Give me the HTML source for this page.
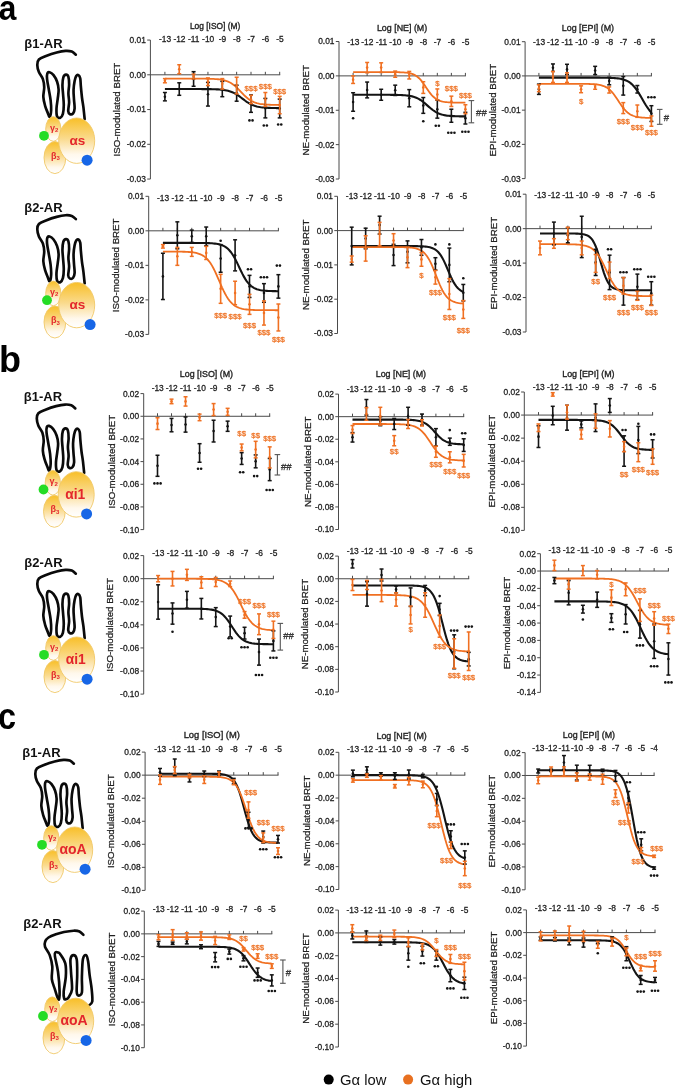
<!DOCTYPE html>
<html><head><meta charset="utf-8"><style>
html,body{margin:0;padding:0;background:#fff;}
svg{display:block;will-change:transform;}
</style></head><body>
<svg width="675" height="1089" viewBox="0 0 675 1089" font-family='"Liberation Sans", sans-serif'>
<rect width="675" height="1089" fill="#fff"/>
<line x1="150.40" y1="40.05" x2="150.40" y2="179.05" stroke="#4a4a4a" stroke-width="1"/>
<line x1="147.20" y1="40.05" x2="150.40" y2="40.05" stroke="#4a4a4a" stroke-width="1"/>
<text x="145.90" y="42.95" font-size="8.4" text-anchor="end" fill="#222" stroke="#222" stroke-width="0.28">0.01</text>
<line x1="147.20" y1="74.80" x2="150.40" y2="74.80" stroke="#4a4a4a" stroke-width="1"/>
<text x="145.90" y="77.70" font-size="8.4" text-anchor="end" fill="#222" stroke="#222" stroke-width="0.28">0.00</text>
<line x1="147.20" y1="109.55" x2="150.40" y2="109.55" stroke="#4a4a4a" stroke-width="1"/>
<text x="145.90" y="112.45" font-size="8.4" text-anchor="end" fill="#222" stroke="#222" stroke-width="0.28">-0.01</text>
<line x1="147.20" y1="144.30" x2="150.40" y2="144.30" stroke="#4a4a4a" stroke-width="1"/>
<text x="145.90" y="147.20" font-size="8.4" text-anchor="end" fill="#222" stroke="#222" stroke-width="0.28">-0.02</text>
<line x1="147.20" y1="179.05" x2="150.40" y2="179.05" stroke="#4a4a4a" stroke-width="1"/>
<text x="145.90" y="181.95" font-size="8.4" text-anchor="end" fill="#222" stroke="#222" stroke-width="0.28">-0.03</text>
<line x1="150.40" y1="74.80" x2="280.20" y2="74.80" stroke="#4a4a4a" stroke-width="1"/>
<line x1="164.90" y1="71.80" x2="164.90" y2="74.80" stroke="#4a4a4a" stroke-width="1"/>
<text x="165.10" y="42.45" font-size="8.4" text-anchor="middle" fill="#222" stroke="#222" stroke-width="0.28">-13</text>
<line x1="179.25" y1="71.80" x2="179.25" y2="74.80" stroke="#4a4a4a" stroke-width="1"/>
<text x="179.45" y="42.45" font-size="8.4" text-anchor="middle" fill="#222" stroke="#222" stroke-width="0.28">-12</text>
<line x1="193.60" y1="71.80" x2="193.60" y2="74.80" stroke="#4a4a4a" stroke-width="1"/>
<text x="193.80" y="42.45" font-size="8.4" text-anchor="middle" fill="#222" stroke="#222" stroke-width="0.28">-11</text>
<line x1="207.95" y1="71.80" x2="207.95" y2="74.80" stroke="#4a4a4a" stroke-width="1"/>
<text x="208.15" y="42.45" font-size="8.4" text-anchor="middle" fill="#222" stroke="#222" stroke-width="0.28">-10</text>
<line x1="222.30" y1="71.80" x2="222.30" y2="74.80" stroke="#4a4a4a" stroke-width="1"/>
<text x="222.50" y="42.45" font-size="8.4" text-anchor="middle" fill="#222" stroke="#222" stroke-width="0.28">-9</text>
<line x1="236.65" y1="71.80" x2="236.65" y2="74.80" stroke="#4a4a4a" stroke-width="1"/>
<text x="236.85" y="42.45" font-size="8.4" text-anchor="middle" fill="#222" stroke="#222" stroke-width="0.28">-8</text>
<line x1="251.00" y1="71.80" x2="251.00" y2="74.80" stroke="#4a4a4a" stroke-width="1"/>
<text x="251.20" y="42.45" font-size="8.4" text-anchor="middle" fill="#222" stroke="#222" stroke-width="0.28">-7</text>
<line x1="265.35" y1="71.80" x2="265.35" y2="74.80" stroke="#4a4a4a" stroke-width="1"/>
<text x="265.55" y="42.45" font-size="8.4" text-anchor="middle" fill="#222" stroke="#222" stroke-width="0.28">-6</text>
<line x1="279.70" y1="71.80" x2="279.70" y2="74.80" stroke="#4a4a4a" stroke-width="1"/>
<text x="279.90" y="42.45" font-size="8.4" text-anchor="middle" fill="#222" stroke="#222" stroke-width="0.28">-5</text>
<text x="215.10" y="29.20" font-size="8.4" text-anchor="middle" fill="#222" stroke="#222" stroke-width="0.35">Log [ISO] (M)</text>
<text transform="translate(120.30,109.55) rotate(-90)" font-size="9.7" text-anchor="middle" fill="#222" stroke="#222" stroke-width="0.25">ISO-modulated BRET</text>
<polyline points="164.90,89.05 166.34,89.05 167.77,89.05 169.21,89.05 170.64,89.05 172.08,89.05 173.51,89.05 174.94,89.05 176.38,89.05 177.81,89.05 179.25,89.05 180.69,89.05 182.12,89.05 183.56,89.05 184.99,89.05 186.43,89.05 187.86,89.05 189.29,89.05 190.73,89.05 192.17,89.05 193.60,89.06 195.03,89.06 196.47,89.06 197.91,89.06 199.34,89.07 200.78,89.07 202.21,89.08 203.64,89.09 205.08,89.10 206.52,89.11 207.95,89.12 209.38,89.14 210.82,89.17 212.25,89.20 213.69,89.24 215.12,89.29 216.56,89.35 218.00,89.42 219.43,89.52 220.87,89.63 222.30,89.78 223.73,89.96 225.17,90.18 226.61,90.45 228.04,90.78 229.47,91.18 230.91,91.66 232.34,92.23 233.78,92.88 235.22,93.64 236.65,94.49 238.08,95.43 239.52,96.44 240.95,97.51 242.39,98.60 243.82,99.70 245.26,100.77 246.69,101.78 248.13,102.72 249.56,103.57 251.00,104.32 252.44,104.98 253.87,105.55 255.31,106.02 256.74,106.42 258.18,106.75 259.61,107.03 261.04,107.25 262.48,107.43 263.91,107.57 265.35,107.69 266.78,107.79 268.22,107.86 269.65,107.92 271.09,107.97 272.52,108.01 273.96,108.04 275.39,108.06 276.83,108.08 278.26,108.10 279.70,108.11" fill="none" stroke="#141414" stroke-width="2.1"/>
<polyline points="164.90,78.62 166.34,78.62 167.77,78.62 169.21,78.62 170.64,78.62 172.08,78.62 173.51,78.62 174.94,78.62 176.38,78.62 177.81,78.62 179.25,78.62 180.69,78.62 182.12,78.62 183.56,78.63 184.99,78.63 186.43,78.63 187.86,78.63 189.29,78.63 190.73,78.63 192.17,78.63 193.60,78.64 195.03,78.64 196.47,78.64 197.91,78.65 199.34,78.66 200.78,78.66 202.21,78.68 203.64,78.69 205.08,78.71 206.52,78.73 207.95,78.75 209.38,78.79 210.82,78.83 212.25,78.88 213.69,78.95 215.12,79.03 216.56,79.14 218.00,79.27 219.43,79.43 220.87,79.63 222.30,79.88 223.73,80.19 225.17,80.57 226.61,81.02 228.04,81.58 229.47,82.24 230.91,83.02 232.34,83.92 233.78,84.97 235.22,86.14 236.65,87.44 238.08,88.84 239.52,90.31 240.95,91.83 242.39,93.34 243.82,94.82 245.26,96.22 246.69,97.51 248.13,98.69 249.56,99.73 251.00,100.64 252.44,101.42 253.87,102.08 255.31,102.63 256.74,103.09 258.18,103.47 259.61,103.77 261.04,104.02 262.48,104.22 263.91,104.39 265.35,104.52 266.78,104.62 268.22,104.70 269.65,104.77 271.09,104.82 272.52,104.87 273.96,104.90 275.39,104.93 276.83,104.95 278.26,104.97 279.70,104.98" fill="none" stroke="#f07022" stroke-width="1.8"/>
<line x1="164.90" y1="92.52" x2="164.90" y2="100.86" stroke="#141414" stroke-width="1.6"/>
<line x1="162.90" y1="92.52" x2="166.90" y2="92.52" stroke="#141414" stroke-width="1.5"/>
<line x1="162.90" y1="100.86" x2="166.90" y2="100.86" stroke="#141414" stroke-width="1.5"/>
<circle cx="164.90" cy="96.69" r="1.3" fill="#141414"/>
<line x1="179.25" y1="82.79" x2="179.25" y2="95.30" stroke="#141414" stroke-width="1.6"/>
<line x1="177.25" y1="82.79" x2="181.25" y2="82.79" stroke="#141414" stroke-width="1.5"/>
<line x1="177.25" y1="95.30" x2="181.25" y2="95.30" stroke="#141414" stroke-width="1.5"/>
<circle cx="179.25" cy="89.05" r="1.3" fill="#141414"/>
<line x1="193.60" y1="71.67" x2="193.60" y2="86.27" stroke="#141414" stroke-width="1.6"/>
<line x1="191.60" y1="71.67" x2="195.60" y2="71.67" stroke="#141414" stroke-width="1.5"/>
<line x1="191.60" y1="86.27" x2="195.60" y2="86.27" stroke="#141414" stroke-width="1.5"/>
<circle cx="193.60" cy="78.97" r="1.3" fill="#141414"/>
<line x1="207.95" y1="82.44" x2="207.95" y2="106.07" stroke="#141414" stroke-width="1.6"/>
<line x1="205.95" y1="82.44" x2="209.95" y2="82.44" stroke="#141414" stroke-width="1.5"/>
<line x1="205.95" y1="106.07" x2="209.95" y2="106.07" stroke="#141414" stroke-width="1.5"/>
<circle cx="207.95" cy="94.26" r="1.3" fill="#141414"/>
<line x1="222.30" y1="81.40" x2="222.30" y2="96.69" stroke="#141414" stroke-width="1.6"/>
<line x1="220.30" y1="81.40" x2="224.30" y2="81.40" stroke="#141414" stroke-width="1.5"/>
<line x1="220.30" y1="96.69" x2="224.30" y2="96.69" stroke="#141414" stroke-width="1.5"/>
<circle cx="222.30" cy="89.05" r="1.3" fill="#141414"/>
<line x1="236.65" y1="85.22" x2="236.65" y2="101.21" stroke="#141414" stroke-width="1.6"/>
<line x1="234.65" y1="85.22" x2="238.65" y2="85.22" stroke="#141414" stroke-width="1.5"/>
<line x1="234.65" y1="101.21" x2="238.65" y2="101.21" stroke="#141414" stroke-width="1.5"/>
<circle cx="236.65" cy="93.22" r="1.3" fill="#141414"/>
<line x1="251.00" y1="94.95" x2="251.00" y2="112.33" stroke="#141414" stroke-width="1.6"/>
<line x1="249.00" y1="94.95" x2="253.00" y2="94.95" stroke="#141414" stroke-width="1.5"/>
<line x1="249.00" y1="112.33" x2="253.00" y2="112.33" stroke="#141414" stroke-width="1.5"/>
<circle cx="251.00" cy="103.64" r="1.3" fill="#141414"/>
<line x1="265.35" y1="98.43" x2="265.35" y2="117.89" stroke="#141414" stroke-width="1.6"/>
<line x1="263.35" y1="98.43" x2="267.35" y2="98.43" stroke="#141414" stroke-width="1.5"/>
<line x1="263.35" y1="117.89" x2="267.35" y2="117.89" stroke="#141414" stroke-width="1.5"/>
<circle cx="265.35" cy="108.16" r="1.3" fill="#141414"/>
<line x1="279.70" y1="99.12" x2="279.70" y2="117.89" stroke="#141414" stroke-width="1.6"/>
<line x1="277.70" y1="99.12" x2="281.70" y2="99.12" stroke="#141414" stroke-width="1.5"/>
<line x1="277.70" y1="117.89" x2="281.70" y2="117.89" stroke="#141414" stroke-width="1.5"/>
<circle cx="279.70" cy="108.51" r="1.3" fill="#141414"/>
<line x1="164.90" y1="78.62" x2="164.90" y2="82.79" stroke="#f07022" stroke-width="1.6"/>
<line x1="162.90" y1="78.62" x2="166.90" y2="78.62" stroke="#f07022" stroke-width="1.5"/>
<line x1="162.90" y1="82.79" x2="166.90" y2="82.79" stroke="#f07022" stroke-width="1.5"/>
<circle cx="164.90" cy="80.71" r="1.3" fill="#f07022"/>
<line x1="179.25" y1="64.72" x2="179.25" y2="73.76" stroke="#f07022" stroke-width="1.6"/>
<line x1="177.25" y1="64.72" x2="181.25" y2="64.72" stroke="#f07022" stroke-width="1.5"/>
<line x1="177.25" y1="73.76" x2="181.25" y2="73.76" stroke="#f07022" stroke-width="1.5"/>
<circle cx="179.25" cy="69.24" r="1.3" fill="#f07022"/>
<line x1="193.60" y1="74.10" x2="193.60" y2="78.97" stroke="#f07022" stroke-width="1.6"/>
<line x1="191.60" y1="74.10" x2="195.60" y2="74.10" stroke="#f07022" stroke-width="1.5"/>
<line x1="191.60" y1="78.97" x2="195.60" y2="78.97" stroke="#f07022" stroke-width="1.5"/>
<circle cx="193.60" cy="76.54" r="1.3" fill="#f07022"/>
<line x1="207.95" y1="77.93" x2="207.95" y2="85.57" stroke="#f07022" stroke-width="1.6"/>
<line x1="205.95" y1="77.93" x2="209.95" y2="77.93" stroke="#f07022" stroke-width="1.5"/>
<line x1="205.95" y1="85.57" x2="209.95" y2="85.57" stroke="#f07022" stroke-width="1.5"/>
<circle cx="207.95" cy="81.75" r="1.3" fill="#f07022"/>
<line x1="222.30" y1="78.62" x2="222.30" y2="89.05" stroke="#f07022" stroke-width="1.6"/>
<line x1="220.30" y1="78.62" x2="224.30" y2="78.62" stroke="#f07022" stroke-width="1.5"/>
<line x1="220.30" y1="89.05" x2="224.30" y2="89.05" stroke="#f07022" stroke-width="1.5"/>
<circle cx="222.30" cy="83.84" r="1.3" fill="#f07022"/>
<line x1="236.65" y1="77.23" x2="236.65" y2="93.91" stroke="#f07022" stroke-width="1.6"/>
<line x1="234.65" y1="77.23" x2="238.65" y2="77.23" stroke="#f07022" stroke-width="1.5"/>
<line x1="234.65" y1="93.91" x2="238.65" y2="93.91" stroke="#f07022" stroke-width="1.5"/>
<circle cx="236.65" cy="85.57" r="1.3" fill="#f07022"/>
<line x1="251.00" y1="95.30" x2="251.00" y2="103.64" stroke="#f07022" stroke-width="1.6"/>
<line x1="249.00" y1="95.30" x2="253.00" y2="95.30" stroke="#f07022" stroke-width="1.5"/>
<line x1="249.00" y1="103.64" x2="253.00" y2="103.64" stroke="#f07022" stroke-width="1.5"/>
<circle cx="251.00" cy="99.47" r="1.3" fill="#f07022"/>
<line x1="265.35" y1="92.52" x2="265.35" y2="106.42" stroke="#f07022" stroke-width="1.6"/>
<line x1="263.35" y1="92.52" x2="267.35" y2="92.52" stroke="#f07022" stroke-width="1.5"/>
<line x1="263.35" y1="106.42" x2="267.35" y2="106.42" stroke="#f07022" stroke-width="1.5"/>
<circle cx="265.35" cy="99.47" r="1.3" fill="#f07022"/>
<line x1="279.70" y1="96.34" x2="279.70" y2="113.72" stroke="#f07022" stroke-width="1.6"/>
<line x1="277.70" y1="96.34" x2="281.70" y2="96.34" stroke="#f07022" stroke-width="1.5"/>
<line x1="277.70" y1="113.72" x2="281.70" y2="113.72" stroke="#f07022" stroke-width="1.5"/>
<circle cx="279.70" cy="105.03" r="1.3" fill="#f07022"/>
<circle cx="249.45" cy="120.40" r="1.3" fill="#141414"/>
<circle cx="252.55" cy="120.40" r="1.3" fill="#141414"/>
<circle cx="263.80" cy="125.50" r="1.3" fill="#141414"/>
<circle cx="266.90" cy="125.50" r="1.3" fill="#141414"/>
<circle cx="278.15" cy="124.50" r="1.3" fill="#141414"/>
<circle cx="281.25" cy="124.50" r="1.3" fill="#141414"/>
<text x="251.00" y="90.70" font-size="7.8" text-anchor="middle" fill="#ef7a30" stroke="#ef7a30" stroke-width="0.3">$$$</text>
<text x="265.35" y="88.60" font-size="7.8" text-anchor="middle" fill="#ef7a30" stroke="#ef7a30" stroke-width="0.3">$$$</text>
<text x="279.70" y="93.80" font-size="7.8" text-anchor="middle" fill="#ef7a30" stroke="#ef7a30" stroke-width="0.3">$$$</text>
<line x1="339.00" y1="41.50" x2="339.00" y2="179.00" stroke="#4a4a4a" stroke-width="1"/>
<line x1="335.80" y1="41.50" x2="339.00" y2="41.50" stroke="#4a4a4a" stroke-width="1"/>
<text x="334.50" y="44.40" font-size="8.4" text-anchor="end" fill="#222" stroke="#222" stroke-width="0.28">0.01</text>
<line x1="335.80" y1="75.88" x2="339.00" y2="75.88" stroke="#4a4a4a" stroke-width="1"/>
<text x="334.50" y="78.78" font-size="8.4" text-anchor="end" fill="#222" stroke="#222" stroke-width="0.28">0.00</text>
<line x1="335.80" y1="110.25" x2="339.00" y2="110.25" stroke="#4a4a4a" stroke-width="1"/>
<text x="334.50" y="113.15" font-size="8.4" text-anchor="end" fill="#222" stroke="#222" stroke-width="0.28">-0.01</text>
<line x1="335.80" y1="144.62" x2="339.00" y2="144.62" stroke="#4a4a4a" stroke-width="1"/>
<text x="334.50" y="147.53" font-size="8.4" text-anchor="end" fill="#222" stroke="#222" stroke-width="0.28">-0.02</text>
<line x1="335.80" y1="179.00" x2="339.00" y2="179.00" stroke="#4a4a4a" stroke-width="1"/>
<text x="334.50" y="181.90" font-size="8.4" text-anchor="end" fill="#222" stroke="#222" stroke-width="0.28">-0.03</text>
<line x1="339.00" y1="75.88" x2="465.90" y2="75.88" stroke="#4a4a4a" stroke-width="1"/>
<line x1="353.10" y1="72.88" x2="353.10" y2="75.88" stroke="#4a4a4a" stroke-width="1"/>
<text x="353.30" y="44.80" font-size="8.4" text-anchor="middle" fill="#222" stroke="#222" stroke-width="0.28">-13</text>
<line x1="367.14" y1="72.88" x2="367.14" y2="75.88" stroke="#4a4a4a" stroke-width="1"/>
<text x="367.34" y="44.80" font-size="8.4" text-anchor="middle" fill="#222" stroke="#222" stroke-width="0.28">-12</text>
<line x1="381.18" y1="72.88" x2="381.18" y2="75.88" stroke="#4a4a4a" stroke-width="1"/>
<text x="381.38" y="44.80" font-size="8.4" text-anchor="middle" fill="#222" stroke="#222" stroke-width="0.28">-11</text>
<line x1="395.21" y1="72.88" x2="395.21" y2="75.88" stroke="#4a4a4a" stroke-width="1"/>
<text x="395.41" y="44.80" font-size="8.4" text-anchor="middle" fill="#222" stroke="#222" stroke-width="0.28">-10</text>
<line x1="409.25" y1="72.88" x2="409.25" y2="75.88" stroke="#4a4a4a" stroke-width="1"/>
<text x="409.45" y="44.80" font-size="8.4" text-anchor="middle" fill="#222" stroke="#222" stroke-width="0.28">-9</text>
<line x1="423.29" y1="72.88" x2="423.29" y2="75.88" stroke="#4a4a4a" stroke-width="1"/>
<text x="423.49" y="44.80" font-size="8.4" text-anchor="middle" fill="#222" stroke="#222" stroke-width="0.28">-8</text>
<line x1="437.32" y1="72.88" x2="437.32" y2="75.88" stroke="#4a4a4a" stroke-width="1"/>
<text x="437.52" y="44.80" font-size="8.4" text-anchor="middle" fill="#222" stroke="#222" stroke-width="0.28">-7</text>
<line x1="451.36" y1="72.88" x2="451.36" y2="75.88" stroke="#4a4a4a" stroke-width="1"/>
<text x="451.56" y="44.80" font-size="8.4" text-anchor="middle" fill="#222" stroke="#222" stroke-width="0.28">-6</text>
<line x1="465.40" y1="72.88" x2="465.40" y2="75.88" stroke="#4a4a4a" stroke-width="1"/>
<text x="465.60" y="44.80" font-size="8.4" text-anchor="middle" fill="#222" stroke="#222" stroke-width="0.28">-5</text>
<text x="402.05" y="31.00" font-size="8.9" text-anchor="middle" fill="#222" stroke="#222" stroke-width="0.35">Log [NE] (M)</text>
<text transform="translate(309.20,110.25) rotate(-90)" font-size="9.7" text-anchor="middle" fill="#222" stroke="#222" stroke-width="0.25">NE-modulated BRET</text>
<polyline points="353.10,94.78 354.50,94.78 355.91,94.78 357.31,94.78 358.72,94.78 360.12,94.78 361.52,94.78 362.93,94.78 364.33,94.78 365.73,94.78 367.14,94.78 368.54,94.78 369.94,94.78 371.35,94.78 372.75,94.78 374.16,94.78 375.56,94.79 376.96,94.79 378.37,94.79 379.77,94.79 381.18,94.79 382.58,94.79 383.98,94.80 385.39,94.80 386.79,94.81 388.19,94.82 389.60,94.82 391.00,94.84 392.41,94.85 393.81,94.87 395.21,94.89 396.62,94.92 398.02,94.95 399.42,95.00 400.83,95.05 402.23,95.12 403.63,95.20 405.04,95.31 406.44,95.45 407.85,95.61 409.25,95.81 410.65,96.07 412.06,96.37 413.46,96.75 414.87,97.20 416.27,97.74 417.67,98.38 419.08,99.13 420.48,99.98 421.88,100.95 423.29,102.01 424.69,103.16 426.10,104.37 427.50,105.61 428.90,106.85 430.31,108.06 431.71,109.21 433.11,110.27 434.52,111.23 435.92,112.09 437.32,112.84 438.73,113.47 440.13,114.02 441.54,114.47 442.94,114.84 444.34,115.15 445.75,115.40 447.15,115.61 448.55,115.77 449.96,115.91 451.36,116.01 452.77,116.10 454.17,116.17 455.57,116.22 456.98,116.27 458.38,116.30 459.78,116.33 461.19,116.35 462.59,116.37 464.00,116.38 465.40,116.39" fill="none" stroke="#141414" stroke-width="2.1"/>
<polyline points="353.10,72.09 354.50,72.09 355.91,72.09 357.31,72.09 358.72,72.09 360.12,72.09 361.52,72.09 362.93,72.09 364.33,72.09 365.73,72.09 367.14,72.09 368.54,72.09 369.94,72.09 371.35,72.09 372.75,72.09 374.16,72.09 375.56,72.10 376.96,72.10 378.37,72.10 379.77,72.10 381.18,72.10 382.58,72.10 383.98,72.10 385.39,72.10 386.79,72.11 388.19,72.11 389.60,72.12 391.00,72.12 392.41,72.13 393.81,72.15 395.21,72.16 396.62,72.19 398.02,72.22 399.42,72.25 400.83,72.30 402.23,72.37 403.63,72.46 405.04,72.57 406.44,72.72 407.85,72.91 409.25,73.17 410.65,73.49 412.06,73.91 413.46,74.44 414.87,75.12 416.27,75.96 417.67,76.99 419.08,78.24 420.48,79.70 421.88,81.39 423.29,83.27 424.69,85.29 426.10,87.39 427.50,89.49 428.90,91.51 430.31,93.39 431.71,95.08 433.11,96.55 434.52,97.79 435.92,98.82 437.32,99.66 438.73,100.34 440.13,100.87 441.54,101.29 442.94,101.62 444.34,101.87 445.75,102.06 447.15,102.21 448.55,102.32 449.96,102.41 451.36,102.48 452.77,102.53 454.17,102.57 455.57,102.60 456.98,102.62 458.38,102.63 459.78,102.65 461.19,102.66 462.59,102.66 464.00,102.67 465.40,102.67" fill="none" stroke="#f07022" stroke-width="1.8"/>
<line x1="353.10" y1="92.72" x2="353.10" y2="111.28" stroke="#141414" stroke-width="1.6"/>
<line x1="351.10" y1="92.72" x2="355.10" y2="92.72" stroke="#141414" stroke-width="1.5"/>
<line x1="351.10" y1="111.28" x2="355.10" y2="111.28" stroke="#141414" stroke-width="1.5"/>
<circle cx="353.10" cy="102.00" r="1.3" fill="#141414"/>
<line x1="367.14" y1="82.06" x2="367.14" y2="97.88" stroke="#141414" stroke-width="1.6"/>
<line x1="365.14" y1="82.06" x2="369.14" y2="82.06" stroke="#141414" stroke-width="1.5"/>
<line x1="365.14" y1="97.88" x2="369.14" y2="97.88" stroke="#141414" stroke-width="1.5"/>
<circle cx="367.14" cy="89.97" r="1.3" fill="#141414"/>
<line x1="381.18" y1="89.28" x2="381.18" y2="100.28" stroke="#141414" stroke-width="1.6"/>
<line x1="379.18" y1="89.28" x2="383.18" y2="89.28" stroke="#141414" stroke-width="1.5"/>
<line x1="379.18" y1="100.28" x2="383.18" y2="100.28" stroke="#141414" stroke-width="1.5"/>
<circle cx="381.18" cy="94.78" r="1.3" fill="#141414"/>
<line x1="395.21" y1="85.16" x2="395.21" y2="95.47" stroke="#141414" stroke-width="1.6"/>
<line x1="393.21" y1="85.16" x2="397.21" y2="85.16" stroke="#141414" stroke-width="1.5"/>
<line x1="393.21" y1="95.47" x2="397.21" y2="95.47" stroke="#141414" stroke-width="1.5"/>
<circle cx="395.21" cy="90.31" r="1.3" fill="#141414"/>
<line x1="409.25" y1="89.62" x2="409.25" y2="106.81" stroke="#141414" stroke-width="1.6"/>
<line x1="407.25" y1="89.62" x2="411.25" y2="89.62" stroke="#141414" stroke-width="1.5"/>
<line x1="407.25" y1="106.81" x2="411.25" y2="106.81" stroke="#141414" stroke-width="1.5"/>
<circle cx="409.25" cy="98.22" r="1.3" fill="#141414"/>
<line x1="423.29" y1="97.53" x2="423.29" y2="113.34" stroke="#141414" stroke-width="1.6"/>
<line x1="421.29" y1="97.53" x2="425.29" y2="97.53" stroke="#141414" stroke-width="1.5"/>
<line x1="421.29" y1="113.34" x2="425.29" y2="113.34" stroke="#141414" stroke-width="1.5"/>
<circle cx="423.29" cy="105.44" r="1.3" fill="#141414"/>
<line x1="437.32" y1="100.28" x2="437.32" y2="118.16" stroke="#141414" stroke-width="1.6"/>
<line x1="435.32" y1="100.28" x2="439.32" y2="100.28" stroke="#141414" stroke-width="1.5"/>
<line x1="435.32" y1="118.16" x2="439.32" y2="118.16" stroke="#141414" stroke-width="1.5"/>
<circle cx="437.32" cy="109.22" r="1.3" fill="#141414"/>
<line x1="451.36" y1="109.22" x2="451.36" y2="122.28" stroke="#141414" stroke-width="1.6"/>
<line x1="449.36" y1="109.22" x2="453.36" y2="109.22" stroke="#141414" stroke-width="1.5"/>
<line x1="449.36" y1="122.28" x2="453.36" y2="122.28" stroke="#141414" stroke-width="1.5"/>
<circle cx="451.36" cy="115.75" r="1.3" fill="#141414"/>
<line x1="465.40" y1="112.31" x2="465.40" y2="124.00" stroke="#141414" stroke-width="1.6"/>
<line x1="463.40" y1="112.31" x2="467.40" y2="112.31" stroke="#141414" stroke-width="1.5"/>
<line x1="463.40" y1="124.00" x2="467.40" y2="124.00" stroke="#141414" stroke-width="1.5"/>
<circle cx="465.40" cy="118.16" r="1.3" fill="#141414"/>
<line x1="353.10" y1="75.88" x2="353.10" y2="83.44" stroke="#f07022" stroke-width="1.6"/>
<line x1="351.10" y1="75.88" x2="355.10" y2="75.88" stroke="#f07022" stroke-width="1.5"/>
<line x1="351.10" y1="83.44" x2="355.10" y2="83.44" stroke="#f07022" stroke-width="1.5"/>
<circle cx="353.10" cy="79.66" r="1.3" fill="#f07022"/>
<line x1="367.14" y1="62.47" x2="367.14" y2="72.78" stroke="#f07022" stroke-width="1.6"/>
<line x1="365.14" y1="62.47" x2="369.14" y2="62.47" stroke="#f07022" stroke-width="1.5"/>
<line x1="365.14" y1="72.78" x2="369.14" y2="72.78" stroke="#f07022" stroke-width="1.5"/>
<circle cx="367.14" cy="67.62" r="1.3" fill="#f07022"/>
<line x1="381.18" y1="62.81" x2="381.18" y2="72.44" stroke="#f07022" stroke-width="1.6"/>
<line x1="379.18" y1="62.81" x2="383.18" y2="62.81" stroke="#f07022" stroke-width="1.5"/>
<line x1="379.18" y1="72.44" x2="383.18" y2="72.44" stroke="#f07022" stroke-width="1.5"/>
<circle cx="381.18" cy="67.62" r="1.3" fill="#f07022"/>
<line x1="395.21" y1="71.06" x2="395.21" y2="77.25" stroke="#f07022" stroke-width="1.6"/>
<line x1="393.21" y1="71.06" x2="397.21" y2="71.06" stroke="#f07022" stroke-width="1.5"/>
<line x1="393.21" y1="77.25" x2="397.21" y2="77.25" stroke="#f07022" stroke-width="1.5"/>
<circle cx="395.21" cy="74.16" r="1.3" fill="#f07022"/>
<line x1="409.25" y1="71.41" x2="409.25" y2="78.97" stroke="#f07022" stroke-width="1.6"/>
<line x1="407.25" y1="71.41" x2="411.25" y2="71.41" stroke="#f07022" stroke-width="1.5"/>
<line x1="407.25" y1="78.97" x2="411.25" y2="78.97" stroke="#f07022" stroke-width="1.5"/>
<circle cx="409.25" cy="75.19" r="1.3" fill="#f07022"/>
<line x1="423.29" y1="81.72" x2="423.29" y2="93.41" stroke="#f07022" stroke-width="1.6"/>
<line x1="421.29" y1="81.72" x2="425.29" y2="81.72" stroke="#f07022" stroke-width="1.5"/>
<line x1="421.29" y1="93.41" x2="425.29" y2="93.41" stroke="#f07022" stroke-width="1.5"/>
<circle cx="423.29" cy="87.56" r="1.3" fill="#f07022"/>
<line x1="437.32" y1="88.94" x2="437.32" y2="99.94" stroke="#f07022" stroke-width="1.6"/>
<line x1="435.32" y1="88.94" x2="439.32" y2="88.94" stroke="#f07022" stroke-width="1.5"/>
<line x1="435.32" y1="99.94" x2="439.32" y2="99.94" stroke="#f07022" stroke-width="1.5"/>
<circle cx="437.32" cy="94.44" r="1.3" fill="#f07022"/>
<line x1="451.36" y1="96.16" x2="451.36" y2="106.47" stroke="#f07022" stroke-width="1.6"/>
<line x1="449.36" y1="96.16" x2="453.36" y2="96.16" stroke="#f07022" stroke-width="1.5"/>
<line x1="449.36" y1="106.47" x2="453.36" y2="106.47" stroke="#f07022" stroke-width="1.5"/>
<circle cx="451.36" cy="101.31" r="1.3" fill="#f07022"/>
<line x1="465.40" y1="104.75" x2="465.40" y2="113.69" stroke="#f07022" stroke-width="1.6"/>
<line x1="463.40" y1="104.75" x2="467.40" y2="104.75" stroke="#f07022" stroke-width="1.5"/>
<line x1="463.40" y1="113.69" x2="467.40" y2="113.69" stroke="#f07022" stroke-width="1.5"/>
<circle cx="465.40" cy="109.22" r="1.3" fill="#f07022"/>
<circle cx="353.10" cy="118.30" r="1.3" fill="#141414"/>
<circle cx="423.29" cy="121.20" r="1.3" fill="#141414"/>
<circle cx="435.77" cy="125.70" r="1.3" fill="#141414"/>
<circle cx="438.88" cy="125.70" r="1.3" fill="#141414"/>
<circle cx="448.26" cy="132.80" r="1.3" fill="#141414"/>
<circle cx="451.36" cy="132.80" r="1.3" fill="#141414"/>
<circle cx="454.46" cy="132.80" r="1.3" fill="#141414"/>
<circle cx="462.30" cy="131.70" r="1.3" fill="#141414"/>
<circle cx="465.40" cy="131.70" r="1.3" fill="#141414"/>
<circle cx="468.50" cy="131.70" r="1.3" fill="#141414"/>
<text x="437.32" y="86.40" font-size="7.8" text-anchor="middle" fill="#ef7a30" stroke="#ef7a30" stroke-width="0.3">$</text>
<text x="451.36" y="90.80" font-size="7.8" text-anchor="middle" fill="#ef7a30" stroke="#ef7a30" stroke-width="0.3">$$$</text>
<text x="465.40" y="97.90" font-size="7.8" text-anchor="middle" fill="#ef7a30" stroke="#ef7a30" stroke-width="0.3">$$$</text>
<line x1="471.4" y1="100.6" x2="471.4" y2="122.8" stroke="#555" stroke-width="1.1"/>
<line x1="468.59999999999997" y1="100.6" x2="474.2" y2="100.6" stroke="#555" stroke-width="1.1"/>
<line x1="468.59999999999997" y1="122.8" x2="474.2" y2="122.8" stroke="#555" stroke-width="1.1"/>
<text x="481.4" y="116.2" font-size="9.5" text-anchor="middle" fill="#333" stroke="#333" stroke-width="0.3">##</text>
<line x1="525.10" y1="41.70" x2="525.10" y2="178.60" stroke="#4a4a4a" stroke-width="1"/>
<line x1="521.90" y1="41.70" x2="525.10" y2="41.70" stroke="#4a4a4a" stroke-width="1"/>
<text x="520.60" y="44.60" font-size="8.4" text-anchor="end" fill="#222" stroke="#222" stroke-width="0.28">0.01</text>
<line x1="521.90" y1="75.92" x2="525.10" y2="75.92" stroke="#4a4a4a" stroke-width="1"/>
<text x="520.60" y="78.83" font-size="8.4" text-anchor="end" fill="#222" stroke="#222" stroke-width="0.28">0.00</text>
<line x1="521.90" y1="110.15" x2="525.10" y2="110.15" stroke="#4a4a4a" stroke-width="1"/>
<text x="520.60" y="113.05" font-size="8.4" text-anchor="end" fill="#222" stroke="#222" stroke-width="0.28">-0.01</text>
<line x1="521.90" y1="144.38" x2="525.10" y2="144.38" stroke="#4a4a4a" stroke-width="1"/>
<text x="520.60" y="147.28" font-size="8.4" text-anchor="end" fill="#222" stroke="#222" stroke-width="0.28">-0.02</text>
<line x1="521.90" y1="178.60" x2="525.10" y2="178.60" stroke="#4a4a4a" stroke-width="1"/>
<text x="520.60" y="181.50" font-size="8.4" text-anchor="end" fill="#222" stroke="#222" stroke-width="0.28">-0.03</text>
<line x1="525.10" y1="75.92" x2="651.90" y2="75.92" stroke="#4a4a4a" stroke-width="1"/>
<line x1="538.90" y1="72.92" x2="538.90" y2="75.92" stroke="#4a4a4a" stroke-width="1"/>
<text x="539.10" y="45.10" font-size="8.4" text-anchor="middle" fill="#222" stroke="#222" stroke-width="0.28">-13</text>
<line x1="552.96" y1="72.92" x2="552.96" y2="75.92" stroke="#4a4a4a" stroke-width="1"/>
<text x="553.16" y="45.10" font-size="8.4" text-anchor="middle" fill="#222" stroke="#222" stroke-width="0.28">-12</text>
<line x1="567.02" y1="72.92" x2="567.02" y2="75.92" stroke="#4a4a4a" stroke-width="1"/>
<text x="567.23" y="45.10" font-size="8.4" text-anchor="middle" fill="#222" stroke="#222" stroke-width="0.28">-11</text>
<line x1="581.09" y1="72.92" x2="581.09" y2="75.92" stroke="#4a4a4a" stroke-width="1"/>
<text x="581.29" y="45.10" font-size="8.4" text-anchor="middle" fill="#222" stroke="#222" stroke-width="0.28">-10</text>
<line x1="595.15" y1="72.92" x2="595.15" y2="75.92" stroke="#4a4a4a" stroke-width="1"/>
<text x="595.35" y="45.10" font-size="8.4" text-anchor="middle" fill="#222" stroke="#222" stroke-width="0.28">-9</text>
<line x1="609.21" y1="72.92" x2="609.21" y2="75.92" stroke="#4a4a4a" stroke-width="1"/>
<text x="609.41" y="45.10" font-size="8.4" text-anchor="middle" fill="#222" stroke="#222" stroke-width="0.28">-8</text>
<line x1="623.27" y1="72.92" x2="623.27" y2="75.92" stroke="#4a4a4a" stroke-width="1"/>
<text x="623.48" y="45.10" font-size="8.4" text-anchor="middle" fill="#222" stroke="#222" stroke-width="0.28">-7</text>
<line x1="637.34" y1="72.92" x2="637.34" y2="75.92" stroke="#4a4a4a" stroke-width="1"/>
<text x="637.54" y="45.10" font-size="8.4" text-anchor="middle" fill="#222" stroke="#222" stroke-width="0.28">-6</text>
<line x1="651.40" y1="72.92" x2="651.40" y2="75.92" stroke="#4a4a4a" stroke-width="1"/>
<text x="651.60" y="45.10" font-size="8.4" text-anchor="middle" fill="#222" stroke="#222" stroke-width="0.28">-5</text>
<text x="587.95" y="31.00" font-size="8.9" text-anchor="middle" fill="#222" stroke="#222" stroke-width="0.35">Log [EPI] (M)</text>
<text transform="translate(495.50,110.15) rotate(-90)" font-size="9.7" text-anchor="middle" fill="#222" stroke="#222" stroke-width="0.25">EPI-modulated BRET</text>
<polyline points="538.90,77.64 540.31,77.64 541.71,77.64 543.12,77.64 544.52,77.64 545.93,77.64 547.34,77.64 548.74,77.64 550.15,77.64 551.56,77.64 552.96,77.64 554.37,77.64 555.77,77.64 557.18,77.64 558.59,77.64 559.99,77.64 561.40,77.64 562.81,77.64 564.21,77.64 565.62,77.64 567.02,77.64 568.43,77.64 569.84,77.64 571.24,77.64 572.65,77.64 574.06,77.64 575.46,77.64 576.87,77.64 578.27,77.64 579.68,77.64 581.09,77.64 582.49,77.64 583.90,77.64 585.31,77.64 586.71,77.64 588.12,77.64 589.52,77.64 590.93,77.65 592.34,77.65 593.74,77.65 595.15,77.66 596.56,77.66 597.96,77.67 599.37,77.67 600.77,77.68 602.18,77.70 603.59,77.71 604.99,77.73 606.40,77.76 607.81,77.79 609.21,77.83 610.62,77.88 612.02,77.94 613.43,78.01 614.84,78.11 616.24,78.23 617.65,78.38 619.06,78.57 620.46,78.81 621.87,79.10 623.27,79.47 624.68,79.91 626.09,80.46 627.49,81.14 628.90,81.95 630.31,82.93 631.71,84.10 633.12,85.46 634.52,87.04 635.93,88.84 637.34,90.85 638.74,93.03 640.15,95.37 641.56,97.80 642.96,100.26 644.37,102.68 645.77,105.02 647.18,107.21 648.59,109.21 649.99,111.01 651.40,112.59" fill="none" stroke="#141414" stroke-width="2.1"/>
<polyline points="538.90,83.80 540.31,83.80 541.71,83.80 543.12,83.80 544.52,83.80 545.93,83.80 547.34,83.80 548.74,83.80 550.15,83.80 551.56,83.80 552.96,83.80 554.37,83.80 555.77,83.80 557.18,83.80 558.59,83.80 559.99,83.80 561.40,83.80 562.81,83.80 564.21,83.80 565.62,83.80 567.02,83.80 568.43,83.80 569.84,83.80 571.24,83.80 572.65,83.81 574.06,83.81 575.46,83.81 576.87,83.82 578.27,83.82 579.68,83.83 581.09,83.84 582.49,83.85 583.90,83.87 585.31,83.89 586.71,83.91 588.12,83.94 589.52,83.99 590.93,84.04 592.34,84.11 593.74,84.20 595.15,84.31 596.56,84.46 597.96,84.64 599.37,84.88 600.77,85.18 602.18,85.56 603.59,86.04 604.99,86.63 606.40,87.36 607.81,88.25 609.21,89.33 610.62,90.60 612.02,92.09 613.43,93.78 614.84,95.67 616.24,97.70 617.65,99.83 619.06,101.99 620.46,104.12 621.87,106.15 623.27,108.03 624.68,109.73 626.09,111.21 627.49,112.49 628.90,113.57 630.31,114.46 631.71,115.19 633.12,115.78 634.52,116.26 635.93,116.64 637.34,116.94 638.74,117.17 640.15,117.36 641.56,117.51 642.96,117.62 644.37,117.71 645.77,117.78 647.18,117.83 648.59,117.87 649.99,117.91 651.40,117.93" fill="none" stroke="#f07022" stroke-width="1.8"/>
<line x1="538.90" y1="84.14" x2="538.90" y2="94.41" stroke="#141414" stroke-width="1.6"/>
<line x1="536.90" y1="84.14" x2="540.90" y2="84.14" stroke="#141414" stroke-width="1.5"/>
<line x1="536.90" y1="94.41" x2="540.90" y2="94.41" stroke="#141414" stroke-width="1.5"/>
<circle cx="538.90" cy="89.27" r="1.3" fill="#141414"/>
<line x1="552.96" y1="63.95" x2="552.96" y2="71.48" stroke="#141414" stroke-width="1.6"/>
<line x1="550.96" y1="63.95" x2="554.96" y2="63.95" stroke="#141414" stroke-width="1.5"/>
<line x1="550.96" y1="71.48" x2="554.96" y2="71.48" stroke="#141414" stroke-width="1.5"/>
<circle cx="552.96" cy="67.71" r="1.3" fill="#141414"/>
<line x1="567.02" y1="64.29" x2="567.02" y2="74.56" stroke="#141414" stroke-width="1.6"/>
<line x1="565.02" y1="64.29" x2="569.02" y2="64.29" stroke="#141414" stroke-width="1.5"/>
<line x1="565.02" y1="74.56" x2="569.02" y2="74.56" stroke="#141414" stroke-width="1.5"/>
<circle cx="567.02" cy="69.42" r="1.3" fill="#141414"/>
<line x1="595.15" y1="66.34" x2="595.15" y2="74.56" stroke="#141414" stroke-width="1.6"/>
<line x1="593.15" y1="66.34" x2="597.15" y2="66.34" stroke="#141414" stroke-width="1.5"/>
<line x1="593.15" y1="74.56" x2="597.15" y2="74.56" stroke="#141414" stroke-width="1.5"/>
<circle cx="595.15" cy="70.45" r="1.3" fill="#141414"/>
<line x1="609.21" y1="77.29" x2="609.21" y2="84.82" stroke="#141414" stroke-width="1.6"/>
<line x1="607.21" y1="77.29" x2="611.21" y2="77.29" stroke="#141414" stroke-width="1.5"/>
<line x1="607.21" y1="84.82" x2="611.21" y2="84.82" stroke="#141414" stroke-width="1.5"/>
<circle cx="609.21" cy="81.06" r="1.3" fill="#141414"/>
<line x1="623.27" y1="76.61" x2="623.27" y2="95.09" stroke="#141414" stroke-width="1.6"/>
<line x1="621.27" y1="76.61" x2="625.27" y2="76.61" stroke="#141414" stroke-width="1.5"/>
<line x1="621.27" y1="95.09" x2="625.27" y2="95.09" stroke="#141414" stroke-width="1.5"/>
<circle cx="623.27" cy="85.85" r="1.3" fill="#141414"/>
<line x1="637.34" y1="85.51" x2="637.34" y2="93.04" stroke="#141414" stroke-width="1.6"/>
<line x1="635.34" y1="85.51" x2="639.34" y2="85.51" stroke="#141414" stroke-width="1.5"/>
<line x1="635.34" y1="93.04" x2="639.34" y2="93.04" stroke="#141414" stroke-width="1.5"/>
<circle cx="637.34" cy="89.27" r="1.3" fill="#141414"/>
<line x1="651.40" y1="105.70" x2="651.40" y2="121.44" stroke="#141414" stroke-width="1.6"/>
<line x1="649.40" y1="105.70" x2="653.40" y2="105.70" stroke="#141414" stroke-width="1.5"/>
<line x1="649.40" y1="121.44" x2="653.40" y2="121.44" stroke="#141414" stroke-width="1.5"/>
<circle cx="651.40" cy="113.57" r="1.3" fill="#141414"/>
<line x1="538.90" y1="84.82" x2="538.90" y2="91.67" stroke="#f07022" stroke-width="1.6"/>
<line x1="536.90" y1="84.82" x2="540.90" y2="84.82" stroke="#f07022" stroke-width="1.5"/>
<line x1="536.90" y1="91.67" x2="540.90" y2="91.67" stroke="#f07022" stroke-width="1.5"/>
<circle cx="538.90" cy="88.25" r="1.3" fill="#f07022"/>
<line x1="552.96" y1="71.48" x2="552.96" y2="82.43" stroke="#f07022" stroke-width="1.6"/>
<line x1="550.96" y1="71.48" x2="554.96" y2="71.48" stroke="#f07022" stroke-width="1.5"/>
<line x1="550.96" y1="82.43" x2="554.96" y2="82.43" stroke="#f07022" stroke-width="1.5"/>
<circle cx="552.96" cy="76.95" r="1.3" fill="#f07022"/>
<line x1="567.02" y1="72.84" x2="567.02" y2="82.43" stroke="#f07022" stroke-width="1.6"/>
<line x1="565.02" y1="72.84" x2="569.02" y2="72.84" stroke="#f07022" stroke-width="1.5"/>
<line x1="565.02" y1="82.43" x2="569.02" y2="82.43" stroke="#f07022" stroke-width="1.5"/>
<circle cx="567.02" cy="77.64" r="1.3" fill="#f07022"/>
<line x1="581.09" y1="85.85" x2="581.09" y2="92.70" stroke="#f07022" stroke-width="1.6"/>
<line x1="579.09" y1="85.85" x2="583.09" y2="85.85" stroke="#f07022" stroke-width="1.5"/>
<line x1="579.09" y1="92.70" x2="583.09" y2="92.70" stroke="#f07022" stroke-width="1.5"/>
<circle cx="581.09" cy="89.27" r="1.3" fill="#f07022"/>
<line x1="595.15" y1="84.48" x2="595.15" y2="89.27" stroke="#f07022" stroke-width="1.6"/>
<line x1="593.15" y1="84.48" x2="597.15" y2="84.48" stroke="#f07022" stroke-width="1.5"/>
<line x1="593.15" y1="89.27" x2="597.15" y2="89.27" stroke="#f07022" stroke-width="1.5"/>
<circle cx="595.15" cy="86.88" r="1.3" fill="#f07022"/>
<line x1="609.21" y1="86.88" x2="609.21" y2="93.04" stroke="#f07022" stroke-width="1.6"/>
<line x1="607.21" y1="86.88" x2="611.21" y2="86.88" stroke="#f07022" stroke-width="1.5"/>
<line x1="607.21" y1="93.04" x2="611.21" y2="93.04" stroke="#f07022" stroke-width="1.5"/>
<circle cx="609.21" cy="89.96" r="1.3" fill="#f07022"/>
<line x1="623.27" y1="102.62" x2="623.27" y2="113.57" stroke="#f07022" stroke-width="1.6"/>
<line x1="621.27" y1="102.62" x2="625.27" y2="102.62" stroke="#f07022" stroke-width="1.5"/>
<line x1="621.27" y1="113.57" x2="625.27" y2="113.57" stroke="#f07022" stroke-width="1.5"/>
<circle cx="623.27" cy="108.10" r="1.3" fill="#f07022"/>
<line x1="637.34" y1="105.02" x2="637.34" y2="117.34" stroke="#f07022" stroke-width="1.6"/>
<line x1="635.34" y1="105.02" x2="639.34" y2="105.02" stroke="#f07022" stroke-width="1.5"/>
<line x1="635.34" y1="117.34" x2="639.34" y2="117.34" stroke="#f07022" stroke-width="1.5"/>
<circle cx="637.34" cy="111.18" r="1.3" fill="#f07022"/>
<line x1="651.40" y1="115.97" x2="651.40" y2="126.24" stroke="#f07022" stroke-width="1.6"/>
<line x1="649.40" y1="115.97" x2="653.40" y2="115.97" stroke="#f07022" stroke-width="1.5"/>
<line x1="649.40" y1="126.24" x2="653.40" y2="126.24" stroke="#f07022" stroke-width="1.5"/>
<circle cx="651.40" cy="121.10" r="1.3" fill="#f07022"/>
<circle cx="648.30" cy="97.20" r="1.3" fill="#141414"/>
<circle cx="651.40" cy="97.20" r="1.3" fill="#141414"/>
<circle cx="654.50" cy="97.20" r="1.3" fill="#141414"/>
<text x="581.09" y="104.20" font-size="7.8" text-anchor="middle" fill="#ef7a30" stroke="#ef7a30" stroke-width="0.3">$</text>
<text x="623.27" y="124.20" font-size="7.8" text-anchor="middle" fill="#ef7a30" stroke="#ef7a30" stroke-width="0.3">$$$</text>
<text x="637.34" y="129.70" font-size="7.8" text-anchor="middle" fill="#ef7a30" stroke="#ef7a30" stroke-width="0.3">$$$</text>
<text x="651.40" y="134.80" font-size="7.8" text-anchor="middle" fill="#ef7a30" stroke="#ef7a30" stroke-width="0.3">$$$</text>
<line x1="659.7" y1="109.4" x2="659.7" y2="124.3" stroke="#555" stroke-width="1.1"/>
<line x1="656.9000000000001" y1="109.4" x2="662.5" y2="109.4" stroke="#555" stroke-width="1.1"/>
<line x1="656.9000000000001" y1="124.3" x2="662.5" y2="124.3" stroke="#555" stroke-width="1.1"/>
<text x="666.3" y="120.60000000000001" font-size="9.5" text-anchor="middle" fill="#333" stroke="#333" stroke-width="0.3">#</text>
<line x1="148.70" y1="196.30" x2="148.70" y2="334.40" stroke="#4a4a4a" stroke-width="1"/>
<line x1="145.50" y1="196.30" x2="148.70" y2="196.30" stroke="#4a4a4a" stroke-width="1"/>
<text x="144.20" y="199.20" font-size="8.4" text-anchor="end" fill="#222" stroke="#222" stroke-width="0.28">0.01</text>
<line x1="145.50" y1="230.82" x2="148.70" y2="230.82" stroke="#4a4a4a" stroke-width="1"/>
<text x="144.20" y="233.72" font-size="8.4" text-anchor="end" fill="#222" stroke="#222" stroke-width="0.28">0.00</text>
<line x1="145.50" y1="265.35" x2="148.70" y2="265.35" stroke="#4a4a4a" stroke-width="1"/>
<text x="144.20" y="268.25" font-size="8.4" text-anchor="end" fill="#222" stroke="#222" stroke-width="0.28">-0.01</text>
<line x1="145.50" y1="299.88" x2="148.70" y2="299.88" stroke="#4a4a4a" stroke-width="1"/>
<text x="144.20" y="302.77" font-size="8.4" text-anchor="end" fill="#222" stroke="#222" stroke-width="0.28">-0.02</text>
<line x1="145.50" y1="334.40" x2="148.70" y2="334.40" stroke="#4a4a4a" stroke-width="1"/>
<text x="144.20" y="337.30" font-size="8.4" text-anchor="end" fill="#222" stroke="#222" stroke-width="0.28">-0.03</text>
<line x1="148.70" y1="230.82" x2="278.90" y2="230.82" stroke="#4a4a4a" stroke-width="1"/>
<line x1="162.90" y1="227.82" x2="162.90" y2="230.82" stroke="#4a4a4a" stroke-width="1"/>
<text x="163.10" y="200.70" font-size="8.4" text-anchor="middle" fill="#222" stroke="#222" stroke-width="0.28">-13</text>
<line x1="177.34" y1="227.82" x2="177.34" y2="230.82" stroke="#4a4a4a" stroke-width="1"/>
<text x="177.54" y="200.70" font-size="8.4" text-anchor="middle" fill="#222" stroke="#222" stroke-width="0.28">-12</text>
<line x1="191.78" y1="227.82" x2="191.78" y2="230.82" stroke="#4a4a4a" stroke-width="1"/>
<text x="191.97" y="200.70" font-size="8.4" text-anchor="middle" fill="#222" stroke="#222" stroke-width="0.28">-11</text>
<line x1="206.21" y1="227.82" x2="206.21" y2="230.82" stroke="#4a4a4a" stroke-width="1"/>
<text x="206.41" y="200.70" font-size="8.4" text-anchor="middle" fill="#222" stroke="#222" stroke-width="0.28">-10</text>
<line x1="220.65" y1="227.82" x2="220.65" y2="230.82" stroke="#4a4a4a" stroke-width="1"/>
<text x="220.85" y="200.70" font-size="8.4" text-anchor="middle" fill="#222" stroke="#222" stroke-width="0.28">-9</text>
<line x1="235.09" y1="227.82" x2="235.09" y2="230.82" stroke="#4a4a4a" stroke-width="1"/>
<text x="235.29" y="200.70" font-size="8.4" text-anchor="middle" fill="#222" stroke="#222" stroke-width="0.28">-8</text>
<line x1="249.52" y1="227.82" x2="249.52" y2="230.82" stroke="#4a4a4a" stroke-width="1"/>
<text x="249.72" y="200.70" font-size="8.4" text-anchor="middle" fill="#222" stroke="#222" stroke-width="0.28">-7</text>
<line x1="263.96" y1="227.82" x2="263.96" y2="230.82" stroke="#4a4a4a" stroke-width="1"/>
<text x="264.16" y="200.70" font-size="8.4" text-anchor="middle" fill="#222" stroke="#222" stroke-width="0.28">-6</text>
<line x1="278.40" y1="227.82" x2="278.40" y2="230.82" stroke="#4a4a4a" stroke-width="1"/>
<text x="278.60" y="200.70" font-size="8.4" text-anchor="middle" fill="#222" stroke="#222" stroke-width="0.28">-5</text>
<text transform="translate(119.10,265.35) rotate(-90)" font-size="9.7" text-anchor="middle" fill="#222" stroke="#222" stroke-width="0.25">ISO-modulated BRET</text>
<polyline points="162.90,242.91 164.34,242.91 165.79,242.91 167.23,242.91 168.68,242.91 170.12,242.91 171.56,242.91 173.01,242.91 174.45,242.91 175.89,242.91 177.34,242.91 178.78,242.91 180.22,242.91 181.67,242.91 183.11,242.91 184.56,242.91 186.00,242.91 187.44,242.91 188.89,242.92 190.33,242.92 191.78,242.92 193.22,242.92 194.66,242.93 196.11,242.93 197.55,242.94 198.99,242.95 200.44,242.96 201.88,242.98 203.32,243.00 204.77,243.02 206.21,243.06 207.66,243.10 209.10,243.16 210.54,243.23 211.99,243.32 213.43,243.44 214.88,243.59 216.32,243.78 217.76,244.02 219.21,244.33 220.65,244.73 222.09,245.23 223.54,245.85 224.98,246.64 226.43,247.61 227.87,248.80 229.31,250.23 230.76,251.95 232.20,253.96 233.64,256.27 235.09,258.85 236.53,261.66 237.97,264.64 239.42,267.69 240.86,270.72 242.31,273.64 243.75,276.37 245.19,278.84 246.64,281.03 248.08,282.92 249.52,284.53 250.97,285.86 252.41,286.96 253.86,287.85 255.30,288.57 256.74,289.14 258.19,289.59 259.63,289.95 261.07,290.24 262.52,290.46 263.96,290.63 265.41,290.77 266.85,290.87 268.29,290.96 269.74,291.02 271.18,291.07 272.62,291.11 274.07,291.14 275.51,291.16 276.96,291.18 278.40,291.19" fill="none" stroke="#141414" stroke-width="2.1"/>
<polyline points="162.90,251.55 164.34,251.55 165.79,251.55 167.23,251.55 168.68,251.56 170.12,251.56 171.56,251.57 173.01,251.58 174.45,251.59 175.89,251.60 177.34,251.61 178.78,251.63 180.22,251.66 181.67,251.69 183.11,251.73 184.56,251.77 186.00,251.83 187.44,251.91 188.89,252.00 190.33,252.12 191.78,252.27 193.22,252.46 194.66,252.69 196.11,252.98 197.55,253.34 198.99,253.79 200.44,254.34 201.88,255.02 203.32,255.86 204.77,256.88 206.21,258.10 207.66,259.57 209.10,261.30 210.54,263.32 211.99,265.64 213.43,268.25 214.88,271.14 216.32,274.25 217.76,277.52 219.21,280.89 220.65,284.25 222.09,287.53 223.54,290.64 224.98,293.52 226.43,296.13 227.87,298.45 229.31,300.47 230.76,302.20 232.20,303.67 233.64,304.90 235.09,305.91 236.53,306.75 237.97,307.43 239.42,307.99 240.86,308.43 242.31,308.79 243.75,309.08 245.19,309.32 246.64,309.50 248.08,309.65 249.52,309.77 250.97,309.86 252.41,309.94 253.86,310.00 255.30,310.05 256.74,310.09 258.19,310.12 259.63,310.14 261.07,310.16 262.52,310.17 263.96,310.19 265.41,310.20 266.85,310.20 268.29,310.21 269.74,310.21 271.18,310.22 272.62,310.22 274.07,310.22 275.51,310.23 276.96,310.23 278.40,310.23" fill="none" stroke="#f07022" stroke-width="1.8"/>
<line x1="162.90" y1="253.27" x2="162.90" y2="299.53" stroke="#141414" stroke-width="1.6"/>
<line x1="160.90" y1="253.27" x2="164.90" y2="253.27" stroke="#141414" stroke-width="1.5"/>
<line x1="160.90" y1="299.53" x2="164.90" y2="299.53" stroke="#141414" stroke-width="1.5"/>
<circle cx="162.90" cy="276.40" r="1.3" fill="#141414"/>
<line x1="177.34" y1="221.85" x2="177.34" y2="248.78" stroke="#141414" stroke-width="1.6"/>
<line x1="175.34" y1="221.85" x2="179.34" y2="221.85" stroke="#141414" stroke-width="1.5"/>
<line x1="175.34" y1="248.78" x2="179.34" y2="248.78" stroke="#141414" stroke-width="1.5"/>
<circle cx="177.34" cy="235.31" r="1.3" fill="#141414"/>
<line x1="191.78" y1="230.13" x2="191.78" y2="242.56" stroke="#141414" stroke-width="1.6"/>
<line x1="189.78" y1="230.13" x2="193.78" y2="230.13" stroke="#141414" stroke-width="1.5"/>
<line x1="189.78" y1="242.56" x2="193.78" y2="242.56" stroke="#141414" stroke-width="1.5"/>
<circle cx="191.78" cy="236.35" r="1.3" fill="#141414"/>
<line x1="206.21" y1="227.03" x2="206.21" y2="245.67" stroke="#141414" stroke-width="1.6"/>
<line x1="204.21" y1="227.03" x2="208.21" y2="227.03" stroke="#141414" stroke-width="1.5"/>
<line x1="204.21" y1="245.67" x2="208.21" y2="245.67" stroke="#141414" stroke-width="1.5"/>
<circle cx="206.21" cy="236.35" r="1.3" fill="#141414"/>
<line x1="220.65" y1="244.63" x2="220.65" y2="272.25" stroke="#141414" stroke-width="1.6"/>
<line x1="218.65" y1="244.63" x2="222.65" y2="244.63" stroke="#141414" stroke-width="1.5"/>
<line x1="218.65" y1="272.25" x2="222.65" y2="272.25" stroke="#141414" stroke-width="1.5"/>
<circle cx="220.65" cy="258.44" r="1.3" fill="#141414"/>
<line x1="235.09" y1="239.80" x2="235.09" y2="270.87" stroke="#141414" stroke-width="1.6"/>
<line x1="233.09" y1="239.80" x2="237.09" y2="239.80" stroke="#141414" stroke-width="1.5"/>
<line x1="233.09" y1="270.87" x2="237.09" y2="270.87" stroke="#141414" stroke-width="1.5"/>
<circle cx="235.09" cy="255.34" r="1.3" fill="#141414"/>
<line x1="249.52" y1="275.36" x2="249.52" y2="297.46" stroke="#141414" stroke-width="1.6"/>
<line x1="247.52" y1="275.36" x2="251.52" y2="275.36" stroke="#141414" stroke-width="1.5"/>
<line x1="247.52" y1="297.46" x2="251.52" y2="297.46" stroke="#141414" stroke-width="1.5"/>
<circle cx="249.52" cy="286.41" r="1.3" fill="#141414"/>
<line x1="263.96" y1="283.65" x2="263.96" y2="302.29" stroke="#141414" stroke-width="1.6"/>
<line x1="261.96" y1="283.65" x2="265.96" y2="283.65" stroke="#141414" stroke-width="1.5"/>
<line x1="261.96" y1="302.29" x2="265.96" y2="302.29" stroke="#141414" stroke-width="1.5"/>
<circle cx="263.96" cy="292.97" r="1.3" fill="#141414"/>
<line x1="278.40" y1="274.67" x2="278.40" y2="298.15" stroke="#141414" stroke-width="1.6"/>
<line x1="276.40" y1="274.67" x2="280.40" y2="274.67" stroke="#141414" stroke-width="1.5"/>
<line x1="276.40" y1="298.15" x2="280.40" y2="298.15" stroke="#141414" stroke-width="1.5"/>
<circle cx="278.40" cy="286.41" r="1.3" fill="#141414"/>
<line x1="162.90" y1="244.63" x2="162.90" y2="248.09" stroke="#f07022" stroke-width="1.6"/>
<line x1="160.90" y1="244.63" x2="164.90" y2="244.63" stroke="#f07022" stroke-width="1.5"/>
<line x1="160.90" y1="248.09" x2="164.90" y2="248.09" stroke="#f07022" stroke-width="1.5"/>
<circle cx="162.90" cy="246.36" r="1.3" fill="#f07022"/>
<line x1="177.34" y1="247.40" x2="177.34" y2="265.35" stroke="#f07022" stroke-width="1.6"/>
<line x1="175.34" y1="247.40" x2="179.34" y2="247.40" stroke="#f07022" stroke-width="1.5"/>
<line x1="175.34" y1="265.35" x2="179.34" y2="265.35" stroke="#f07022" stroke-width="1.5"/>
<circle cx="177.34" cy="256.37" r="1.3" fill="#f07022"/>
<line x1="191.78" y1="247.40" x2="191.78" y2="256.37" stroke="#f07022" stroke-width="1.6"/>
<line x1="189.78" y1="247.40" x2="193.78" y2="247.40" stroke="#f07022" stroke-width="1.5"/>
<line x1="189.78" y1="256.37" x2="193.78" y2="256.37" stroke="#f07022" stroke-width="1.5"/>
<circle cx="191.78" cy="251.89" r="1.3" fill="#f07022"/>
<line x1="206.21" y1="246.36" x2="206.21" y2="259.48" stroke="#f07022" stroke-width="1.6"/>
<line x1="204.21" y1="246.36" x2="208.21" y2="246.36" stroke="#f07022" stroke-width="1.5"/>
<line x1="204.21" y1="259.48" x2="208.21" y2="259.48" stroke="#f07022" stroke-width="1.5"/>
<circle cx="206.21" cy="252.92" r="1.3" fill="#f07022"/>
<line x1="220.65" y1="274.33" x2="220.65" y2="303.33" stroke="#f07022" stroke-width="1.6"/>
<line x1="218.65" y1="274.33" x2="222.65" y2="274.33" stroke="#f07022" stroke-width="1.5"/>
<line x1="218.65" y1="303.33" x2="222.65" y2="303.33" stroke="#f07022" stroke-width="1.5"/>
<circle cx="220.65" cy="288.83" r="1.3" fill="#f07022"/>
<line x1="235.09" y1="281.23" x2="235.09" y2="304.71" stroke="#f07022" stroke-width="1.6"/>
<line x1="233.09" y1="281.23" x2="237.09" y2="281.23" stroke="#f07022" stroke-width="1.5"/>
<line x1="233.09" y1="304.71" x2="237.09" y2="304.71" stroke="#f07022" stroke-width="1.5"/>
<circle cx="235.09" cy="292.97" r="1.3" fill="#f07022"/>
<line x1="249.52" y1="294.35" x2="249.52" y2="314.38" stroke="#f07022" stroke-width="1.6"/>
<line x1="247.52" y1="294.35" x2="251.52" y2="294.35" stroke="#f07022" stroke-width="1.5"/>
<line x1="247.52" y1="314.38" x2="251.52" y2="314.38" stroke="#f07022" stroke-width="1.5"/>
<circle cx="249.52" cy="304.36" r="1.3" fill="#f07022"/>
<line x1="263.96" y1="300.91" x2="263.96" y2="325.08" stroke="#f07022" stroke-width="1.6"/>
<line x1="261.96" y1="300.91" x2="265.96" y2="300.91" stroke="#f07022" stroke-width="1.5"/>
<line x1="261.96" y1="325.08" x2="265.96" y2="325.08" stroke="#f07022" stroke-width="1.5"/>
<circle cx="263.96" cy="312.99" r="1.3" fill="#f07022"/>
<line x1="278.40" y1="304.02" x2="278.40" y2="330.95" stroke="#f07022" stroke-width="1.6"/>
<line x1="276.40" y1="304.02" x2="280.40" y2="304.02" stroke="#f07022" stroke-width="1.5"/>
<line x1="276.40" y1="330.95" x2="280.40" y2="330.95" stroke="#f07022" stroke-width="1.5"/>
<circle cx="278.40" cy="317.48" r="1.3" fill="#f07022"/>
<circle cx="220.65" cy="240.70" r="1.3" fill="#141414"/>
<circle cx="247.97" cy="269.30" r="1.3" fill="#141414"/>
<circle cx="251.07" cy="269.30" r="1.3" fill="#141414"/>
<circle cx="260.86" cy="277.30" r="1.3" fill="#141414"/>
<circle cx="263.96" cy="277.30" r="1.3" fill="#141414"/>
<circle cx="267.06" cy="277.30" r="1.3" fill="#141414"/>
<circle cx="276.85" cy="265.60" r="1.3" fill="#141414"/>
<circle cx="279.95" cy="265.60" r="1.3" fill="#141414"/>
<text x="220.65" y="318.10" font-size="7.8" text-anchor="middle" fill="#ef7a30" stroke="#ef7a30" stroke-width="0.3">$$$</text>
<text x="235.09" y="319.20" font-size="7.8" text-anchor="middle" fill="#ef7a30" stroke="#ef7a30" stroke-width="0.3">$$$</text>
<text x="249.52" y="328.10" font-size="7.8" text-anchor="middle" fill="#ef7a30" stroke="#ef7a30" stroke-width="0.3">$$$</text>
<text x="263.96" y="335.40" font-size="7.8" text-anchor="middle" fill="#ef7a30" stroke="#ef7a30" stroke-width="0.3">$$$</text>
<text x="278.40" y="342.10" font-size="7.8" text-anchor="middle" fill="#ef7a30" stroke="#ef7a30" stroke-width="0.3">$$$</text>
<line x1="337.50" y1="196.30" x2="337.50" y2="333.50" stroke="#4a4a4a" stroke-width="1"/>
<line x1="334.30" y1="196.30" x2="337.50" y2="196.30" stroke="#4a4a4a" stroke-width="1"/>
<text x="333.00" y="199.20" font-size="8.4" text-anchor="end" fill="#222" stroke="#222" stroke-width="0.28">0.01</text>
<line x1="334.30" y1="230.60" x2="337.50" y2="230.60" stroke="#4a4a4a" stroke-width="1"/>
<text x="333.00" y="233.50" font-size="8.4" text-anchor="end" fill="#222" stroke="#222" stroke-width="0.28">0.00</text>
<line x1="334.30" y1="264.90" x2="337.50" y2="264.90" stroke="#4a4a4a" stroke-width="1"/>
<text x="333.00" y="267.80" font-size="8.4" text-anchor="end" fill="#222" stroke="#222" stroke-width="0.28">-0.01</text>
<line x1="334.30" y1="299.20" x2="337.50" y2="299.20" stroke="#4a4a4a" stroke-width="1"/>
<text x="333.00" y="302.10" font-size="8.4" text-anchor="end" fill="#222" stroke="#222" stroke-width="0.28">-0.02</text>
<line x1="334.30" y1="333.50" x2="337.50" y2="333.50" stroke="#4a4a4a" stroke-width="1"/>
<text x="333.00" y="336.40" font-size="8.4" text-anchor="end" fill="#222" stroke="#222" stroke-width="0.28">-0.03</text>
<line x1="337.50" y1="230.60" x2="463.80" y2="230.60" stroke="#4a4a4a" stroke-width="1"/>
<line x1="351.70" y1="227.60" x2="351.70" y2="230.60" stroke="#4a4a4a" stroke-width="1"/>
<text x="351.90" y="198.80" font-size="8.4" text-anchor="middle" fill="#222" stroke="#222" stroke-width="0.28">-13</text>
<line x1="365.65" y1="227.60" x2="365.65" y2="230.60" stroke="#4a4a4a" stroke-width="1"/>
<text x="365.85" y="198.80" font-size="8.4" text-anchor="middle" fill="#222" stroke="#222" stroke-width="0.28">-12</text>
<line x1="379.60" y1="227.60" x2="379.60" y2="230.60" stroke="#4a4a4a" stroke-width="1"/>
<text x="379.80" y="198.80" font-size="8.4" text-anchor="middle" fill="#222" stroke="#222" stroke-width="0.28">-11</text>
<line x1="393.55" y1="227.60" x2="393.55" y2="230.60" stroke="#4a4a4a" stroke-width="1"/>
<text x="393.75" y="198.80" font-size="8.4" text-anchor="middle" fill="#222" stroke="#222" stroke-width="0.28">-10</text>
<line x1="407.50" y1="227.60" x2="407.50" y2="230.60" stroke="#4a4a4a" stroke-width="1"/>
<text x="407.70" y="198.80" font-size="8.4" text-anchor="middle" fill="#222" stroke="#222" stroke-width="0.28">-9</text>
<line x1="421.45" y1="227.60" x2="421.45" y2="230.60" stroke="#4a4a4a" stroke-width="1"/>
<text x="421.65" y="198.80" font-size="8.4" text-anchor="middle" fill="#222" stroke="#222" stroke-width="0.28">-8</text>
<line x1="435.40" y1="227.60" x2="435.40" y2="230.60" stroke="#4a4a4a" stroke-width="1"/>
<text x="435.60" y="198.80" font-size="8.4" text-anchor="middle" fill="#222" stroke="#222" stroke-width="0.28">-7</text>
<line x1="449.35" y1="227.60" x2="449.35" y2="230.60" stroke="#4a4a4a" stroke-width="1"/>
<text x="449.55" y="198.80" font-size="8.4" text-anchor="middle" fill="#222" stroke="#222" stroke-width="0.28">-6</text>
<line x1="463.30" y1="227.60" x2="463.30" y2="230.60" stroke="#4a4a4a" stroke-width="1"/>
<text x="463.50" y="198.80" font-size="8.4" text-anchor="middle" fill="#222" stroke="#222" stroke-width="0.28">-5</text>
<text transform="translate(308.80,264.90) rotate(-90)" font-size="9.7" text-anchor="middle" fill="#222" stroke="#222" stroke-width="0.25">NE-modulated BRET</text>
<polyline points="351.70,246.04 353.09,246.04 354.49,246.04 355.88,246.04 357.28,246.04 358.68,246.04 360.07,246.04 361.46,246.04 362.86,246.04 364.25,246.04 365.65,246.04 367.04,246.04 368.44,246.04 369.83,246.04 371.23,246.04 372.62,246.04 374.02,246.04 375.41,246.04 376.81,246.04 378.20,246.04 379.60,246.04 381.00,246.04 382.39,246.04 383.79,246.04 385.18,246.04 386.57,246.04 387.97,246.04 389.37,246.04 390.76,246.04 392.15,246.04 393.55,246.04 394.94,246.04 396.34,246.04 397.74,246.04 399.13,246.04 400.52,246.04 401.92,246.04 403.31,246.04 404.71,246.04 406.11,246.05 407.50,246.05 408.89,246.06 410.29,246.06 411.69,246.07 413.08,246.08 414.48,246.10 415.87,246.12 417.26,246.14 418.66,246.18 420.06,246.23 421.45,246.29 422.85,246.36 424.24,246.47 425.63,246.61 427.03,246.78 428.43,247.02 429.82,247.32 431.22,247.72 432.61,248.23 434.00,248.89 435.40,249.72 436.80,250.78 438.19,252.10 439.59,253.72 440.98,255.68 442.38,257.98 443.77,260.63 445.17,263.57 446.56,266.75 447.96,270.05 449.35,273.34 450.75,276.52 452.14,279.46 453.54,282.11 454.93,284.41 456.33,286.37 457.72,287.99 459.12,289.31 460.51,290.37 461.91,291.20 463.30,291.86" fill="none" stroke="#141414" stroke-width="2.1"/>
<polyline points="351.70,247.06 353.09,247.06 354.49,247.06 355.88,247.06 357.28,247.06 358.68,247.06 360.07,247.06 361.46,247.06 362.86,247.06 364.25,247.06 365.65,247.06 367.04,247.06 368.44,247.06 369.83,247.06 371.23,247.06 372.62,247.06 374.02,247.06 375.41,247.06 376.81,247.07 378.20,247.07 379.60,247.07 381.00,247.07 382.39,247.07 383.79,247.07 385.18,247.07 386.57,247.07 387.97,247.07 389.37,247.08 390.76,247.08 392.15,247.08 393.55,247.09 394.94,247.10 396.34,247.11 397.74,247.12 399.13,247.13 400.52,247.15 401.92,247.18 403.31,247.21 404.71,247.25 406.11,247.31 407.50,247.38 408.89,247.47 410.29,247.58 411.69,247.73 413.08,247.92 414.48,248.17 415.87,248.47 417.26,248.87 418.66,249.37 420.06,250.00 421.45,250.79 422.85,251.77 424.24,252.99 425.63,254.47 427.03,256.27 428.43,258.39 429.82,260.86 431.22,263.68 432.61,266.81 434.00,270.19 435.40,273.73 436.80,277.33 438.19,280.88 439.59,284.26 440.98,287.39 442.38,290.20 443.77,292.68 445.17,294.80 446.56,296.59 447.96,298.08 449.35,299.29 450.75,300.28 452.14,301.07 453.54,301.70 454.93,302.20 456.33,302.59 457.72,302.90 459.12,303.14 460.51,303.33 461.91,303.48 463.30,303.60" fill="none" stroke="#f07022" stroke-width="1.8"/>
<line x1="351.70" y1="227.17" x2="351.70" y2="264.90" stroke="#141414" stroke-width="1.6"/>
<line x1="349.70" y1="227.17" x2="353.70" y2="227.17" stroke="#141414" stroke-width="1.5"/>
<line x1="349.70" y1="264.90" x2="353.70" y2="264.90" stroke="#141414" stroke-width="1.5"/>
<circle cx="351.70" cy="246.03" r="1.3" fill="#141414"/>
<line x1="365.65" y1="228.20" x2="365.65" y2="248.78" stroke="#141414" stroke-width="1.6"/>
<line x1="363.65" y1="228.20" x2="367.65" y2="228.20" stroke="#141414" stroke-width="1.5"/>
<line x1="363.65" y1="248.78" x2="367.65" y2="248.78" stroke="#141414" stroke-width="1.5"/>
<circle cx="365.65" cy="238.49" r="1.3" fill="#141414"/>
<line x1="379.60" y1="216.19" x2="379.60" y2="234.03" stroke="#141414" stroke-width="1.6"/>
<line x1="377.60" y1="216.19" x2="381.60" y2="216.19" stroke="#141414" stroke-width="1.5"/>
<line x1="377.60" y1="234.03" x2="381.60" y2="234.03" stroke="#141414" stroke-width="1.5"/>
<circle cx="379.60" cy="225.11" r="1.3" fill="#141414"/>
<line x1="393.55" y1="244.32" x2="393.55" y2="265.59" stroke="#141414" stroke-width="1.6"/>
<line x1="391.55" y1="244.32" x2="395.55" y2="244.32" stroke="#141414" stroke-width="1.5"/>
<line x1="391.55" y1="265.59" x2="395.55" y2="265.59" stroke="#141414" stroke-width="1.5"/>
<circle cx="393.55" cy="254.95" r="1.3" fill="#141414"/>
<line x1="407.50" y1="240.89" x2="407.50" y2="262.84" stroke="#141414" stroke-width="1.6"/>
<line x1="405.50" y1="240.89" x2="409.50" y2="240.89" stroke="#141414" stroke-width="1.5"/>
<line x1="405.50" y1="262.84" x2="409.50" y2="262.84" stroke="#141414" stroke-width="1.5"/>
<circle cx="407.50" cy="251.87" r="1.3" fill="#141414"/>
<line x1="421.45" y1="239.52" x2="421.45" y2="255.30" stroke="#141414" stroke-width="1.6"/>
<line x1="419.45" y1="239.52" x2="423.45" y2="239.52" stroke="#141414" stroke-width="1.5"/>
<line x1="419.45" y1="255.30" x2="423.45" y2="255.30" stroke="#141414" stroke-width="1.5"/>
<circle cx="421.45" cy="247.41" r="1.3" fill="#141414"/>
<line x1="435.40" y1="257.70" x2="435.40" y2="270.05" stroke="#141414" stroke-width="1.6"/>
<line x1="433.40" y1="257.70" x2="437.40" y2="257.70" stroke="#141414" stroke-width="1.5"/>
<line x1="433.40" y1="270.05" x2="437.40" y2="270.05" stroke="#141414" stroke-width="1.5"/>
<circle cx="435.40" cy="263.87" r="1.3" fill="#141414"/>
<line x1="449.35" y1="248.09" x2="449.35" y2="281.71" stroke="#141414" stroke-width="1.6"/>
<line x1="447.35" y1="248.09" x2="451.35" y2="248.09" stroke="#141414" stroke-width="1.5"/>
<line x1="447.35" y1="281.71" x2="451.35" y2="281.71" stroke="#141414" stroke-width="1.5"/>
<circle cx="449.35" cy="264.90" r="1.3" fill="#141414"/>
<line x1="463.30" y1="284.45" x2="463.30" y2="300.91" stroke="#141414" stroke-width="1.6"/>
<line x1="461.30" y1="284.45" x2="465.30" y2="284.45" stroke="#141414" stroke-width="1.5"/>
<line x1="461.30" y1="300.91" x2="465.30" y2="300.91" stroke="#141414" stroke-width="1.5"/>
<circle cx="463.30" cy="292.68" r="1.3" fill="#141414"/>
<line x1="351.70" y1="255.98" x2="351.70" y2="262.16" stroke="#f07022" stroke-width="1.6"/>
<line x1="349.70" y1="255.98" x2="353.70" y2="255.98" stroke="#f07022" stroke-width="1.5"/>
<line x1="349.70" y1="262.16" x2="353.70" y2="262.16" stroke="#f07022" stroke-width="1.5"/>
<circle cx="351.70" cy="259.07" r="1.3" fill="#f07022"/>
<line x1="365.65" y1="235.75" x2="365.65" y2="261.13" stroke="#f07022" stroke-width="1.6"/>
<line x1="363.65" y1="235.75" x2="367.65" y2="235.75" stroke="#f07022" stroke-width="1.5"/>
<line x1="363.65" y1="261.13" x2="367.65" y2="261.13" stroke="#f07022" stroke-width="1.5"/>
<circle cx="365.65" cy="248.44" r="1.3" fill="#f07022"/>
<line x1="379.60" y1="222.37" x2="379.60" y2="245.69" stroke="#f07022" stroke-width="1.6"/>
<line x1="377.60" y1="222.37" x2="381.60" y2="222.37" stroke="#f07022" stroke-width="1.5"/>
<line x1="377.60" y1="245.69" x2="381.60" y2="245.69" stroke="#f07022" stroke-width="1.5"/>
<circle cx="379.60" cy="234.03" r="1.3" fill="#f07022"/>
<line x1="393.55" y1="233.69" x2="393.55" y2="247.41" stroke="#f07022" stroke-width="1.6"/>
<line x1="391.55" y1="233.69" x2="395.55" y2="233.69" stroke="#f07022" stroke-width="1.5"/>
<line x1="391.55" y1="247.41" x2="395.55" y2="247.41" stroke="#f07022" stroke-width="1.5"/>
<circle cx="393.55" cy="240.55" r="1.3" fill="#f07022"/>
<line x1="407.50" y1="247.06" x2="407.50" y2="267.64" stroke="#f07022" stroke-width="1.6"/>
<line x1="405.50" y1="247.06" x2="409.50" y2="247.06" stroke="#f07022" stroke-width="1.5"/>
<line x1="405.50" y1="267.64" x2="409.50" y2="267.64" stroke="#f07022" stroke-width="1.5"/>
<circle cx="407.50" cy="257.35" r="1.3" fill="#f07022"/>
<line x1="421.45" y1="252.55" x2="421.45" y2="266.27" stroke="#f07022" stroke-width="1.6"/>
<line x1="419.45" y1="252.55" x2="423.45" y2="252.55" stroke="#f07022" stroke-width="1.5"/>
<line x1="419.45" y1="266.27" x2="423.45" y2="266.27" stroke="#f07022" stroke-width="1.5"/>
<circle cx="421.45" cy="259.41" r="1.3" fill="#f07022"/>
<line x1="435.40" y1="270.39" x2="435.40" y2="284.11" stroke="#f07022" stroke-width="1.6"/>
<line x1="433.40" y1="270.39" x2="437.40" y2="270.39" stroke="#f07022" stroke-width="1.5"/>
<line x1="433.40" y1="284.11" x2="437.40" y2="284.11" stroke="#f07022" stroke-width="1.5"/>
<circle cx="435.40" cy="277.25" r="1.3" fill="#f07022"/>
<line x1="449.35" y1="278.62" x2="449.35" y2="309.49" stroke="#f07022" stroke-width="1.6"/>
<line x1="447.35" y1="278.62" x2="451.35" y2="278.62" stroke="#f07022" stroke-width="1.5"/>
<line x1="447.35" y1="309.49" x2="451.35" y2="309.49" stroke="#f07022" stroke-width="1.5"/>
<circle cx="449.35" cy="294.06" r="1.3" fill="#f07022"/>
<line x1="463.30" y1="300.57" x2="463.30" y2="318.41" stroke="#f07022" stroke-width="1.6"/>
<line x1="461.30" y1="300.57" x2="465.30" y2="300.57" stroke="#f07022" stroke-width="1.5"/>
<line x1="461.30" y1="318.41" x2="465.30" y2="318.41" stroke="#f07022" stroke-width="1.5"/>
<circle cx="463.30" cy="309.49" r="1.3" fill="#f07022"/>
<circle cx="435.40" cy="244.40" r="1.3" fill="#141414"/>
<circle cx="449.35" cy="244.40" r="1.3" fill="#141414"/>
<circle cx="463.30" cy="278.20" r="1.3" fill="#141414"/>
<text x="421.45" y="277.60" font-size="7.8" text-anchor="middle" fill="#ef7a30" stroke="#ef7a30" stroke-width="0.3">$</text>
<text x="435.40" y="294.70" font-size="7.8" text-anchor="middle" fill="#ef7a30" stroke="#ef7a30" stroke-width="0.3">$$$</text>
<text x="449.35" y="319.80" font-size="7.8" text-anchor="middle" fill="#ef7a30" stroke="#ef7a30" stroke-width="0.3">$$$</text>
<text x="463.30" y="332.50" font-size="7.8" text-anchor="middle" fill="#ef7a30" stroke="#ef7a30" stroke-width="0.3">$$$</text>
<line x1="526.00" y1="194.20" x2="526.00" y2="332.00" stroke="#4a4a4a" stroke-width="1"/>
<line x1="522.80" y1="194.20" x2="526.00" y2="194.20" stroke="#4a4a4a" stroke-width="1"/>
<text x="521.50" y="197.10" font-size="8.4" text-anchor="end" fill="#222" stroke="#222" stroke-width="0.28">0.01</text>
<line x1="522.80" y1="228.65" x2="526.00" y2="228.65" stroke="#4a4a4a" stroke-width="1"/>
<text x="521.50" y="231.55" font-size="8.4" text-anchor="end" fill="#222" stroke="#222" stroke-width="0.28">0.00</text>
<line x1="522.80" y1="263.10" x2="526.00" y2="263.10" stroke="#4a4a4a" stroke-width="1"/>
<text x="521.50" y="266.00" font-size="8.4" text-anchor="end" fill="#222" stroke="#222" stroke-width="0.28">-0.01</text>
<line x1="522.80" y1="297.55" x2="526.00" y2="297.55" stroke="#4a4a4a" stroke-width="1"/>
<text x="521.50" y="300.45" font-size="8.4" text-anchor="end" fill="#222" stroke="#222" stroke-width="0.28">-0.02</text>
<line x1="522.80" y1="332.00" x2="526.00" y2="332.00" stroke="#4a4a4a" stroke-width="1"/>
<text x="521.50" y="334.90" font-size="8.4" text-anchor="end" fill="#222" stroke="#222" stroke-width="0.28">-0.03</text>
<line x1="526.00" y1="228.65" x2="651.80" y2="228.65" stroke="#4a4a4a" stroke-width="1"/>
<line x1="540.00" y1="225.65" x2="540.00" y2="228.65" stroke="#4a4a4a" stroke-width="1"/>
<text x="540.20" y="197.60" font-size="8.4" text-anchor="middle" fill="#222" stroke="#222" stroke-width="0.28">-13</text>
<line x1="553.91" y1="225.65" x2="553.91" y2="228.65" stroke="#4a4a4a" stroke-width="1"/>
<text x="554.11" y="197.60" font-size="8.4" text-anchor="middle" fill="#222" stroke="#222" stroke-width="0.28">-12</text>
<line x1="567.83" y1="225.65" x2="567.83" y2="228.65" stroke="#4a4a4a" stroke-width="1"/>
<text x="568.03" y="197.60" font-size="8.4" text-anchor="middle" fill="#222" stroke="#222" stroke-width="0.28">-11</text>
<line x1="581.74" y1="225.65" x2="581.74" y2="228.65" stroke="#4a4a4a" stroke-width="1"/>
<text x="581.94" y="197.60" font-size="8.4" text-anchor="middle" fill="#222" stroke="#222" stroke-width="0.28">-10</text>
<line x1="595.65" y1="225.65" x2="595.65" y2="228.65" stroke="#4a4a4a" stroke-width="1"/>
<text x="595.85" y="197.60" font-size="8.4" text-anchor="middle" fill="#222" stroke="#222" stroke-width="0.28">-9</text>
<line x1="609.56" y1="225.65" x2="609.56" y2="228.65" stroke="#4a4a4a" stroke-width="1"/>
<text x="609.76" y="197.60" font-size="8.4" text-anchor="middle" fill="#222" stroke="#222" stroke-width="0.28">-8</text>
<line x1="623.47" y1="225.65" x2="623.47" y2="228.65" stroke="#4a4a4a" stroke-width="1"/>
<text x="623.67" y="197.60" font-size="8.4" text-anchor="middle" fill="#222" stroke="#222" stroke-width="0.28">-7</text>
<line x1="637.39" y1="225.65" x2="637.39" y2="228.65" stroke="#4a4a4a" stroke-width="1"/>
<text x="637.59" y="197.60" font-size="8.4" text-anchor="middle" fill="#222" stroke="#222" stroke-width="0.28">-6</text>
<line x1="651.30" y1="225.65" x2="651.30" y2="228.65" stroke="#4a4a4a" stroke-width="1"/>
<text x="651.50" y="197.60" font-size="8.4" text-anchor="middle" fill="#222" stroke="#222" stroke-width="0.28">-5</text>
<text transform="translate(496.70,263.10) rotate(-90)" font-size="9.7" text-anchor="middle" fill="#222" stroke="#222" stroke-width="0.25">EPI-modulated BRET</text>
<polyline points="540.00,233.47 541.39,233.47 542.78,233.47 544.17,233.47 545.57,233.47 546.96,233.47 548.35,233.47 549.74,233.47 551.13,233.47 552.52,233.47 553.91,233.47 555.30,233.47 556.69,233.47 558.09,233.47 559.48,233.48 560.87,233.48 562.26,233.48 563.65,233.48 565.04,233.48 566.43,233.48 567.83,233.49 569.22,233.50 570.61,233.51 572.00,233.52 573.39,233.54 574.78,233.57 576.17,233.60 577.56,233.66 578.96,233.73 580.35,233.84 581.74,233.99 583.13,234.20 584.52,234.49 585.91,234.90 587.30,235.46 588.69,236.25 590.08,237.31 591.48,238.75 592.87,240.65 594.26,243.11 595.65,246.20 597.04,249.93 598.43,254.24 599.82,258.96 601.22,263.85 602.61,268.63 604.00,273.04 605.39,276.90 606.78,280.11 608.17,282.69 609.56,284.70 610.95,286.22 612.35,287.35 613.74,288.19 615.13,288.79 616.52,289.23 617.91,289.54 619.30,289.77 620.69,289.92 622.08,290.04 623.47,290.12 624.87,290.18 626.26,290.22 627.65,290.25 629.04,290.27 630.43,290.28 631.82,290.29 633.21,290.30 634.61,290.30 636.00,290.31 637.39,290.31 638.78,290.31 640.17,290.31 641.56,290.31 642.95,290.31 644.34,290.31 645.73,290.31 647.13,290.31 648.52,290.32 649.91,290.32 651.30,290.32" fill="none" stroke="#141414" stroke-width="2.1"/>
<polyline points="540.00,244.15 541.39,244.15 542.78,244.15 544.17,244.15 545.57,244.15 546.96,244.16 548.35,244.16 549.74,244.16 551.13,244.16 552.52,244.16 553.91,244.16 555.30,244.16 556.69,244.17 558.09,244.17 559.48,244.18 560.87,244.18 562.26,244.19 563.65,244.20 565.04,244.21 566.43,244.22 567.83,244.24 569.22,244.27 570.61,244.30 572.00,244.33 573.39,244.38 574.78,244.44 576.17,244.51 577.56,244.60 578.96,244.72 580.35,244.86 581.74,245.04 583.13,245.27 584.52,245.55 585.91,245.90 587.30,246.33 588.69,246.86 590.08,247.52 591.48,248.32 592.87,249.29 594.26,250.46 595.65,251.85 597.04,253.49 598.43,255.39 599.82,257.55 601.22,259.96 602.61,262.60 604.00,265.42 605.39,268.37 606.78,271.36 608.17,274.32 609.56,277.17 610.95,279.85 612.35,282.32 613.74,284.53 615.13,286.48 616.52,288.16 617.91,289.60 619.30,290.81 620.69,291.82 622.08,292.66 623.47,293.34 624.87,293.90 626.26,294.35 627.65,294.71 629.04,295.01 630.43,295.24 631.82,295.43 633.21,295.58 634.61,295.70 636.00,295.80 637.39,295.87 638.78,295.94 640.17,295.98 641.56,296.02 642.95,296.05 644.34,296.08 645.73,296.10 647.13,296.11 648.52,296.12 649.91,296.13 651.30,296.14" fill="none" stroke="#f07022" stroke-width="1.8"/>
<line x1="553.91" y1="222.10" x2="553.91" y2="244.84" stroke="#141414" stroke-width="1.6"/>
<line x1="551.91" y1="222.10" x2="555.91" y2="222.10" stroke="#141414" stroke-width="1.5"/>
<line x1="551.91" y1="244.84" x2="555.91" y2="244.84" stroke="#141414" stroke-width="1.5"/>
<circle cx="553.91" cy="233.47" r="1.3" fill="#141414"/>
<line x1="567.83" y1="227.62" x2="567.83" y2="242.77" stroke="#141414" stroke-width="1.6"/>
<line x1="565.83" y1="227.62" x2="569.83" y2="227.62" stroke="#141414" stroke-width="1.5"/>
<line x1="565.83" y1="242.77" x2="569.83" y2="242.77" stroke="#141414" stroke-width="1.5"/>
<circle cx="567.83" cy="235.20" r="1.3" fill="#141414"/>
<line x1="581.74" y1="216.25" x2="581.74" y2="257.59" stroke="#141414" stroke-width="1.6"/>
<line x1="579.74" y1="216.25" x2="583.74" y2="216.25" stroke="#141414" stroke-width="1.5"/>
<line x1="579.74" y1="257.59" x2="583.74" y2="257.59" stroke="#141414" stroke-width="1.5"/>
<circle cx="581.74" cy="236.92" r="1.3" fill="#141414"/>
<line x1="595.65" y1="249.32" x2="595.65" y2="275.50" stroke="#141414" stroke-width="1.6"/>
<line x1="593.65" y1="249.32" x2="597.65" y2="249.32" stroke="#141414" stroke-width="1.5"/>
<line x1="593.65" y1="275.50" x2="597.65" y2="275.50" stroke="#141414" stroke-width="1.5"/>
<circle cx="595.65" cy="262.41" r="1.3" fill="#141414"/>
<line x1="609.56" y1="255.18" x2="609.56" y2="289.63" stroke="#141414" stroke-width="1.6"/>
<line x1="607.56" y1="255.18" x2="611.56" y2="255.18" stroke="#141414" stroke-width="1.5"/>
<line x1="607.56" y1="289.63" x2="611.56" y2="289.63" stroke="#141414" stroke-width="1.5"/>
<circle cx="609.56" cy="272.40" r="1.3" fill="#141414"/>
<line x1="623.47" y1="277.57" x2="623.47" y2="305.13" stroke="#141414" stroke-width="1.6"/>
<line x1="621.47" y1="277.57" x2="625.47" y2="277.57" stroke="#141414" stroke-width="1.5"/>
<line x1="621.47" y1="305.13" x2="625.47" y2="305.13" stroke="#141414" stroke-width="1.5"/>
<circle cx="623.47" cy="291.35" r="1.3" fill="#141414"/>
<line x1="637.39" y1="274.12" x2="637.39" y2="299.62" stroke="#141414" stroke-width="1.6"/>
<line x1="635.39" y1="274.12" x2="639.39" y2="274.12" stroke="#141414" stroke-width="1.5"/>
<line x1="635.39" y1="299.62" x2="639.39" y2="299.62" stroke="#141414" stroke-width="1.5"/>
<circle cx="637.39" cy="286.87" r="1.3" fill="#141414"/>
<line x1="651.30" y1="281.70" x2="651.30" y2="305.13" stroke="#141414" stroke-width="1.6"/>
<line x1="649.30" y1="281.70" x2="653.30" y2="281.70" stroke="#141414" stroke-width="1.5"/>
<line x1="649.30" y1="305.13" x2="653.30" y2="305.13" stroke="#141414" stroke-width="1.5"/>
<circle cx="651.30" cy="293.42" r="1.3" fill="#141414"/>
<line x1="540.00" y1="241.05" x2="540.00" y2="254.83" stroke="#f07022" stroke-width="1.6"/>
<line x1="538.00" y1="241.05" x2="542.00" y2="241.05" stroke="#f07022" stroke-width="1.5"/>
<line x1="538.00" y1="254.83" x2="542.00" y2="254.83" stroke="#f07022" stroke-width="1.5"/>
<circle cx="540.00" cy="247.94" r="1.3" fill="#f07022"/>
<line x1="553.91" y1="238.64" x2="553.91" y2="248.29" stroke="#f07022" stroke-width="1.6"/>
<line x1="551.91" y1="238.64" x2="555.91" y2="238.64" stroke="#f07022" stroke-width="1.5"/>
<line x1="551.91" y1="248.29" x2="555.91" y2="248.29" stroke="#f07022" stroke-width="1.5"/>
<circle cx="553.91" cy="243.46" r="1.3" fill="#f07022"/>
<line x1="567.83" y1="227.27" x2="567.83" y2="239.67" stroke="#f07022" stroke-width="1.6"/>
<line x1="565.83" y1="227.27" x2="569.83" y2="227.27" stroke="#f07022" stroke-width="1.5"/>
<line x1="565.83" y1="239.67" x2="569.83" y2="239.67" stroke="#f07022" stroke-width="1.5"/>
<circle cx="567.83" cy="233.47" r="1.3" fill="#f07022"/>
<line x1="581.74" y1="241.05" x2="581.74" y2="254.83" stroke="#f07022" stroke-width="1.6"/>
<line x1="579.74" y1="241.05" x2="583.74" y2="241.05" stroke="#f07022" stroke-width="1.5"/>
<line x1="579.74" y1="254.83" x2="583.74" y2="254.83" stroke="#f07022" stroke-width="1.5"/>
<circle cx="581.74" cy="247.94" r="1.3" fill="#f07022"/>
<line x1="595.65" y1="254.49" x2="595.65" y2="272.40" stroke="#f07022" stroke-width="1.6"/>
<line x1="593.65" y1="254.49" x2="597.65" y2="254.49" stroke="#f07022" stroke-width="1.5"/>
<line x1="593.65" y1="272.40" x2="597.65" y2="272.40" stroke="#f07022" stroke-width="1.5"/>
<circle cx="595.65" cy="263.44" r="1.3" fill="#f07022"/>
<line x1="609.56" y1="262.07" x2="609.56" y2="278.60" stroke="#f07022" stroke-width="1.6"/>
<line x1="607.56" y1="262.07" x2="611.56" y2="262.07" stroke="#f07022" stroke-width="1.5"/>
<line x1="607.56" y1="278.60" x2="611.56" y2="278.60" stroke="#f07022" stroke-width="1.5"/>
<circle cx="609.56" cy="270.33" r="1.3" fill="#f07022"/>
<line x1="623.47" y1="277.57" x2="623.47" y2="294.11" stroke="#f07022" stroke-width="1.6"/>
<line x1="621.47" y1="277.57" x2="625.47" y2="277.57" stroke="#f07022" stroke-width="1.5"/>
<line x1="621.47" y1="294.11" x2="625.47" y2="294.11" stroke="#f07022" stroke-width="1.5"/>
<circle cx="623.47" cy="285.84" r="1.3" fill="#f07022"/>
<line x1="637.39" y1="291.35" x2="637.39" y2="300.31" stroke="#f07022" stroke-width="1.6"/>
<line x1="635.39" y1="291.35" x2="639.39" y2="291.35" stroke="#f07022" stroke-width="1.5"/>
<line x1="635.39" y1="300.31" x2="639.39" y2="300.31" stroke="#f07022" stroke-width="1.5"/>
<circle cx="637.39" cy="295.83" r="1.3" fill="#f07022"/>
<line x1="651.30" y1="295.14" x2="651.30" y2="305.47" stroke="#f07022" stroke-width="1.6"/>
<line x1="649.30" y1="295.14" x2="653.30" y2="295.14" stroke="#f07022" stroke-width="1.5"/>
<line x1="649.30" y1="305.47" x2="653.30" y2="305.47" stroke="#f07022" stroke-width="1.5"/>
<circle cx="651.30" cy="300.31" r="1.3" fill="#f07022"/>
<circle cx="608.01" cy="249.30" r="1.3" fill="#141414"/>
<circle cx="611.11" cy="249.30" r="1.3" fill="#141414"/>
<circle cx="620.37" cy="272.20" r="1.3" fill="#141414"/>
<circle cx="623.47" cy="272.20" r="1.3" fill="#141414"/>
<circle cx="626.57" cy="272.20" r="1.3" fill="#141414"/>
<circle cx="634.29" cy="269.30" r="1.3" fill="#141414"/>
<circle cx="637.39" cy="269.30" r="1.3" fill="#141414"/>
<circle cx="640.49" cy="269.30" r="1.3" fill="#141414"/>
<circle cx="648.20" cy="276.70" r="1.3" fill="#141414"/>
<circle cx="651.30" cy="276.70" r="1.3" fill="#141414"/>
<circle cx="654.40" cy="276.70" r="1.3" fill="#141414"/>
<text x="595.65" y="284.30" font-size="7.8" text-anchor="middle" fill="#ef7a30" stroke="#ef7a30" stroke-width="0.3">$$</text>
<text x="609.56" y="300.30" font-size="7.8" text-anchor="middle" fill="#ef7a30" stroke="#ef7a30" stroke-width="0.3">$$$</text>
<text x="623.47" y="315.40" font-size="7.8" text-anchor="middle" fill="#ef7a30" stroke="#ef7a30" stroke-width="0.3">$$$</text>
<text x="637.39" y="309.60" font-size="7.8" text-anchor="middle" fill="#ef7a30" stroke="#ef7a30" stroke-width="0.3">$$$</text>
<text x="651.30" y="314.70" font-size="7.8" text-anchor="middle" fill="#ef7a30" stroke="#ef7a30" stroke-width="0.3">$$$</text>
<line x1="143.70" y1="393.60" x2="143.70" y2="529.60" stroke="#4a4a4a" stroke-width="1"/>
<line x1="140.50" y1="393.60" x2="143.70" y2="393.60" stroke="#4a4a4a" stroke-width="1"/>
<text x="139.20" y="396.50" font-size="8.4" text-anchor="end" fill="#222" stroke="#222" stroke-width="0.28">0.02</text>
<line x1="140.50" y1="416.27" x2="143.70" y2="416.27" stroke="#4a4a4a" stroke-width="1"/>
<text x="139.20" y="419.17" font-size="8.4" text-anchor="end" fill="#222" stroke="#222" stroke-width="0.28">0.00</text>
<line x1="140.50" y1="438.93" x2="143.70" y2="438.93" stroke="#4a4a4a" stroke-width="1"/>
<text x="139.20" y="441.83" font-size="8.4" text-anchor="end" fill="#222" stroke="#222" stroke-width="0.28">-0.02</text>
<line x1="140.50" y1="461.60" x2="143.70" y2="461.60" stroke="#4a4a4a" stroke-width="1"/>
<text x="139.20" y="464.50" font-size="8.4" text-anchor="end" fill="#222" stroke="#222" stroke-width="0.28">-0.04</text>
<line x1="140.50" y1="484.27" x2="143.70" y2="484.27" stroke="#4a4a4a" stroke-width="1"/>
<text x="139.20" y="487.17" font-size="8.4" text-anchor="end" fill="#222" stroke="#222" stroke-width="0.28">-0.06</text>
<line x1="140.50" y1="506.93" x2="143.70" y2="506.93" stroke="#4a4a4a" stroke-width="1"/>
<text x="139.20" y="509.83" font-size="8.4" text-anchor="end" fill="#222" stroke="#222" stroke-width="0.28">-0.08</text>
<line x1="140.50" y1="529.60" x2="143.70" y2="529.60" stroke="#4a4a4a" stroke-width="1"/>
<text x="139.20" y="532.50" font-size="8.4" text-anchor="end" fill="#222" stroke="#222" stroke-width="0.28">-0.10</text>
<line x1="143.70" y1="416.27" x2="270.20" y2="416.27" stroke="#4a4a4a" stroke-width="1"/>
<line x1="157.50" y1="413.27" x2="157.50" y2="416.27" stroke="#4a4a4a" stroke-width="1"/>
<text x="157.70" y="390.90" font-size="8.4" text-anchor="middle" fill="#222" stroke="#222" stroke-width="0.28">-13</text>
<line x1="171.53" y1="413.27" x2="171.53" y2="416.27" stroke="#4a4a4a" stroke-width="1"/>
<text x="171.72" y="390.90" font-size="8.4" text-anchor="middle" fill="#222" stroke="#222" stroke-width="0.28">-12</text>
<line x1="185.55" y1="413.27" x2="185.55" y2="416.27" stroke="#4a4a4a" stroke-width="1"/>
<text x="185.75" y="390.90" font-size="8.4" text-anchor="middle" fill="#222" stroke="#222" stroke-width="0.28">-11</text>
<line x1="199.57" y1="413.27" x2="199.57" y2="416.27" stroke="#4a4a4a" stroke-width="1"/>
<text x="199.77" y="390.90" font-size="8.4" text-anchor="middle" fill="#222" stroke="#222" stroke-width="0.28">-10</text>
<line x1="213.60" y1="413.27" x2="213.60" y2="416.27" stroke="#4a4a4a" stroke-width="1"/>
<text x="213.80" y="390.90" font-size="8.4" text-anchor="middle" fill="#222" stroke="#222" stroke-width="0.28">-9</text>
<line x1="227.62" y1="413.27" x2="227.62" y2="416.27" stroke="#4a4a4a" stroke-width="1"/>
<text x="227.82" y="390.90" font-size="8.4" text-anchor="middle" fill="#222" stroke="#222" stroke-width="0.28">-8</text>
<line x1="241.65" y1="413.27" x2="241.65" y2="416.27" stroke="#4a4a4a" stroke-width="1"/>
<text x="241.85" y="390.90" font-size="8.4" text-anchor="middle" fill="#222" stroke="#222" stroke-width="0.28">-7</text>
<line x1="255.67" y1="413.27" x2="255.67" y2="416.27" stroke="#4a4a4a" stroke-width="1"/>
<text x="255.87" y="390.90" font-size="8.4" text-anchor="middle" fill="#222" stroke="#222" stroke-width="0.28">-6</text>
<line x1="269.70" y1="413.27" x2="269.70" y2="416.27" stroke="#4a4a4a" stroke-width="1"/>
<text x="269.90" y="390.90" font-size="8.4" text-anchor="middle" fill="#222" stroke="#222" stroke-width="0.28">-5</text>
<text x="206.40" y="377.40" font-size="8.9" text-anchor="middle" fill="#222" stroke="#222" stroke-width="0.35">Log [ISO] (M)</text>
<text transform="translate(114.80,461.60) rotate(-90)" font-size="9.7" text-anchor="middle" fill="#222" stroke="#222" stroke-width="0.25">ISO-modulated BRET</text>
<line x1="157.50" y1="455.25" x2="157.50" y2="476.33" stroke="#141414" stroke-width="1.6"/>
<line x1="155.50" y1="455.25" x2="159.50" y2="455.25" stroke="#141414" stroke-width="1.5"/>
<line x1="155.50" y1="476.33" x2="159.50" y2="476.33" stroke="#141414" stroke-width="1.5"/>
<circle cx="157.50" cy="465.79" r="1.3" fill="#141414"/>
<line x1="171.53" y1="418.42" x2="171.53" y2="431.79" stroke="#141414" stroke-width="1.6"/>
<line x1="169.53" y1="418.42" x2="173.53" y2="418.42" stroke="#141414" stroke-width="1.5"/>
<line x1="169.53" y1="431.79" x2="173.53" y2="431.79" stroke="#141414" stroke-width="1.5"/>
<circle cx="171.53" cy="425.11" r="1.3" fill="#141414"/>
<line x1="185.55" y1="416.95" x2="185.55" y2="432.13" stroke="#141414" stroke-width="1.6"/>
<line x1="183.55" y1="416.95" x2="187.55" y2="416.95" stroke="#141414" stroke-width="1.5"/>
<line x1="183.55" y1="432.13" x2="187.55" y2="432.13" stroke="#141414" stroke-width="1.5"/>
<circle cx="185.55" cy="424.54" r="1.3" fill="#141414"/>
<line x1="199.57" y1="443.69" x2="199.57" y2="462.28" stroke="#141414" stroke-width="1.6"/>
<line x1="197.57" y1="443.69" x2="201.57" y2="443.69" stroke="#141414" stroke-width="1.5"/>
<line x1="197.57" y1="462.28" x2="201.57" y2="462.28" stroke="#141414" stroke-width="1.5"/>
<circle cx="199.57" cy="452.99" r="1.3" fill="#141414"/>
<line x1="213.60" y1="420.23" x2="213.60" y2="441.99" stroke="#141414" stroke-width="1.6"/>
<line x1="211.60" y1="420.23" x2="215.60" y2="420.23" stroke="#141414" stroke-width="1.5"/>
<line x1="211.60" y1="441.99" x2="215.60" y2="441.99" stroke="#141414" stroke-width="1.5"/>
<circle cx="213.60" cy="431.11" r="1.3" fill="#141414"/>
<line x1="227.62" y1="421.14" x2="227.62" y2="431.34" stroke="#141414" stroke-width="1.6"/>
<line x1="225.62" y1="421.14" x2="229.62" y2="421.14" stroke="#141414" stroke-width="1.5"/>
<line x1="225.62" y1="431.34" x2="229.62" y2="431.34" stroke="#141414" stroke-width="1.5"/>
<circle cx="227.62" cy="426.24" r="1.3" fill="#141414"/>
<line x1="241.65" y1="452.65" x2="241.65" y2="464.43" stroke="#141414" stroke-width="1.6"/>
<line x1="239.65" y1="452.65" x2="243.65" y2="452.65" stroke="#141414" stroke-width="1.5"/>
<line x1="239.65" y1="464.43" x2="243.65" y2="464.43" stroke="#141414" stroke-width="1.5"/>
<circle cx="241.65" cy="458.54" r="1.3" fill="#141414"/>
<line x1="255.67" y1="454.91" x2="255.67" y2="467.83" stroke="#141414" stroke-width="1.6"/>
<line x1="253.67" y1="454.91" x2="257.67" y2="454.91" stroke="#141414" stroke-width="1.5"/>
<line x1="253.67" y1="467.83" x2="257.67" y2="467.83" stroke="#141414" stroke-width="1.5"/>
<circle cx="255.67" cy="461.37" r="1.3" fill="#141414"/>
<line x1="269.70" y1="458.43" x2="269.70" y2="480.64" stroke="#141414" stroke-width="1.6"/>
<line x1="267.70" y1="458.43" x2="271.70" y2="458.43" stroke="#141414" stroke-width="1.5"/>
<line x1="267.70" y1="480.64" x2="271.70" y2="480.64" stroke="#141414" stroke-width="1.5"/>
<circle cx="269.70" cy="469.53" r="1.3" fill="#141414"/>
<line x1="157.50" y1="417.74" x2="157.50" y2="429.53" stroke="#f07022" stroke-width="1.6"/>
<line x1="155.50" y1="417.74" x2="159.50" y2="417.74" stroke="#f07022" stroke-width="1.5"/>
<line x1="155.50" y1="429.53" x2="159.50" y2="429.53" stroke="#f07022" stroke-width="1.5"/>
<circle cx="157.50" cy="423.63" r="1.3" fill="#f07022"/>
<line x1="171.53" y1="399.15" x2="171.53" y2="403.69" stroke="#f07022" stroke-width="1.6"/>
<line x1="169.53" y1="399.15" x2="173.53" y2="399.15" stroke="#f07022" stroke-width="1.5"/>
<line x1="169.53" y1="403.69" x2="173.53" y2="403.69" stroke="#f07022" stroke-width="1.5"/>
<circle cx="171.53" cy="401.42" r="1.3" fill="#f07022"/>
<line x1="185.55" y1="396.77" x2="185.55" y2="406.07" stroke="#f07022" stroke-width="1.6"/>
<line x1="183.55" y1="396.77" x2="187.55" y2="396.77" stroke="#f07022" stroke-width="1.5"/>
<line x1="183.55" y1="406.07" x2="187.55" y2="406.07" stroke="#f07022" stroke-width="1.5"/>
<circle cx="185.55" cy="401.42" r="1.3" fill="#f07022"/>
<line x1="199.57" y1="414.11" x2="199.57" y2="420.69" stroke="#f07022" stroke-width="1.6"/>
<line x1="197.57" y1="414.11" x2="201.57" y2="414.11" stroke="#f07022" stroke-width="1.5"/>
<line x1="197.57" y1="420.69" x2="201.57" y2="420.69" stroke="#f07022" stroke-width="1.5"/>
<circle cx="199.57" cy="417.40" r="1.3" fill="#f07022"/>
<line x1="213.60" y1="403.57" x2="213.60" y2="415.59" stroke="#f07022" stroke-width="1.6"/>
<line x1="211.60" y1="403.57" x2="215.60" y2="403.57" stroke="#f07022" stroke-width="1.5"/>
<line x1="211.60" y1="415.59" x2="215.60" y2="415.59" stroke="#f07022" stroke-width="1.5"/>
<circle cx="213.60" cy="409.58" r="1.3" fill="#f07022"/>
<line x1="227.62" y1="408.33" x2="227.62" y2="415.36" stroke="#f07022" stroke-width="1.6"/>
<line x1="225.62" y1="408.33" x2="229.62" y2="408.33" stroke="#f07022" stroke-width="1.5"/>
<line x1="225.62" y1="415.36" x2="229.62" y2="415.36" stroke="#f07022" stroke-width="1.5"/>
<circle cx="227.62" cy="411.85" r="1.3" fill="#f07022"/>
<line x1="241.65" y1="444.03" x2="241.65" y2="450.83" stroke="#f07022" stroke-width="1.6"/>
<line x1="239.65" y1="444.03" x2="243.65" y2="444.03" stroke="#f07022" stroke-width="1.5"/>
<line x1="239.65" y1="450.83" x2="243.65" y2="450.83" stroke="#f07022" stroke-width="1.5"/>
<circle cx="241.65" cy="447.43" r="1.3" fill="#f07022"/>
<line x1="255.67" y1="441.31" x2="255.67" y2="457.86" stroke="#f07022" stroke-width="1.6"/>
<line x1="253.67" y1="441.31" x2="257.67" y2="441.31" stroke="#f07022" stroke-width="1.5"/>
<line x1="253.67" y1="457.86" x2="257.67" y2="457.86" stroke="#f07022" stroke-width="1.5"/>
<circle cx="255.67" cy="449.59" r="1.3" fill="#f07022"/>
<line x1="269.70" y1="446.87" x2="269.70" y2="467.95" stroke="#f07022" stroke-width="1.6"/>
<line x1="267.70" y1="446.87" x2="271.70" y2="446.87" stroke="#f07022" stroke-width="1.5"/>
<line x1="267.70" y1="467.95" x2="271.70" y2="467.95" stroke="#f07022" stroke-width="1.5"/>
<circle cx="269.70" cy="457.41" r="1.3" fill="#f07022"/>
<circle cx="154.40" cy="483.40" r="1.3" fill="#141414"/>
<circle cx="157.50" cy="483.40" r="1.3" fill="#141414"/>
<circle cx="160.60" cy="483.40" r="1.3" fill="#141414"/>
<circle cx="198.02" cy="468.80" r="1.3" fill="#141414"/>
<circle cx="201.12" cy="468.80" r="1.3" fill="#141414"/>
<circle cx="240.10" cy="472.30" r="1.3" fill="#141414"/>
<circle cx="243.20" cy="472.30" r="1.3" fill="#141414"/>
<circle cx="254.12" cy="476.10" r="1.3" fill="#141414"/>
<circle cx="257.22" cy="476.10" r="1.3" fill="#141414"/>
<circle cx="266.60" cy="490.00" r="1.3" fill="#141414"/>
<circle cx="269.70" cy="490.00" r="1.3" fill="#141414"/>
<circle cx="272.80" cy="490.00" r="1.3" fill="#141414"/>
<text x="241.65" y="435.70" font-size="7.8" text-anchor="middle" fill="#ef7a30" stroke="#ef7a30" stroke-width="0.3">$$</text>
<text x="255.67" y="437.50" font-size="7.8" text-anchor="middle" fill="#ef7a30" stroke="#ef7a30" stroke-width="0.3">$$</text>
<text x="269.70" y="440.80" font-size="7.8" text-anchor="middle" fill="#ef7a30" stroke="#ef7a30" stroke-width="0.3">$$$</text>
<line x1="277.4" y1="454.6" x2="277.4" y2="475" stroke="#555" stroke-width="1.1"/>
<line x1="274.59999999999997" y1="454.6" x2="280.2" y2="454.6" stroke="#555" stroke-width="1.1"/>
<line x1="274.59999999999997" y1="475" x2="280.2" y2="475" stroke="#555" stroke-width="1.1"/>
<text x="286.3" y="470.0" font-size="9.5" text-anchor="middle" fill="#333" stroke="#333" stroke-width="0.3">##</text>
<line x1="338.50" y1="394.10" x2="338.50" y2="529.50" stroke="#4a4a4a" stroke-width="1"/>
<line x1="335.30" y1="394.10" x2="338.50" y2="394.10" stroke="#4a4a4a" stroke-width="1"/>
<text x="334.00" y="397.00" font-size="8.4" text-anchor="end" fill="#222" stroke="#222" stroke-width="0.28">0.02</text>
<line x1="335.30" y1="416.67" x2="338.50" y2="416.67" stroke="#4a4a4a" stroke-width="1"/>
<text x="334.00" y="419.57" font-size="8.4" text-anchor="end" fill="#222" stroke="#222" stroke-width="0.28">0.00</text>
<line x1="335.30" y1="439.23" x2="338.50" y2="439.23" stroke="#4a4a4a" stroke-width="1"/>
<text x="334.00" y="442.13" font-size="8.4" text-anchor="end" fill="#222" stroke="#222" stroke-width="0.28">-0.02</text>
<line x1="335.30" y1="461.80" x2="338.50" y2="461.80" stroke="#4a4a4a" stroke-width="1"/>
<text x="334.00" y="464.70" font-size="8.4" text-anchor="end" fill="#222" stroke="#222" stroke-width="0.28">-0.04</text>
<line x1="335.30" y1="484.37" x2="338.50" y2="484.37" stroke="#4a4a4a" stroke-width="1"/>
<text x="334.00" y="487.27" font-size="8.4" text-anchor="end" fill="#222" stroke="#222" stroke-width="0.28">-0.06</text>
<line x1="335.30" y1="506.93" x2="338.50" y2="506.93" stroke="#4a4a4a" stroke-width="1"/>
<text x="334.00" y="509.83" font-size="8.4" text-anchor="end" fill="#222" stroke="#222" stroke-width="0.28">-0.08</text>
<line x1="335.30" y1="529.50" x2="338.50" y2="529.50" stroke="#4a4a4a" stroke-width="1"/>
<text x="334.00" y="532.40" font-size="8.4" text-anchor="end" fill="#222" stroke="#222" stroke-width="0.28">-0.10</text>
<line x1="338.50" y1="416.67" x2="464.20" y2="416.67" stroke="#4a4a4a" stroke-width="1"/>
<line x1="352.50" y1="413.67" x2="352.50" y2="416.67" stroke="#4a4a4a" stroke-width="1"/>
<text x="352.70" y="391.50" font-size="8.4" text-anchor="middle" fill="#222" stroke="#222" stroke-width="0.28">-13</text>
<line x1="366.40" y1="413.67" x2="366.40" y2="416.67" stroke="#4a4a4a" stroke-width="1"/>
<text x="366.60" y="391.50" font-size="8.4" text-anchor="middle" fill="#222" stroke="#222" stroke-width="0.28">-12</text>
<line x1="380.30" y1="413.67" x2="380.30" y2="416.67" stroke="#4a4a4a" stroke-width="1"/>
<text x="380.50" y="391.50" font-size="8.4" text-anchor="middle" fill="#222" stroke="#222" stroke-width="0.28">-11</text>
<line x1="394.20" y1="413.67" x2="394.20" y2="416.67" stroke="#4a4a4a" stroke-width="1"/>
<text x="394.40" y="391.50" font-size="8.4" text-anchor="middle" fill="#222" stroke="#222" stroke-width="0.28">-10</text>
<line x1="408.10" y1="413.67" x2="408.10" y2="416.67" stroke="#4a4a4a" stroke-width="1"/>
<text x="408.30" y="391.50" font-size="8.4" text-anchor="middle" fill="#222" stroke="#222" stroke-width="0.28">-9</text>
<line x1="422.00" y1="413.67" x2="422.00" y2="416.67" stroke="#4a4a4a" stroke-width="1"/>
<text x="422.20" y="391.50" font-size="8.4" text-anchor="middle" fill="#222" stroke="#222" stroke-width="0.28">-8</text>
<line x1="435.90" y1="413.67" x2="435.90" y2="416.67" stroke="#4a4a4a" stroke-width="1"/>
<text x="436.10" y="391.50" font-size="8.4" text-anchor="middle" fill="#222" stroke="#222" stroke-width="0.28">-7</text>
<line x1="449.80" y1="413.67" x2="449.80" y2="416.67" stroke="#4a4a4a" stroke-width="1"/>
<text x="450.00" y="391.50" font-size="8.4" text-anchor="middle" fill="#222" stroke="#222" stroke-width="0.28">-6</text>
<line x1="463.70" y1="413.67" x2="463.70" y2="416.67" stroke="#4a4a4a" stroke-width="1"/>
<text x="463.90" y="391.50" font-size="8.4" text-anchor="middle" fill="#222" stroke="#222" stroke-width="0.28">-5</text>
<text x="400.90" y="377.40" font-size="8.9" text-anchor="middle" fill="#222" stroke="#222" stroke-width="0.35">Log [NE] (M)</text>
<text transform="translate(310.60,461.80) rotate(-90)" font-size="9.7" text-anchor="middle" fill="#222" stroke="#222" stroke-width="0.25">NE-modulated BRET</text>
<polyline points="352.50,419.60 353.89,419.60 355.28,419.60 356.67,419.60 358.06,419.60 359.45,419.60 360.84,419.60 362.23,419.60 363.62,419.60 365.01,419.60 366.40,419.60 367.79,419.60 369.18,419.60 370.57,419.60 371.96,419.60 373.35,419.60 374.74,419.60 376.13,419.60 377.52,419.60 378.91,419.60 380.30,419.60 381.69,419.60 383.08,419.60 384.47,419.60 385.86,419.60 387.25,419.60 388.64,419.61 390.03,419.61 391.42,419.61 392.81,419.61 394.20,419.62 395.59,419.62 396.98,419.63 398.37,419.63 399.76,419.64 401.15,419.65 402.54,419.67 403.93,419.69 405.32,419.72 406.71,419.75 408.10,419.79 409.49,419.84 410.88,419.91 412.27,420.00 413.66,420.12 415.05,420.26 416.44,420.45 417.83,420.68 419.22,420.97 420.61,421.34 422.00,421.80 423.39,422.36 424.78,423.05 426.17,423.87 427.56,424.85 428.95,425.97 430.34,427.24 431.73,428.64 433.12,430.14 434.51,431.70 435.90,433.27 437.29,434.79 438.68,436.24 440.07,437.56 441.46,438.75 442.85,439.78 444.24,440.66 445.63,441.40 447.02,442.01 448.41,442.51 449.80,442.91 451.19,443.23 452.58,443.49 453.97,443.69 455.36,443.85 456.75,443.98 458.14,444.08 459.53,444.15 460.92,444.21 462.31,444.26 463.70,444.30" fill="none" stroke="#141414" stroke-width="2.1"/>
<polyline points="352.50,424.00 353.89,424.00 355.28,424.00 356.67,424.00 358.06,424.00 359.45,424.00 360.84,424.00 362.23,424.00 363.62,424.00 365.01,424.00 366.40,424.00 367.79,424.00 369.18,424.00 370.57,424.00 371.96,424.00 373.35,424.00 374.74,424.00 376.13,424.01 377.52,424.01 378.91,424.01 380.30,424.01 381.69,424.01 383.08,424.02 384.47,424.02 385.86,424.02 387.25,424.03 388.64,424.04 390.03,424.05 391.42,424.06 392.81,424.07 394.20,424.09 395.59,424.12 396.98,424.15 398.37,424.18 399.76,424.23 401.15,424.29 402.54,424.36 403.93,424.46 405.32,424.57 406.71,424.72 408.10,424.90 409.49,425.12 410.88,425.40 412.27,425.75 413.66,426.18 415.05,426.70 416.44,427.33 417.83,428.10 419.22,429.02 420.61,430.10 422.00,431.36 423.39,432.81 424.78,434.44 426.17,436.24 427.56,438.19 428.95,440.23 430.34,442.34 431.73,444.44 433.12,446.49 434.51,448.43 435.90,450.23 437.29,451.86 438.68,453.31 440.07,454.57 441.46,455.65 442.85,456.57 444.24,457.34 445.63,457.97 447.02,458.50 448.41,458.92 449.80,459.27 451.19,459.55 452.58,459.77 453.97,459.95 455.36,460.10 456.75,460.22 458.14,460.31 459.53,460.38 460.92,460.44 462.31,460.49 463.70,460.53" fill="none" stroke="#f07022" stroke-width="1.8"/>
<line x1="352.50" y1="432.58" x2="352.50" y2="442.05" stroke="#141414" stroke-width="1.6"/>
<line x1="350.50" y1="432.58" x2="354.50" y2="432.58" stroke="#141414" stroke-width="1.5"/>
<line x1="350.50" y1="442.05" x2="354.50" y2="442.05" stroke="#141414" stroke-width="1.5"/>
<circle cx="352.50" cy="437.32" r="1.3" fill="#141414"/>
<line x1="366.40" y1="399.52" x2="366.40" y2="415.09" stroke="#141414" stroke-width="1.6"/>
<line x1="364.40" y1="399.52" x2="368.40" y2="399.52" stroke="#141414" stroke-width="1.5"/>
<line x1="364.40" y1="415.09" x2="368.40" y2="415.09" stroke="#141414" stroke-width="1.5"/>
<circle cx="366.40" cy="407.30" r="1.3" fill="#141414"/>
<line x1="380.30" y1="416.67" x2="380.30" y2="425.69" stroke="#141414" stroke-width="1.6"/>
<line x1="378.30" y1="416.67" x2="382.30" y2="416.67" stroke="#141414" stroke-width="1.5"/>
<line x1="378.30" y1="425.69" x2="382.30" y2="425.69" stroke="#141414" stroke-width="1.5"/>
<circle cx="380.30" cy="421.18" r="1.3" fill="#141414"/>
<line x1="394.20" y1="418.47" x2="394.20" y2="429.53" stroke="#141414" stroke-width="1.6"/>
<line x1="392.20" y1="418.47" x2="396.20" y2="418.47" stroke="#141414" stroke-width="1.5"/>
<line x1="392.20" y1="429.53" x2="396.20" y2="429.53" stroke="#141414" stroke-width="1.5"/>
<circle cx="394.20" cy="424.00" r="1.3" fill="#141414"/>
<line x1="408.10" y1="407.30" x2="408.10" y2="425.13" stroke="#141414" stroke-width="1.6"/>
<line x1="406.10" y1="407.30" x2="410.10" y2="407.30" stroke="#141414" stroke-width="1.5"/>
<line x1="406.10" y1="425.13" x2="410.10" y2="425.13" stroke="#141414" stroke-width="1.5"/>
<circle cx="408.10" cy="416.22" r="1.3" fill="#141414"/>
<line x1="422.00" y1="414.07" x2="422.00" y2="425.13" stroke="#141414" stroke-width="1.6"/>
<line x1="420.00" y1="414.07" x2="424.00" y2="414.07" stroke="#141414" stroke-width="1.5"/>
<line x1="420.00" y1="425.13" x2="424.00" y2="425.13" stroke="#141414" stroke-width="1.5"/>
<circle cx="422.00" cy="419.60" r="1.3" fill="#141414"/>
<line x1="435.90" y1="428.63" x2="435.90" y2="446.00" stroke="#141414" stroke-width="1.6"/>
<line x1="433.90" y1="428.63" x2="437.90" y2="428.63" stroke="#141414" stroke-width="1.5"/>
<line x1="433.90" y1="446.00" x2="437.90" y2="446.00" stroke="#141414" stroke-width="1.5"/>
<circle cx="435.90" cy="437.32" r="1.3" fill="#141414"/>
<line x1="449.80" y1="438.11" x2="449.80" y2="445.33" stroke="#141414" stroke-width="1.6"/>
<line x1="447.80" y1="438.11" x2="451.80" y2="438.11" stroke="#141414" stroke-width="1.5"/>
<line x1="447.80" y1="445.33" x2="451.80" y2="445.33" stroke="#141414" stroke-width="1.5"/>
<circle cx="449.80" cy="441.72" r="1.3" fill="#141414"/>
<line x1="463.70" y1="438.78" x2="463.70" y2="451.42" stroke="#141414" stroke-width="1.6"/>
<line x1="461.70" y1="438.78" x2="465.70" y2="438.78" stroke="#141414" stroke-width="1.5"/>
<line x1="461.70" y1="451.42" x2="465.70" y2="451.42" stroke="#141414" stroke-width="1.5"/>
<circle cx="463.70" cy="445.10" r="1.3" fill="#141414"/>
<line x1="352.50" y1="425.58" x2="352.50" y2="433.48" stroke="#f07022" stroke-width="1.6"/>
<line x1="350.50" y1="425.58" x2="354.50" y2="425.58" stroke="#f07022" stroke-width="1.5"/>
<line x1="350.50" y1="433.48" x2="354.50" y2="433.48" stroke="#f07022" stroke-width="1.5"/>
<circle cx="352.50" cy="429.53" r="1.3" fill="#f07022"/>
<line x1="366.40" y1="407.64" x2="366.40" y2="420.28" stroke="#f07022" stroke-width="1.6"/>
<line x1="364.40" y1="407.64" x2="368.40" y2="407.64" stroke="#f07022" stroke-width="1.5"/>
<line x1="364.40" y1="420.28" x2="368.40" y2="420.28" stroke="#f07022" stroke-width="1.5"/>
<circle cx="366.40" cy="413.96" r="1.3" fill="#f07022"/>
<line x1="380.30" y1="407.30" x2="380.30" y2="425.13" stroke="#f07022" stroke-width="1.6"/>
<line x1="378.30" y1="407.30" x2="382.30" y2="407.30" stroke="#f07022" stroke-width="1.5"/>
<line x1="378.30" y1="425.13" x2="382.30" y2="425.13" stroke="#f07022" stroke-width="1.5"/>
<circle cx="380.30" cy="416.22" r="1.3" fill="#f07022"/>
<line x1="394.20" y1="435.62" x2="394.20" y2="445.78" stroke="#f07022" stroke-width="1.6"/>
<line x1="392.20" y1="435.62" x2="396.20" y2="435.62" stroke="#f07022" stroke-width="1.5"/>
<line x1="392.20" y1="445.78" x2="396.20" y2="445.78" stroke="#f07022" stroke-width="1.5"/>
<circle cx="394.20" cy="440.70" r="1.3" fill="#f07022"/>
<line x1="408.10" y1="419.49" x2="408.10" y2="428.51" stroke="#f07022" stroke-width="1.6"/>
<line x1="406.10" y1="419.49" x2="410.10" y2="419.49" stroke="#f07022" stroke-width="1.5"/>
<line x1="406.10" y1="428.51" x2="410.10" y2="428.51" stroke="#f07022" stroke-width="1.5"/>
<circle cx="408.10" cy="424.00" r="1.3" fill="#f07022"/>
<line x1="422.00" y1="419.71" x2="422.00" y2="426.03" stroke="#f07022" stroke-width="1.6"/>
<line x1="420.00" y1="419.71" x2="424.00" y2="419.71" stroke="#f07022" stroke-width="1.5"/>
<line x1="420.00" y1="426.03" x2="424.00" y2="426.03" stroke="#f07022" stroke-width="1.5"/>
<circle cx="422.00" cy="422.87" r="1.3" fill="#f07022"/>
<line x1="435.90" y1="446.23" x2="435.90" y2="457.29" stroke="#f07022" stroke-width="1.6"/>
<line x1="433.90" y1="446.23" x2="437.90" y2="446.23" stroke="#f07022" stroke-width="1.5"/>
<line x1="433.90" y1="457.29" x2="437.90" y2="457.29" stroke="#f07022" stroke-width="1.5"/>
<circle cx="435.90" cy="451.76" r="1.3" fill="#f07022"/>
<line x1="449.80" y1="451.76" x2="449.80" y2="462.82" stroke="#f07022" stroke-width="1.6"/>
<line x1="447.80" y1="451.76" x2="451.80" y2="451.76" stroke="#f07022" stroke-width="1.5"/>
<line x1="447.80" y1="462.82" x2="451.80" y2="462.82" stroke="#f07022" stroke-width="1.5"/>
<circle cx="449.80" cy="457.29" r="1.3" fill="#f07022"/>
<line x1="463.70" y1="454.35" x2="463.70" y2="466.99" stroke="#f07022" stroke-width="1.6"/>
<line x1="461.70" y1="454.35" x2="465.70" y2="454.35" stroke="#f07022" stroke-width="1.5"/>
<line x1="461.70" y1="466.99" x2="465.70" y2="466.99" stroke="#f07022" stroke-width="1.5"/>
<circle cx="463.70" cy="460.67" r="1.3" fill="#f07022"/>
<circle cx="449.80" cy="430.10" r="1.3" fill="#141414"/>
<circle cx="462.15" cy="433.20" r="1.3" fill="#141414"/>
<circle cx="465.25" cy="433.20" r="1.3" fill="#141414"/>
<text x="394.20" y="453.50" font-size="7.8" text-anchor="middle" fill="#ef7a30" stroke="#ef7a30" stroke-width="0.3">$$</text>
<text x="435.90" y="466.80" font-size="7.8" text-anchor="middle" fill="#ef7a30" stroke="#ef7a30" stroke-width="0.3">$$$</text>
<text x="449.80" y="474.20" font-size="7.8" text-anchor="middle" fill="#ef7a30" stroke="#ef7a30" stroke-width="0.3">$$$</text>
<text x="463.70" y="477.50" font-size="7.8" text-anchor="middle" fill="#ef7a30" stroke="#ef7a30" stroke-width="0.3">$$$</text>
<line x1="524.30" y1="392.00" x2="524.30" y2="530.40" stroke="#4a4a4a" stroke-width="1"/>
<line x1="521.10" y1="392.00" x2="524.30" y2="392.00" stroke="#4a4a4a" stroke-width="1"/>
<text x="519.80" y="394.90" font-size="8.4" text-anchor="end" fill="#222" stroke="#222" stroke-width="0.28">0.02</text>
<line x1="521.10" y1="415.07" x2="524.30" y2="415.07" stroke="#4a4a4a" stroke-width="1"/>
<text x="519.80" y="417.97" font-size="8.4" text-anchor="end" fill="#222" stroke="#222" stroke-width="0.28">0.00</text>
<line x1="521.10" y1="438.13" x2="524.30" y2="438.13" stroke="#4a4a4a" stroke-width="1"/>
<text x="519.80" y="441.03" font-size="8.4" text-anchor="end" fill="#222" stroke="#222" stroke-width="0.28">-0.02</text>
<line x1="521.10" y1="461.20" x2="524.30" y2="461.20" stroke="#4a4a4a" stroke-width="1"/>
<text x="519.80" y="464.10" font-size="8.4" text-anchor="end" fill="#222" stroke="#222" stroke-width="0.28">-0.04</text>
<line x1="521.10" y1="484.27" x2="524.30" y2="484.27" stroke="#4a4a4a" stroke-width="1"/>
<text x="519.80" y="487.17" font-size="8.4" text-anchor="end" fill="#222" stroke="#222" stroke-width="0.28">-0.06</text>
<line x1="521.10" y1="507.33" x2="524.30" y2="507.33" stroke="#4a4a4a" stroke-width="1"/>
<text x="519.80" y="510.23" font-size="8.4" text-anchor="end" fill="#222" stroke="#222" stroke-width="0.28">-0.08</text>
<line x1="521.10" y1="530.40" x2="524.30" y2="530.40" stroke="#4a4a4a" stroke-width="1"/>
<text x="519.80" y="533.30" font-size="8.4" text-anchor="end" fill="#222" stroke="#222" stroke-width="0.28">-0.10</text>
<line x1="524.30" y1="415.07" x2="653.10" y2="415.07" stroke="#4a4a4a" stroke-width="1"/>
<line x1="538.50" y1="412.07" x2="538.50" y2="415.07" stroke="#4a4a4a" stroke-width="1"/>
<text x="538.70" y="389.90" font-size="8.4" text-anchor="middle" fill="#222" stroke="#222" stroke-width="0.28">-13</text>
<line x1="552.76" y1="412.07" x2="552.76" y2="415.07" stroke="#4a4a4a" stroke-width="1"/>
<text x="552.96" y="389.90" font-size="8.4" text-anchor="middle" fill="#222" stroke="#222" stroke-width="0.28">-12</text>
<line x1="567.02" y1="412.07" x2="567.02" y2="415.07" stroke="#4a4a4a" stroke-width="1"/>
<text x="567.23" y="389.90" font-size="8.4" text-anchor="middle" fill="#222" stroke="#222" stroke-width="0.28">-11</text>
<line x1="581.29" y1="412.07" x2="581.29" y2="415.07" stroke="#4a4a4a" stroke-width="1"/>
<text x="581.49" y="389.90" font-size="8.4" text-anchor="middle" fill="#222" stroke="#222" stroke-width="0.28">-10</text>
<line x1="595.55" y1="412.07" x2="595.55" y2="415.07" stroke="#4a4a4a" stroke-width="1"/>
<text x="595.75" y="389.90" font-size="8.4" text-anchor="middle" fill="#222" stroke="#222" stroke-width="0.28">-9</text>
<line x1="609.81" y1="412.07" x2="609.81" y2="415.07" stroke="#4a4a4a" stroke-width="1"/>
<text x="610.01" y="389.90" font-size="8.4" text-anchor="middle" fill="#222" stroke="#222" stroke-width="0.28">-8</text>
<line x1="624.08" y1="412.07" x2="624.08" y2="415.07" stroke="#4a4a4a" stroke-width="1"/>
<text x="624.28" y="389.90" font-size="8.4" text-anchor="middle" fill="#222" stroke="#222" stroke-width="0.28">-7</text>
<line x1="638.34" y1="412.07" x2="638.34" y2="415.07" stroke="#4a4a4a" stroke-width="1"/>
<text x="638.54" y="389.90" font-size="8.4" text-anchor="middle" fill="#222" stroke="#222" stroke-width="0.28">-6</text>
<line x1="652.60" y1="412.07" x2="652.60" y2="415.07" stroke="#4a4a4a" stroke-width="1"/>
<text x="652.80" y="389.90" font-size="8.4" text-anchor="middle" fill="#222" stroke="#222" stroke-width="0.28">-5</text>
<text x="588.35" y="377.10" font-size="8.9" text-anchor="middle" fill="#222" stroke="#222" stroke-width="0.35">Log [EPI] (M)</text>
<text transform="translate(494.70,461.20) rotate(-90)" font-size="9.7" text-anchor="middle" fill="#222" stroke="#222" stroke-width="0.25">EPI-modulated BRET</text>
<polyline points="538.50,419.91 539.93,419.91 541.35,419.91 542.78,419.91 544.21,419.91 545.63,419.91 547.06,419.91 548.48,419.91 549.91,419.91 551.34,419.91 552.76,419.91 554.19,419.91 555.62,419.91 557.04,419.91 558.47,419.91 559.89,419.91 561.32,419.91 562.75,419.91 564.17,419.91 565.60,419.91 567.02,419.91 568.45,419.91 569.88,419.91 571.30,419.92 572.73,419.92 574.16,419.92 575.58,419.92 577.01,419.92 578.44,419.93 579.86,419.93 581.29,419.94 582.71,419.95 584.14,419.96 585.57,419.97 586.99,419.98 588.42,420.01 589.85,420.03 591.27,420.07 592.70,420.11 594.12,420.17 595.55,420.25 596.98,420.34 598.40,420.46 599.83,420.62 601.25,420.82 602.68,421.07 604.11,421.39 605.53,421.79 606.96,422.29 608.39,422.90 609.81,423.66 611.24,424.57 612.66,425.66 614.09,426.93 615.52,428.38 616.94,430.01 618.37,431.77 619.80,433.63 621.22,435.53 622.65,437.42 624.08,439.23 625.50,440.91 626.93,442.43 628.35,443.78 629.78,444.94 631.21,445.92 632.63,446.74 634.06,447.41 635.49,447.95 636.91,448.39 638.34,448.73 639.76,449.01 641.19,449.23 642.62,449.40 644.04,449.54 645.47,449.64 646.89,449.72 648.32,449.79 649.75,449.84 651.17,449.88 652.60,449.91" fill="none" stroke="#141414" stroke-width="2.1"/>
<line x1="538.50" y1="425.79" x2="538.50" y2="447.48" stroke="#141414" stroke-width="1.6"/>
<line x1="536.50" y1="425.79" x2="540.50" y2="425.79" stroke="#141414" stroke-width="1.5"/>
<line x1="536.50" y1="447.48" x2="540.50" y2="447.48" stroke="#141414" stroke-width="1.5"/>
<circle cx="538.50" cy="436.63" r="1.3" fill="#141414"/>
<line x1="552.76" y1="406.30" x2="552.76" y2="424.75" stroke="#141414" stroke-width="1.6"/>
<line x1="550.76" y1="406.30" x2="554.76" y2="406.30" stroke="#141414" stroke-width="1.5"/>
<line x1="550.76" y1="424.75" x2="554.76" y2="424.75" stroke="#141414" stroke-width="1.5"/>
<circle cx="552.76" cy="415.53" r="1.3" fill="#141414"/>
<line x1="567.02" y1="405.26" x2="567.02" y2="430.18" stroke="#141414" stroke-width="1.6"/>
<line x1="565.02" y1="405.26" x2="569.02" y2="405.26" stroke="#141414" stroke-width="1.5"/>
<line x1="565.02" y1="430.18" x2="569.02" y2="430.18" stroke="#141414" stroke-width="1.5"/>
<circle cx="567.02" cy="417.72" r="1.3" fill="#141414"/>
<line x1="581.29" y1="420.95" x2="581.29" y2="427.87" stroke="#141414" stroke-width="1.6"/>
<line x1="579.29" y1="420.95" x2="583.29" y2="420.95" stroke="#141414" stroke-width="1.5"/>
<line x1="579.29" y1="427.87" x2="583.29" y2="427.87" stroke="#141414" stroke-width="1.5"/>
<circle cx="581.29" cy="424.41" r="1.3" fill="#141414"/>
<line x1="595.55" y1="403.88" x2="595.55" y2="431.56" stroke="#141414" stroke-width="1.6"/>
<line x1="593.55" y1="403.88" x2="597.55" y2="403.88" stroke="#141414" stroke-width="1.5"/>
<line x1="593.55" y1="431.56" x2="597.55" y2="431.56" stroke="#141414" stroke-width="1.5"/>
<circle cx="595.55" cy="417.72" r="1.3" fill="#141414"/>
<line x1="609.81" y1="398.57" x2="609.81" y2="412.41" stroke="#141414" stroke-width="1.6"/>
<line x1="607.81" y1="398.57" x2="611.81" y2="398.57" stroke="#141414" stroke-width="1.5"/>
<line x1="607.81" y1="412.41" x2="611.81" y2="412.41" stroke="#141414" stroke-width="1.5"/>
<circle cx="609.81" cy="405.49" r="1.3" fill="#141414"/>
<line x1="624.08" y1="435.83" x2="624.08" y2="466.27" stroke="#141414" stroke-width="1.6"/>
<line x1="622.08" y1="435.83" x2="626.08" y2="435.83" stroke="#141414" stroke-width="1.5"/>
<line x1="622.08" y1="466.27" x2="626.08" y2="466.27" stroke="#141414" stroke-width="1.5"/>
<circle cx="624.08" cy="451.05" r="1.3" fill="#141414"/>
<line x1="638.34" y1="426.37" x2="638.34" y2="453.59" stroke="#141414" stroke-width="1.6"/>
<line x1="636.34" y1="426.37" x2="640.34" y2="426.37" stroke="#141414" stroke-width="1.5"/>
<line x1="636.34" y1="453.59" x2="640.34" y2="453.59" stroke="#141414" stroke-width="1.5"/>
<circle cx="638.34" cy="439.98" r="1.3" fill="#141414"/>
<line x1="652.60" y1="439.75" x2="652.60" y2="457.97" stroke="#141414" stroke-width="1.6"/>
<line x1="650.60" y1="439.75" x2="654.60" y2="439.75" stroke="#141414" stroke-width="1.5"/>
<line x1="650.60" y1="457.97" x2="654.60" y2="457.97" stroke="#141414" stroke-width="1.5"/>
<circle cx="652.60" cy="448.86" r="1.3" fill="#141414"/>
<line x1="538.50" y1="423.95" x2="538.50" y2="431.56" stroke="#f07022" stroke-width="1.6"/>
<line x1="536.50" y1="423.95" x2="540.50" y2="423.95" stroke="#f07022" stroke-width="1.5"/>
<line x1="536.50" y1="431.56" x2="540.50" y2="431.56" stroke="#f07022" stroke-width="1.5"/>
<circle cx="538.50" cy="427.75" r="1.3" fill="#f07022"/>
<line x1="552.76" y1="392.69" x2="552.76" y2="396.15" stroke="#f07022" stroke-width="1.6"/>
<line x1="550.76" y1="392.69" x2="554.76" y2="392.69" stroke="#f07022" stroke-width="1.5"/>
<line x1="550.76" y1="396.15" x2="554.76" y2="396.15" stroke="#f07022" stroke-width="1.5"/>
<circle cx="552.76" cy="394.42" r="1.3" fill="#f07022"/>
<line x1="567.02" y1="405.26" x2="567.02" y2="419.10" stroke="#f07022" stroke-width="1.6"/>
<line x1="565.02" y1="405.26" x2="569.02" y2="405.26" stroke="#f07022" stroke-width="1.5"/>
<line x1="565.02" y1="419.10" x2="569.02" y2="419.10" stroke="#f07022" stroke-width="1.5"/>
<circle cx="567.02" cy="412.18" r="1.3" fill="#f07022"/>
<line x1="581.29" y1="429.83" x2="581.29" y2="439.06" stroke="#f07022" stroke-width="1.6"/>
<line x1="579.29" y1="429.83" x2="583.29" y2="429.83" stroke="#f07022" stroke-width="1.5"/>
<line x1="579.29" y1="439.06" x2="583.29" y2="439.06" stroke="#f07022" stroke-width="1.5"/>
<circle cx="581.29" cy="434.44" r="1.3" fill="#f07022"/>
<line x1="595.55" y1="413.91" x2="595.55" y2="428.21" stroke="#f07022" stroke-width="1.6"/>
<line x1="593.55" y1="413.91" x2="597.55" y2="413.91" stroke="#f07022" stroke-width="1.5"/>
<line x1="593.55" y1="428.21" x2="597.55" y2="428.21" stroke="#f07022" stroke-width="1.5"/>
<circle cx="595.55" cy="421.06" r="1.3" fill="#f07022"/>
<line x1="609.81" y1="420.60" x2="609.81" y2="436.98" stroke="#f07022" stroke-width="1.6"/>
<line x1="607.81" y1="420.60" x2="611.81" y2="420.60" stroke="#f07022" stroke-width="1.5"/>
<line x1="607.81" y1="436.98" x2="611.81" y2="436.98" stroke="#f07022" stroke-width="1.5"/>
<circle cx="609.81" cy="428.79" r="1.3" fill="#f07022"/>
<line x1="624.08" y1="441.59" x2="624.08" y2="451.74" stroke="#f07022" stroke-width="1.6"/>
<line x1="622.08" y1="441.59" x2="626.08" y2="441.59" stroke="#f07022" stroke-width="1.5"/>
<line x1="622.08" y1="451.74" x2="626.08" y2="451.74" stroke="#f07022" stroke-width="1.5"/>
<circle cx="624.08" cy="446.67" r="1.3" fill="#f07022"/>
<line x1="638.34" y1="442.75" x2="638.34" y2="461.66" stroke="#f07022" stroke-width="1.6"/>
<line x1="636.34" y1="442.75" x2="640.34" y2="442.75" stroke="#f07022" stroke-width="1.5"/>
<line x1="636.34" y1="461.66" x2="640.34" y2="461.66" stroke="#f07022" stroke-width="1.5"/>
<circle cx="638.34" cy="452.20" r="1.3" fill="#f07022"/>
<line x1="652.60" y1="448.86" x2="652.60" y2="464.31" stroke="#f07022" stroke-width="1.6"/>
<line x1="650.60" y1="448.86" x2="654.60" y2="448.86" stroke="#f07022" stroke-width="1.5"/>
<line x1="650.60" y1="464.31" x2="654.60" y2="464.31" stroke="#f07022" stroke-width="1.5"/>
<circle cx="652.60" cy="456.59" r="1.3" fill="#f07022"/>
<circle cx="622.53" cy="430.00" r="1.3" fill="#141414"/>
<circle cx="625.62" cy="430.00" r="1.3" fill="#141414"/>
<circle cx="638.34" cy="423.80" r="1.3" fill="#141414"/>
<circle cx="651.05" cy="434.40" r="1.3" fill="#141414"/>
<circle cx="654.15" cy="434.40" r="1.3" fill="#141414"/>
<text x="624.08" y="476.90" font-size="7.8" text-anchor="middle" fill="#ef7a30" stroke="#ef7a30" stroke-width="0.3">$$</text>
<text x="638.34" y="472.10" font-size="7.8" text-anchor="middle" fill="#ef7a30" stroke="#ef7a30" stroke-width="0.3">$$$</text>
<text x="652.60" y="475.20" font-size="7.8" text-anchor="middle" fill="#ef7a30" stroke="#ef7a30" stroke-width="0.3">$$$</text>
<line x1="143.70" y1="555.60" x2="143.70" y2="694.10" stroke="#4a4a4a" stroke-width="1"/>
<line x1="140.50" y1="555.60" x2="143.70" y2="555.60" stroke="#4a4a4a" stroke-width="1"/>
<text x="139.20" y="558.50" font-size="8.4" text-anchor="end" fill="#222" stroke="#222" stroke-width="0.28">0.02</text>
<line x1="140.50" y1="578.68" x2="143.70" y2="578.68" stroke="#4a4a4a" stroke-width="1"/>
<text x="139.20" y="581.58" font-size="8.4" text-anchor="end" fill="#222" stroke="#222" stroke-width="0.28">0.00</text>
<line x1="140.50" y1="601.77" x2="143.70" y2="601.77" stroke="#4a4a4a" stroke-width="1"/>
<text x="139.20" y="604.67" font-size="8.4" text-anchor="end" fill="#222" stroke="#222" stroke-width="0.28">-0.02</text>
<line x1="140.50" y1="624.85" x2="143.70" y2="624.85" stroke="#4a4a4a" stroke-width="1"/>
<text x="139.20" y="627.75" font-size="8.4" text-anchor="end" fill="#222" stroke="#222" stroke-width="0.28">-0.04</text>
<line x1="140.50" y1="647.93" x2="143.70" y2="647.93" stroke="#4a4a4a" stroke-width="1"/>
<text x="139.20" y="650.83" font-size="8.4" text-anchor="end" fill="#222" stroke="#222" stroke-width="0.28">-0.06</text>
<line x1="140.50" y1="671.02" x2="143.70" y2="671.02" stroke="#4a4a4a" stroke-width="1"/>
<text x="139.20" y="673.92" font-size="8.4" text-anchor="end" fill="#222" stroke="#222" stroke-width="0.28">-0.08</text>
<line x1="140.50" y1="694.10" x2="143.70" y2="694.10" stroke="#4a4a4a" stroke-width="1"/>
<text x="139.20" y="697.00" font-size="8.4" text-anchor="end" fill="#222" stroke="#222" stroke-width="0.28">-0.10</text>
<line x1="143.70" y1="578.68" x2="273.90" y2="578.68" stroke="#4a4a4a" stroke-width="1"/>
<line x1="158.10" y1="575.68" x2="158.10" y2="578.68" stroke="#4a4a4a" stroke-width="1"/>
<text x="158.30" y="555.60" font-size="8.4" text-anchor="middle" fill="#222" stroke="#222" stroke-width="0.28">-13</text>
<line x1="172.51" y1="575.68" x2="172.51" y2="578.68" stroke="#4a4a4a" stroke-width="1"/>
<text x="172.71" y="555.60" font-size="8.4" text-anchor="middle" fill="#222" stroke="#222" stroke-width="0.28">-12</text>
<line x1="186.92" y1="575.68" x2="186.92" y2="578.68" stroke="#4a4a4a" stroke-width="1"/>
<text x="187.12" y="555.60" font-size="8.4" text-anchor="middle" fill="#222" stroke="#222" stroke-width="0.28">-11</text>
<line x1="201.34" y1="575.68" x2="201.34" y2="578.68" stroke="#4a4a4a" stroke-width="1"/>
<text x="201.54" y="555.60" font-size="8.4" text-anchor="middle" fill="#222" stroke="#222" stroke-width="0.28">-10</text>
<line x1="215.75" y1="575.68" x2="215.75" y2="578.68" stroke="#4a4a4a" stroke-width="1"/>
<text x="215.95" y="555.60" font-size="8.4" text-anchor="middle" fill="#222" stroke="#222" stroke-width="0.28">-9</text>
<line x1="230.16" y1="575.68" x2="230.16" y2="578.68" stroke="#4a4a4a" stroke-width="1"/>
<text x="230.36" y="555.60" font-size="8.4" text-anchor="middle" fill="#222" stroke="#222" stroke-width="0.28">-8</text>
<line x1="244.57" y1="575.68" x2="244.57" y2="578.68" stroke="#4a4a4a" stroke-width="1"/>
<text x="244.77" y="555.60" font-size="8.4" text-anchor="middle" fill="#222" stroke="#222" stroke-width="0.28">-7</text>
<line x1="258.99" y1="575.68" x2="258.99" y2="578.68" stroke="#4a4a4a" stroke-width="1"/>
<text x="259.19" y="555.60" font-size="8.4" text-anchor="middle" fill="#222" stroke="#222" stroke-width="0.28">-6</text>
<line x1="273.40" y1="575.68" x2="273.40" y2="578.68" stroke="#4a4a4a" stroke-width="1"/>
<text x="273.60" y="555.60" font-size="8.4" text-anchor="middle" fill="#222" stroke="#222" stroke-width="0.28">-5</text>
<text transform="translate(113.30,624.85) rotate(-90)" font-size="9.7" text-anchor="middle" fill="#222" stroke="#222" stroke-width="0.25">ISO-modulated BRET</text>
<polyline points="158.10,608.69 159.54,608.69 160.98,608.69 162.42,608.69 163.87,608.69 165.31,608.69 166.75,608.69 168.19,608.69 169.63,608.69 171.07,608.69 172.51,608.69 173.95,608.69 175.39,608.69 176.84,608.69 178.28,608.69 179.72,608.70 181.16,608.70 182.60,608.70 184.04,608.70 185.48,608.70 186.92,608.70 188.37,608.71 189.81,608.71 191.25,608.72 192.69,608.73 194.13,608.74 195.57,608.75 197.01,608.77 198.45,608.79 199.90,608.82 201.34,608.86 202.78,608.90 204.22,608.96 205.66,609.04 207.10,609.14 208.54,609.27 209.98,609.43 211.43,609.64 212.87,609.90 214.31,610.24 215.75,610.66 217.19,611.19 218.63,611.84 220.07,612.65 221.51,613.63 222.96,614.81 224.40,616.20 225.84,617.81 227.28,619.63 228.72,621.64 230.16,623.79 231.60,626.02 233.04,628.26 234.49,630.45 235.93,632.52 237.37,634.42 238.81,636.11 240.25,637.59 241.69,638.85 243.13,639.91 244.57,640.79 246.02,641.50 247.46,642.07 248.90,642.54 250.34,642.90 251.78,643.19 253.22,643.42 254.66,643.60 256.10,643.74 257.55,643.85 258.99,643.94 260.43,644.01 261.87,644.06 263.31,644.10 264.75,644.13 266.19,644.15 267.63,644.17 269.08,644.19 270.52,644.20 271.96,644.21 273.40,644.22" fill="none" stroke="#141414" stroke-width="2.1"/>
<polyline points="158.10,578.68 159.54,578.68 160.98,578.68 162.42,578.68 163.87,578.68 165.31,578.68 166.75,578.68 168.19,578.68 169.63,578.68 171.07,578.68 172.51,578.68 173.95,578.68 175.39,578.68 176.84,578.69 178.28,578.69 179.72,578.69 181.16,578.69 182.60,578.69 184.04,578.69 185.48,578.69 186.92,578.69 188.37,578.70 189.81,578.70 191.25,578.70 192.69,578.71 194.13,578.71 195.57,578.72 197.01,578.73 198.45,578.74 199.90,578.76 201.34,578.78 202.78,578.80 204.22,578.83 205.66,578.87 207.10,578.92 208.54,578.98 209.98,579.06 211.43,579.15 212.87,579.27 214.31,579.42 215.75,579.61 217.19,579.84 218.63,580.14 220.07,580.50 221.51,580.95 222.96,581.50 224.40,582.18 225.84,583.01 227.28,584.02 228.72,585.23 230.16,586.66 231.60,588.34 233.04,590.28 234.49,592.49 235.93,594.94 237.37,597.61 238.81,600.45 240.25,603.40 241.69,606.38 243.13,609.31 244.57,612.13 246.02,614.76 247.46,617.16 248.90,619.31 250.34,621.20 251.78,622.83 253.22,624.22 254.66,625.38 256.10,626.35 257.55,627.15 258.99,627.81 260.43,628.34 261.87,628.77 263.31,629.12 264.75,629.40 266.19,629.62 267.63,629.80 269.08,629.94 270.52,630.06 271.96,630.15 273.40,630.22" fill="none" stroke="#f07022" stroke-width="1.8"/>
<line x1="158.10" y1="584.80" x2="158.10" y2="619.19" stroke="#141414" stroke-width="1.6"/>
<line x1="156.10" y1="584.80" x2="160.10" y2="584.80" stroke="#141414" stroke-width="1.5"/>
<line x1="156.10" y1="619.19" x2="160.10" y2="619.19" stroke="#141414" stroke-width="1.5"/>
<circle cx="158.10" cy="602.00" r="1.3" fill="#141414"/>
<line x1="172.51" y1="602.92" x2="172.51" y2="624.16" stroke="#141414" stroke-width="1.6"/>
<line x1="170.51" y1="602.92" x2="174.51" y2="602.92" stroke="#141414" stroke-width="1.5"/>
<line x1="170.51" y1="624.16" x2="174.51" y2="624.16" stroke="#141414" stroke-width="1.5"/>
<circle cx="172.51" cy="613.54" r="1.3" fill="#141414"/>
<line x1="186.92" y1="591.38" x2="186.92" y2="608.23" stroke="#141414" stroke-width="1.6"/>
<line x1="184.92" y1="591.38" x2="188.92" y2="591.38" stroke="#141414" stroke-width="1.5"/>
<line x1="184.92" y1="608.23" x2="188.92" y2="608.23" stroke="#141414" stroke-width="1.5"/>
<circle cx="186.92" cy="599.80" r="1.3" fill="#141414"/>
<line x1="201.34" y1="598.42" x2="201.34" y2="618.96" stroke="#141414" stroke-width="1.6"/>
<line x1="199.34" y1="598.42" x2="203.34" y2="598.42" stroke="#141414" stroke-width="1.5"/>
<line x1="199.34" y1="618.96" x2="203.34" y2="618.96" stroke="#141414" stroke-width="1.5"/>
<circle cx="201.34" cy="608.69" r="1.3" fill="#141414"/>
<line x1="215.75" y1="607.65" x2="215.75" y2="626.58" stroke="#141414" stroke-width="1.6"/>
<line x1="213.75" y1="607.65" x2="217.75" y2="607.65" stroke="#141414" stroke-width="1.5"/>
<line x1="213.75" y1="626.58" x2="217.75" y2="626.58" stroke="#141414" stroke-width="1.5"/>
<circle cx="215.75" cy="617.12" r="1.3" fill="#141414"/>
<line x1="230.16" y1="616.08" x2="230.16" y2="636.85" stroke="#141414" stroke-width="1.6"/>
<line x1="228.16" y1="616.08" x2="232.16" y2="616.08" stroke="#141414" stroke-width="1.5"/>
<line x1="228.16" y1="636.85" x2="232.16" y2="636.85" stroke="#141414" stroke-width="1.5"/>
<circle cx="230.16" cy="626.47" r="1.3" fill="#141414"/>
<line x1="244.57" y1="627.27" x2="244.57" y2="639.05" stroke="#141414" stroke-width="1.6"/>
<line x1="242.57" y1="627.27" x2="246.57" y2="627.27" stroke="#141414" stroke-width="1.5"/>
<line x1="242.57" y1="639.05" x2="246.57" y2="639.05" stroke="#141414" stroke-width="1.5"/>
<circle cx="244.57" cy="633.16" r="1.3" fill="#141414"/>
<line x1="258.99" y1="639.05" x2="258.99" y2="665.13" stroke="#141414" stroke-width="1.6"/>
<line x1="256.99" y1="639.05" x2="260.99" y2="639.05" stroke="#141414" stroke-width="1.5"/>
<line x1="256.99" y1="665.13" x2="260.99" y2="665.13" stroke="#141414" stroke-width="1.5"/>
<circle cx="258.99" cy="652.09" r="1.3" fill="#141414"/>
<line x1="273.40" y1="630.85" x2="273.40" y2="650.93" stroke="#141414" stroke-width="1.6"/>
<line x1="271.40" y1="630.85" x2="275.40" y2="630.85" stroke="#141414" stroke-width="1.5"/>
<line x1="271.40" y1="650.93" x2="275.40" y2="650.93" stroke="#141414" stroke-width="1.5"/>
<circle cx="273.40" cy="640.89" r="1.3" fill="#141414"/>
<line x1="158.10" y1="575.57" x2="158.10" y2="581.80" stroke="#f07022" stroke-width="1.6"/>
<line x1="156.10" y1="575.57" x2="160.10" y2="575.57" stroke="#f07022" stroke-width="1.5"/>
<line x1="156.10" y1="581.80" x2="160.10" y2="581.80" stroke="#f07022" stroke-width="1.5"/>
<circle cx="158.10" cy="578.68" r="1.3" fill="#f07022"/>
<line x1="172.51" y1="571.41" x2="172.51" y2="585.95" stroke="#f07022" stroke-width="1.6"/>
<line x1="170.51" y1="571.41" x2="174.51" y2="571.41" stroke="#f07022" stroke-width="1.5"/>
<line x1="170.51" y1="585.95" x2="174.51" y2="585.95" stroke="#f07022" stroke-width="1.5"/>
<circle cx="172.51" cy="578.68" r="1.3" fill="#f07022"/>
<line x1="186.92" y1="569.33" x2="186.92" y2="580.41" stroke="#f07022" stroke-width="1.6"/>
<line x1="184.92" y1="569.33" x2="188.92" y2="569.33" stroke="#f07022" stroke-width="1.5"/>
<line x1="184.92" y1="580.41" x2="188.92" y2="580.41" stroke="#f07022" stroke-width="1.5"/>
<circle cx="186.92" cy="574.87" r="1.3" fill="#f07022"/>
<line x1="201.34" y1="576.72" x2="201.34" y2="588.26" stroke="#f07022" stroke-width="1.6"/>
<line x1="199.34" y1="576.72" x2="203.34" y2="576.72" stroke="#f07022" stroke-width="1.5"/>
<line x1="199.34" y1="588.26" x2="203.34" y2="588.26" stroke="#f07022" stroke-width="1.5"/>
<circle cx="201.34" cy="582.49" r="1.3" fill="#f07022"/>
<line x1="215.75" y1="577.53" x2="215.75" y2="586.53" stroke="#f07022" stroke-width="1.6"/>
<line x1="213.75" y1="577.53" x2="217.75" y2="577.53" stroke="#f07022" stroke-width="1.5"/>
<line x1="213.75" y1="586.53" x2="217.75" y2="586.53" stroke="#f07022" stroke-width="1.5"/>
<circle cx="215.75" cy="582.03" r="1.3" fill="#f07022"/>
<line x1="230.16" y1="580.99" x2="230.16" y2="586.53" stroke="#f07022" stroke-width="1.6"/>
<line x1="228.16" y1="580.99" x2="232.16" y2="580.99" stroke="#f07022" stroke-width="1.5"/>
<line x1="228.16" y1="586.53" x2="232.16" y2="586.53" stroke="#f07022" stroke-width="1.5"/>
<circle cx="230.16" cy="583.76" r="1.3" fill="#f07022"/>
<line x1="244.57" y1="611.58" x2="244.57" y2="618.27" stroke="#f07022" stroke-width="1.6"/>
<line x1="242.57" y1="611.58" x2="246.57" y2="611.58" stroke="#f07022" stroke-width="1.5"/>
<line x1="242.57" y1="618.27" x2="246.57" y2="618.27" stroke="#f07022" stroke-width="1.5"/>
<circle cx="244.57" cy="614.92" r="1.3" fill="#f07022"/>
<line x1="258.99" y1="613.89" x2="258.99" y2="634.66" stroke="#f07022" stroke-width="1.6"/>
<line x1="256.99" y1="613.89" x2="260.99" y2="613.89" stroke="#f07022" stroke-width="1.5"/>
<line x1="256.99" y1="634.66" x2="260.99" y2="634.66" stroke="#f07022" stroke-width="1.5"/>
<circle cx="258.99" cy="624.27" r="1.3" fill="#f07022"/>
<line x1="273.40" y1="621.16" x2="273.40" y2="638.47" stroke="#f07022" stroke-width="1.6"/>
<line x1="271.40" y1="621.16" x2="275.40" y2="621.16" stroke="#f07022" stroke-width="1.5"/>
<line x1="271.40" y1="638.47" x2="275.40" y2="638.47" stroke="#f07022" stroke-width="1.5"/>
<circle cx="273.40" cy="629.81" r="1.3" fill="#f07022"/>
<circle cx="172.51" cy="631.70" r="1.3" fill="#141414"/>
<circle cx="228.61" cy="638.30" r="1.3" fill="#141414"/>
<circle cx="231.71" cy="638.30" r="1.3" fill="#141414"/>
<circle cx="241.47" cy="647.20" r="1.3" fill="#141414"/>
<circle cx="244.57" cy="647.20" r="1.3" fill="#141414"/>
<circle cx="247.67" cy="647.20" r="1.3" fill="#141414"/>
<circle cx="255.89" cy="675.00" r="1.3" fill="#141414"/>
<circle cx="258.99" cy="675.00" r="1.3" fill="#141414"/>
<circle cx="262.09" cy="675.00" r="1.3" fill="#141414"/>
<circle cx="270.30" cy="657.70" r="1.3" fill="#141414"/>
<circle cx="273.40" cy="657.70" r="1.3" fill="#141414"/>
<circle cx="276.50" cy="657.70" r="1.3" fill="#141414"/>
<text x="244.57" y="603.70" font-size="7.8" text-anchor="middle" fill="#ef7a30" stroke="#ef7a30" stroke-width="0.3">$$$</text>
<text x="258.99" y="608.20" font-size="7.8" text-anchor="middle" fill="#ef7a30" stroke="#ef7a30" stroke-width="0.3">$$$</text>
<text x="273.40" y="617.10" font-size="7.8" text-anchor="middle" fill="#ef7a30" stroke="#ef7a30" stroke-width="0.3">$$$</text>
<line x1="280.3" y1="623.4" x2="280.3" y2="650.1" stroke="#555" stroke-width="1.1"/>
<line x1="277.5" y1="623.4" x2="283.1" y2="623.4" stroke="#555" stroke-width="1.1"/>
<line x1="277.5" y1="650.1" x2="283.1" y2="650.1" stroke="#555" stroke-width="1.1"/>
<text x="288.6" y="638.8" font-size="9.5" text-anchor="middle" fill="#333" stroke="#333" stroke-width="0.3">##</text>
<line x1="338.40" y1="556.10" x2="338.40" y2="692.00" stroke="#4a4a4a" stroke-width="1"/>
<line x1="335.20" y1="556.10" x2="338.40" y2="556.10" stroke="#4a4a4a" stroke-width="1"/>
<text x="333.90" y="559.00" font-size="8.4" text-anchor="end" fill="#222" stroke="#222" stroke-width="0.28">0.02</text>
<line x1="335.20" y1="578.75" x2="338.40" y2="578.75" stroke="#4a4a4a" stroke-width="1"/>
<text x="333.90" y="581.65" font-size="8.4" text-anchor="end" fill="#222" stroke="#222" stroke-width="0.28">0.00</text>
<line x1="335.20" y1="601.40" x2="338.40" y2="601.40" stroke="#4a4a4a" stroke-width="1"/>
<text x="333.90" y="604.30" font-size="8.4" text-anchor="end" fill="#222" stroke="#222" stroke-width="0.28">-0.02</text>
<line x1="335.20" y1="624.05" x2="338.40" y2="624.05" stroke="#4a4a4a" stroke-width="1"/>
<text x="333.90" y="626.95" font-size="8.4" text-anchor="end" fill="#222" stroke="#222" stroke-width="0.28">-0.04</text>
<line x1="335.20" y1="646.70" x2="338.40" y2="646.70" stroke="#4a4a4a" stroke-width="1"/>
<text x="333.90" y="649.60" font-size="8.4" text-anchor="end" fill="#222" stroke="#222" stroke-width="0.28">-0.06</text>
<line x1="335.20" y1="669.35" x2="338.40" y2="669.35" stroke="#4a4a4a" stroke-width="1"/>
<text x="333.90" y="672.25" font-size="8.4" text-anchor="end" fill="#222" stroke="#222" stroke-width="0.28">-0.08</text>
<line x1="335.20" y1="692.00" x2="338.40" y2="692.00" stroke="#4a4a4a" stroke-width="1"/>
<text x="333.90" y="694.90" font-size="8.4" text-anchor="end" fill="#222" stroke="#222" stroke-width="0.28">-0.10</text>
<line x1="338.40" y1="578.75" x2="469.20" y2="578.75" stroke="#4a4a4a" stroke-width="1"/>
<line x1="352.50" y1="575.75" x2="352.50" y2="578.75" stroke="#4a4a4a" stroke-width="1"/>
<text x="352.70" y="553.50" font-size="8.4" text-anchor="middle" fill="#222" stroke="#222" stroke-width="0.28">-13</text>
<line x1="367.02" y1="575.75" x2="367.02" y2="578.75" stroke="#4a4a4a" stroke-width="1"/>
<text x="367.22" y="553.50" font-size="8.4" text-anchor="middle" fill="#222" stroke="#222" stroke-width="0.28">-12</text>
<line x1="381.55" y1="575.75" x2="381.55" y2="578.75" stroke="#4a4a4a" stroke-width="1"/>
<text x="381.75" y="553.50" font-size="8.4" text-anchor="middle" fill="#222" stroke="#222" stroke-width="0.28">-11</text>
<line x1="396.07" y1="575.75" x2="396.07" y2="578.75" stroke="#4a4a4a" stroke-width="1"/>
<text x="396.27" y="553.50" font-size="8.4" text-anchor="middle" fill="#222" stroke="#222" stroke-width="0.28">-10</text>
<line x1="410.60" y1="575.75" x2="410.60" y2="578.75" stroke="#4a4a4a" stroke-width="1"/>
<text x="410.80" y="553.50" font-size="8.4" text-anchor="middle" fill="#222" stroke="#222" stroke-width="0.28">-9</text>
<line x1="425.12" y1="575.75" x2="425.12" y2="578.75" stroke="#4a4a4a" stroke-width="1"/>
<text x="425.32" y="553.50" font-size="8.4" text-anchor="middle" fill="#222" stroke="#222" stroke-width="0.28">-8</text>
<line x1="439.65" y1="575.75" x2="439.65" y2="578.75" stroke="#4a4a4a" stroke-width="1"/>
<text x="439.85" y="553.50" font-size="8.4" text-anchor="middle" fill="#222" stroke="#222" stroke-width="0.28">-7</text>
<line x1="454.17" y1="575.75" x2="454.17" y2="578.75" stroke="#4a4a4a" stroke-width="1"/>
<text x="454.37" y="553.50" font-size="8.4" text-anchor="middle" fill="#222" stroke="#222" stroke-width="0.28">-6</text>
<line x1="468.70" y1="575.75" x2="468.70" y2="578.75" stroke="#4a4a4a" stroke-width="1"/>
<text x="468.90" y="553.50" font-size="8.4" text-anchor="middle" fill="#222" stroke="#222" stroke-width="0.28">-5</text>
<text transform="translate(308.10,624.05) rotate(-90)" font-size="9.7" text-anchor="middle" fill="#222" stroke="#222" stroke-width="0.25">NE-modulated BRET</text>
<polyline points="352.50,585.43 353.95,585.43 355.40,585.43 356.86,585.43 358.31,585.43 359.76,585.43 361.21,585.43 362.67,585.43 364.12,585.43 365.57,585.43 367.02,585.43 368.48,585.43 369.93,585.43 371.38,585.43 372.83,585.43 374.29,585.43 375.74,585.43 377.19,585.43 378.64,585.43 380.10,585.43 381.55,585.43 383.00,585.43 384.45,585.43 385.91,585.43 387.36,585.43 388.81,585.43 390.26,585.43 391.72,585.43 393.17,585.43 394.62,585.44 396.07,585.44 397.53,585.44 398.98,585.44 400.43,585.44 401.88,585.45 403.34,585.46 404.79,585.46 406.24,585.47 407.69,585.49 409.15,585.51 410.60,585.54 412.05,585.57 413.50,585.62 414.96,585.69 416.41,585.78 417.86,585.90 419.31,586.06 420.77,586.28 422.22,586.57 423.67,586.96 425.12,587.48 426.58,588.17 428.03,589.07 429.48,590.27 430.94,591.81 432.39,593.79 433.84,596.30 435.29,599.39 436.75,603.14 438.20,607.53 439.65,612.50 441.10,617.93 442.56,623.60 444.01,629.27 445.46,634.69 446.91,639.67 448.37,644.06 449.82,647.80 451.27,650.90 452.72,653.40 454.17,655.38 455.63,656.93 457.08,658.12 458.53,659.03 459.99,659.72 461.44,660.23 462.89,660.62 464.34,660.92 465.79,661.13 467.25,661.29 468.70,661.41" fill="none" stroke="#141414" stroke-width="2.1"/>
<polyline points="352.50,594.94 353.95,594.94 355.40,594.94 356.86,594.95 358.31,594.95 359.76,594.95 361.21,594.95 362.67,594.95 364.12,594.95 365.57,594.95 367.02,594.95 368.48,594.95 369.93,594.95 371.38,594.95 372.83,594.95 374.29,594.95 375.74,594.95 377.19,594.95 378.64,594.95 380.10,594.96 381.55,594.96 383.00,594.96 384.45,594.97 385.91,594.97 387.36,594.98 388.81,594.99 390.26,595.00 391.72,595.02 393.17,595.03 394.62,595.06 396.07,595.09 397.53,595.12 398.98,595.17 400.43,595.23 401.88,595.30 403.34,595.39 404.79,595.51 406.24,595.65 407.69,595.83 409.15,596.05 410.60,596.34 412.05,596.68 413.50,597.12 414.96,597.65 416.41,598.31 417.86,599.12 419.31,600.10 420.77,601.29 422.22,602.71 423.67,604.38 425.12,606.34 426.58,608.58 428.03,611.10 429.48,613.89 430.94,616.89 432.39,620.06 433.84,623.31 435.29,626.57 436.75,629.73 438.20,632.74 439.65,635.53 441.10,638.05 442.56,640.29 444.01,642.25 445.46,643.92 446.91,645.34 448.37,646.52 449.82,647.51 451.27,648.32 452.72,648.98 454.17,649.51 455.63,649.94 457.08,650.29 458.53,650.57 459.99,650.80 461.44,650.98 462.89,651.12 464.34,651.24 465.79,651.33 467.25,651.40 468.70,651.46" fill="none" stroke="#f07022" stroke-width="1.8"/>
<line x1="352.50" y1="559.61" x2="352.50" y2="567.99" stroke="#141414" stroke-width="1.6"/>
<line x1="350.50" y1="559.61" x2="354.50" y2="559.61" stroke="#141414" stroke-width="1.5"/>
<line x1="350.50" y1="567.99" x2="354.50" y2="567.99" stroke="#141414" stroke-width="1.5"/>
<circle cx="352.50" cy="563.80" r="1.3" fill="#141414"/>
<line x1="367.02" y1="581.69" x2="367.02" y2="606.16" stroke="#141414" stroke-width="1.6"/>
<line x1="365.02" y1="581.69" x2="369.02" y2="581.69" stroke="#141414" stroke-width="1.5"/>
<line x1="365.02" y1="606.16" x2="369.02" y2="606.16" stroke="#141414" stroke-width="1.5"/>
<circle cx="367.02" cy="593.93" r="1.3" fill="#141414"/>
<line x1="381.55" y1="569.01" x2="381.55" y2="581.01" stroke="#141414" stroke-width="1.6"/>
<line x1="379.55" y1="569.01" x2="383.55" y2="569.01" stroke="#141414" stroke-width="1.5"/>
<line x1="379.55" y1="581.01" x2="383.55" y2="581.01" stroke="#141414" stroke-width="1.5"/>
<circle cx="381.55" cy="575.01" r="1.3" fill="#141414"/>
<line x1="396.07" y1="586.00" x2="396.07" y2="592.79" stroke="#141414" stroke-width="1.6"/>
<line x1="394.07" y1="586.00" x2="398.07" y2="586.00" stroke="#141414" stroke-width="1.5"/>
<line x1="394.07" y1="592.79" x2="398.07" y2="592.79" stroke="#141414" stroke-width="1.5"/>
<circle cx="396.07" cy="589.40" r="1.3" fill="#141414"/>
<line x1="410.60" y1="587.92" x2="410.60" y2="606.50" stroke="#141414" stroke-width="1.6"/>
<line x1="408.60" y1="587.92" x2="412.60" y2="587.92" stroke="#141414" stroke-width="1.5"/>
<line x1="408.60" y1="606.50" x2="412.60" y2="606.50" stroke="#141414" stroke-width="1.5"/>
<circle cx="410.60" cy="597.21" r="1.3" fill="#141414"/>
<line x1="425.12" y1="585.43" x2="425.12" y2="595.62" stroke="#141414" stroke-width="1.6"/>
<line x1="423.12" y1="585.43" x2="427.12" y2="585.43" stroke="#141414" stroke-width="1.5"/>
<line x1="423.12" y1="595.62" x2="427.12" y2="595.62" stroke="#141414" stroke-width="1.5"/>
<circle cx="425.12" cy="590.53" r="1.3" fill="#141414"/>
<line x1="439.65" y1="603.33" x2="439.65" y2="615.56" stroke="#141414" stroke-width="1.6"/>
<line x1="437.65" y1="603.33" x2="441.65" y2="603.33" stroke="#141414" stroke-width="1.5"/>
<line x1="437.65" y1="615.56" x2="441.65" y2="615.56" stroke="#141414" stroke-width="1.5"/>
<circle cx="439.65" cy="609.44" r="1.3" fill="#141414"/>
<line x1="454.17" y1="634.81" x2="454.17" y2="668.78" stroke="#141414" stroke-width="1.6"/>
<line x1="452.17" y1="634.81" x2="456.17" y2="634.81" stroke="#141414" stroke-width="1.5"/>
<line x1="452.17" y1="668.78" x2="456.17" y2="668.78" stroke="#141414" stroke-width="1.5"/>
<circle cx="454.17" cy="651.80" r="1.3" fill="#141414"/>
<line x1="468.70" y1="652.36" x2="468.70" y2="665.95" stroke="#141414" stroke-width="1.6"/>
<line x1="466.70" y1="652.36" x2="470.70" y2="652.36" stroke="#141414" stroke-width="1.5"/>
<line x1="466.70" y1="665.95" x2="470.70" y2="665.95" stroke="#141414" stroke-width="1.5"/>
<circle cx="468.70" cy="659.16" r="1.3" fill="#141414"/>
<line x1="352.50" y1="579.43" x2="352.50" y2="590.53" stroke="#f07022" stroke-width="1.6"/>
<line x1="350.50" y1="579.43" x2="354.50" y2="579.43" stroke="#f07022" stroke-width="1.5"/>
<line x1="350.50" y1="590.53" x2="354.50" y2="590.53" stroke="#f07022" stroke-width="1.5"/>
<circle cx="352.50" cy="584.98" r="1.3" fill="#f07022"/>
<line x1="367.02" y1="580.45" x2="367.02" y2="589.51" stroke="#f07022" stroke-width="1.6"/>
<line x1="365.02" y1="580.45" x2="369.02" y2="580.45" stroke="#f07022" stroke-width="1.5"/>
<line x1="365.02" y1="589.51" x2="369.02" y2="589.51" stroke="#f07022" stroke-width="1.5"/>
<circle cx="367.02" cy="584.98" r="1.3" fill="#f07022"/>
<line x1="381.55" y1="579.43" x2="381.55" y2="601.63" stroke="#f07022" stroke-width="1.6"/>
<line x1="379.55" y1="579.43" x2="383.55" y2="579.43" stroke="#f07022" stroke-width="1.5"/>
<line x1="379.55" y1="601.63" x2="383.55" y2="601.63" stroke="#f07022" stroke-width="1.5"/>
<circle cx="381.55" cy="590.53" r="1.3" fill="#f07022"/>
<line x1="396.07" y1="592.79" x2="396.07" y2="606.16" stroke="#f07022" stroke-width="1.6"/>
<line x1="394.07" y1="592.79" x2="398.07" y2="592.79" stroke="#f07022" stroke-width="1.5"/>
<line x1="394.07" y1="606.16" x2="398.07" y2="606.16" stroke="#f07022" stroke-width="1.5"/>
<circle cx="396.07" cy="599.47" r="1.3" fill="#f07022"/>
<line x1="410.60" y1="606.04" x2="410.60" y2="623.94" stroke="#f07022" stroke-width="1.6"/>
<line x1="408.60" y1="606.04" x2="412.60" y2="606.04" stroke="#f07022" stroke-width="1.5"/>
<line x1="408.60" y1="623.94" x2="412.60" y2="623.94" stroke="#f07022" stroke-width="1.5"/>
<circle cx="410.60" cy="614.99" r="1.3" fill="#f07022"/>
<line x1="425.12" y1="592.79" x2="425.12" y2="617.25" stroke="#f07022" stroke-width="1.6"/>
<line x1="423.12" y1="592.79" x2="427.12" y2="592.79" stroke="#f07022" stroke-width="1.5"/>
<line x1="423.12" y1="617.25" x2="427.12" y2="617.25" stroke="#f07022" stroke-width="1.5"/>
<circle cx="425.12" cy="605.02" r="1.3" fill="#f07022"/>
<line x1="439.65" y1="614.99" x2="439.65" y2="637.19" stroke="#f07022" stroke-width="1.6"/>
<line x1="437.65" y1="614.99" x2="441.65" y2="614.99" stroke="#f07022" stroke-width="1.5"/>
<line x1="437.65" y1="637.19" x2="441.65" y2="637.19" stroke="#f07022" stroke-width="1.5"/>
<circle cx="439.65" cy="626.09" r="1.3" fill="#f07022"/>
<line x1="454.17" y1="638.77" x2="454.17" y2="668.22" stroke="#f07022" stroke-width="1.6"/>
<line x1="452.17" y1="638.77" x2="456.17" y2="638.77" stroke="#f07022" stroke-width="1.5"/>
<line x1="452.17" y1="668.22" x2="456.17" y2="668.22" stroke="#f07022" stroke-width="1.5"/>
<circle cx="454.17" cy="653.50" r="1.3" fill="#f07022"/>
<line x1="468.70" y1="631.98" x2="468.70" y2="670.48" stroke="#f07022" stroke-width="1.6"/>
<line x1="466.70" y1="631.98" x2="470.70" y2="631.98" stroke="#f07022" stroke-width="1.5"/>
<line x1="466.70" y1="670.48" x2="470.70" y2="670.48" stroke="#f07022" stroke-width="1.5"/>
<circle cx="468.70" cy="651.23" r="1.3" fill="#f07022"/>
<circle cx="439.65" cy="596.10" r="1.3" fill="#141414"/>
<circle cx="451.07" cy="630.60" r="1.3" fill="#141414"/>
<circle cx="454.17" cy="630.60" r="1.3" fill="#141414"/>
<circle cx="457.27" cy="630.60" r="1.3" fill="#141414"/>
<circle cx="465.60" cy="626.60" r="1.3" fill="#141414"/>
<circle cx="468.70" cy="626.60" r="1.3" fill="#141414"/>
<circle cx="471.80" cy="626.60" r="1.3" fill="#141414"/>
<text x="410.60" y="631.90" font-size="7.8" text-anchor="middle" fill="#ef7a30" stroke="#ef7a30" stroke-width="0.3">$</text>
<text x="439.65" y="649.10" font-size="7.8" text-anchor="middle" fill="#ef7a30" stroke="#ef7a30" stroke-width="0.3">$$$</text>
<text x="454.17" y="678.30" font-size="7.8" text-anchor="middle" fill="#ef7a30" stroke="#ef7a30" stroke-width="0.3">$$$</text>
<text x="468.70" y="679.80" font-size="7.8" text-anchor="middle" fill="#ef7a30" stroke="#ef7a30" stroke-width="0.3">$$$</text>
<line x1="540.40" y1="553.70" x2="540.40" y2="692.40" stroke="#4a4a4a" stroke-width="1"/>
<line x1="537.20" y1="553.70" x2="540.40" y2="553.70" stroke="#4a4a4a" stroke-width="1"/>
<text x="535.90" y="556.60" font-size="8.4" text-anchor="end" fill="#222" stroke="#222" stroke-width="0.28">0.02</text>
<line x1="537.20" y1="571.04" x2="540.40" y2="571.04" stroke="#4a4a4a" stroke-width="1"/>
<text x="535.90" y="573.94" font-size="8.4" text-anchor="end" fill="#222" stroke="#222" stroke-width="0.28">-0.00</text>
<line x1="537.20" y1="588.38" x2="540.40" y2="588.38" stroke="#4a4a4a" stroke-width="1"/>
<text x="535.90" y="591.27" font-size="8.4" text-anchor="end" fill="#222" stroke="#222" stroke-width="0.28">-0.02</text>
<line x1="537.20" y1="605.71" x2="540.40" y2="605.71" stroke="#4a4a4a" stroke-width="1"/>
<text x="535.90" y="608.61" font-size="8.4" text-anchor="end" fill="#222" stroke="#222" stroke-width="0.28">-0.04</text>
<line x1="537.20" y1="623.05" x2="540.40" y2="623.05" stroke="#4a4a4a" stroke-width="1"/>
<text x="535.90" y="625.95" font-size="8.4" text-anchor="end" fill="#222" stroke="#222" stroke-width="0.28">-0.06</text>
<line x1="537.20" y1="640.39" x2="540.40" y2="640.39" stroke="#4a4a4a" stroke-width="1"/>
<text x="535.90" y="643.29" font-size="8.4" text-anchor="end" fill="#222" stroke="#222" stroke-width="0.28">-0.08</text>
<line x1="537.20" y1="657.73" x2="540.40" y2="657.73" stroke="#4a4a4a" stroke-width="1"/>
<text x="535.90" y="660.62" font-size="8.4" text-anchor="end" fill="#222" stroke="#222" stroke-width="0.28">-0.10</text>
<line x1="537.20" y1="675.06" x2="540.40" y2="675.06" stroke="#4a4a4a" stroke-width="1"/>
<text x="535.90" y="677.96" font-size="8.4" text-anchor="end" fill="#222" stroke="#222" stroke-width="0.28">-0.12</text>
<line x1="537.20" y1="692.40" x2="540.40" y2="692.40" stroke="#4a4a4a" stroke-width="1"/>
<text x="535.90" y="695.30" font-size="8.4" text-anchor="end" fill="#222" stroke="#222" stroke-width="0.28">-0.14</text>
<line x1="540.40" y1="571.04" x2="668.90" y2="571.04" stroke="#4a4a4a" stroke-width="1"/>
<line x1="554.40" y1="568.04" x2="554.40" y2="571.04" stroke="#4a4a4a" stroke-width="1"/>
<text x="554.60" y="553.30" font-size="8.4" text-anchor="middle" fill="#222" stroke="#222" stroke-width="0.28">-13</text>
<line x1="568.65" y1="568.04" x2="568.65" y2="571.04" stroke="#4a4a4a" stroke-width="1"/>
<text x="568.85" y="553.30" font-size="8.4" text-anchor="middle" fill="#222" stroke="#222" stroke-width="0.28">-12</text>
<line x1="582.90" y1="568.04" x2="582.90" y2="571.04" stroke="#4a4a4a" stroke-width="1"/>
<text x="583.10" y="553.30" font-size="8.4" text-anchor="middle" fill="#222" stroke="#222" stroke-width="0.28">-11</text>
<line x1="597.15" y1="568.04" x2="597.15" y2="571.04" stroke="#4a4a4a" stroke-width="1"/>
<text x="597.35" y="553.30" font-size="8.4" text-anchor="middle" fill="#222" stroke="#222" stroke-width="0.28">-10</text>
<line x1="611.40" y1="568.04" x2="611.40" y2="571.04" stroke="#4a4a4a" stroke-width="1"/>
<text x="611.60" y="553.30" font-size="8.4" text-anchor="middle" fill="#222" stroke="#222" stroke-width="0.28">-9</text>
<line x1="625.65" y1="568.04" x2="625.65" y2="571.04" stroke="#4a4a4a" stroke-width="1"/>
<text x="625.85" y="553.30" font-size="8.4" text-anchor="middle" fill="#222" stroke="#222" stroke-width="0.28">-8</text>
<line x1="639.90" y1="568.04" x2="639.90" y2="571.04" stroke="#4a4a4a" stroke-width="1"/>
<text x="640.10" y="553.30" font-size="8.4" text-anchor="middle" fill="#222" stroke="#222" stroke-width="0.28">-7</text>
<line x1="654.15" y1="568.04" x2="654.15" y2="571.04" stroke="#4a4a4a" stroke-width="1"/>
<text x="654.35" y="553.30" font-size="8.4" text-anchor="middle" fill="#222" stroke="#222" stroke-width="0.28">-6</text>
<line x1="668.40" y1="568.04" x2="668.40" y2="571.04" stroke="#4a4a4a" stroke-width="1"/>
<text x="668.60" y="553.30" font-size="8.4" text-anchor="middle" fill="#222" stroke="#222" stroke-width="0.28">-5</text>
<text transform="translate(510.10,623.05) rotate(-90)" font-size="9.7" text-anchor="middle" fill="#222" stroke="#222" stroke-width="0.25">EPI-modulated BRET</text>
<polyline points="554.40,601.38 555.82,601.38 557.25,601.38 558.67,601.38 560.10,601.38 561.52,601.38 562.95,601.38 564.38,601.38 565.80,601.38 567.23,601.38 568.65,601.38 570.07,601.38 571.50,601.38 572.92,601.38 574.35,601.38 575.77,601.38 577.20,601.38 578.62,601.38 580.05,601.38 581.48,601.38 582.90,601.38 584.32,601.38 585.75,601.39 587.17,601.39 588.60,601.39 590.02,601.39 591.45,601.40 592.88,601.40 594.30,601.41 595.73,601.42 597.15,601.43 598.57,601.44 600.00,601.45 601.42,601.47 602.85,601.50 604.27,601.53 605.70,601.57 607.12,601.62 608.55,601.68 609.98,601.75 611.40,601.85 612.82,601.97 614.25,602.12 615.67,602.31 617.10,602.55 618.52,602.84 619.95,603.21 621.38,603.66 622.80,604.22 624.23,604.91 625.65,605.75 627.07,606.77 628.50,607.99 629.92,609.44 631.35,611.15 632.77,613.12 634.20,615.36 635.62,617.87 637.05,620.60 638.48,623.51 639.90,626.54 641.32,629.61 642.75,632.64 644.17,635.56 645.60,638.29 647.02,640.79 648.45,643.04 649.88,645.01 651.30,646.72 652.73,648.17 654.15,649.39 655.57,650.41 657.00,651.25 658.42,651.93 659.85,652.49 661.27,652.95 662.70,653.31 664.12,653.61 665.55,653.84 666.98,654.03 668.40,654.19" fill="none" stroke="#141414" stroke-width="2.1"/>
<polyline points="554.40,578.49 555.82,578.49 557.25,578.49 558.67,578.49 560.10,578.49 561.52,578.49 562.95,578.49 564.38,578.49 565.80,578.49 567.23,578.49 568.65,578.49 570.07,578.49 571.50,578.49 572.92,578.49 574.35,578.49 575.77,578.49 577.20,578.50 578.62,578.50 580.05,578.50 581.48,578.50 582.90,578.50 584.32,578.50 585.75,578.50 587.17,578.51 588.60,578.51 590.02,578.52 591.45,578.52 592.88,578.53 594.30,578.54 595.73,578.55 597.15,578.57 598.57,578.59 600.00,578.61 601.42,578.64 602.85,578.68 604.27,578.73 605.70,578.79 607.12,578.86 608.55,578.95 609.98,579.07 611.40,579.22 612.82,579.40 614.25,579.64 615.67,579.92 617.10,580.28 618.52,580.72 619.95,581.26 621.38,581.92 622.80,582.73 624.23,583.71 625.65,584.87 627.07,586.25 628.50,587.86 629.92,589.70 631.35,591.77 632.77,594.06 634.20,596.54 635.62,599.14 637.05,601.81 638.48,604.48 639.90,607.09 641.32,609.56 642.75,611.85 644.17,613.93 645.60,615.77 647.02,617.37 648.45,618.75 649.88,619.92 651.30,620.89 652.73,621.70 654.15,622.36 655.57,622.90 657.00,623.34 658.42,623.70 659.85,623.99 661.27,624.22 662.70,624.40 664.12,624.55 665.55,624.67 666.98,624.76 668.40,624.84" fill="none" stroke="#f07022" stroke-width="1.8"/>
<line x1="554.40" y1="577.45" x2="554.40" y2="583.69" stroke="#141414" stroke-width="1.6"/>
<line x1="552.40" y1="577.45" x2="556.40" y2="577.45" stroke="#141414" stroke-width="1.5"/>
<line x1="552.40" y1="583.69" x2="556.40" y2="583.69" stroke="#141414" stroke-width="1.5"/>
<circle cx="554.40" cy="580.57" r="1.3" fill="#141414"/>
<line x1="568.65" y1="580.57" x2="568.65" y2="604.85" stroke="#141414" stroke-width="1.6"/>
<line x1="566.65" y1="580.57" x2="570.65" y2="580.57" stroke="#141414" stroke-width="1.5"/>
<line x1="566.65" y1="604.85" x2="570.65" y2="604.85" stroke="#141414" stroke-width="1.5"/>
<circle cx="568.65" cy="592.71" r="1.3" fill="#141414"/>
<line x1="582.90" y1="605.28" x2="582.90" y2="613.08" stroke="#141414" stroke-width="1.6"/>
<line x1="580.90" y1="605.28" x2="584.90" y2="605.28" stroke="#141414" stroke-width="1.5"/>
<line x1="580.90" y1="613.08" x2="584.90" y2="613.08" stroke="#141414" stroke-width="1.5"/>
<circle cx="582.90" cy="609.18" r="1.3" fill="#141414"/>
<line x1="597.15" y1="592.10" x2="597.15" y2="607.36" stroke="#141414" stroke-width="1.6"/>
<line x1="595.15" y1="592.10" x2="599.15" y2="592.10" stroke="#141414" stroke-width="1.5"/>
<line x1="595.15" y1="607.36" x2="599.15" y2="607.36" stroke="#141414" stroke-width="1.5"/>
<circle cx="597.15" cy="599.73" r="1.3" fill="#141414"/>
<line x1="611.40" y1="613.69" x2="611.40" y2="622.36" stroke="#141414" stroke-width="1.6"/>
<line x1="609.40" y1="613.69" x2="613.40" y2="613.69" stroke="#141414" stroke-width="1.5"/>
<line x1="609.40" y1="622.36" x2="613.40" y2="622.36" stroke="#141414" stroke-width="1.5"/>
<circle cx="611.40" cy="618.02" r="1.3" fill="#141414"/>
<line x1="625.65" y1="604.59" x2="625.65" y2="624.00" stroke="#141414" stroke-width="1.6"/>
<line x1="623.65" y1="604.59" x2="627.65" y2="604.59" stroke="#141414" stroke-width="1.5"/>
<line x1="623.65" y1="624.00" x2="627.65" y2="624.00" stroke="#141414" stroke-width="1.5"/>
<circle cx="625.65" cy="614.29" r="1.3" fill="#141414"/>
<line x1="639.90" y1="610.39" x2="639.90" y2="638.13" stroke="#141414" stroke-width="1.6"/>
<line x1="637.90" y1="610.39" x2="641.90" y2="610.39" stroke="#141414" stroke-width="1.5"/>
<line x1="637.90" y1="638.13" x2="641.90" y2="638.13" stroke="#141414" stroke-width="1.5"/>
<circle cx="639.90" cy="624.26" r="1.3" fill="#141414"/>
<line x1="654.15" y1="624.09" x2="654.15" y2="658.42" stroke="#141414" stroke-width="1.6"/>
<line x1="652.15" y1="624.09" x2="656.15" y2="624.09" stroke="#141414" stroke-width="1.5"/>
<line x1="652.15" y1="658.42" x2="656.15" y2="658.42" stroke="#141414" stroke-width="1.5"/>
<circle cx="654.15" cy="641.25" r="1.3" fill="#141414"/>
<line x1="668.40" y1="642.81" x2="668.40" y2="675.06" stroke="#141414" stroke-width="1.6"/>
<line x1="666.40" y1="642.81" x2="670.40" y2="642.81" stroke="#141414" stroke-width="1.5"/>
<line x1="666.40" y1="675.06" x2="670.40" y2="675.06" stroke="#141414" stroke-width="1.5"/>
<circle cx="668.40" cy="658.94" r="1.3" fill="#141414"/>
<line x1="554.40" y1="560.20" x2="554.40" y2="570.60" stroke="#f07022" stroke-width="1.6"/>
<line x1="552.40" y1="560.20" x2="556.40" y2="560.20" stroke="#f07022" stroke-width="1.5"/>
<line x1="552.40" y1="570.60" x2="556.40" y2="570.60" stroke="#f07022" stroke-width="1.5"/>
<circle cx="554.40" cy="565.40" r="1.3" fill="#f07022"/>
<line x1="568.65" y1="579.10" x2="568.65" y2="589.16" stroke="#f07022" stroke-width="1.6"/>
<line x1="566.65" y1="579.10" x2="570.65" y2="579.10" stroke="#f07022" stroke-width="1.5"/>
<line x1="566.65" y1="589.16" x2="570.65" y2="589.16" stroke="#f07022" stroke-width="1.5"/>
<circle cx="568.65" cy="584.13" r="1.3" fill="#f07022"/>
<line x1="582.90" y1="565.58" x2="582.90" y2="575.63" stroke="#f07022" stroke-width="1.6"/>
<line x1="580.90" y1="565.58" x2="584.90" y2="565.58" stroke="#f07022" stroke-width="1.5"/>
<line x1="580.90" y1="575.63" x2="584.90" y2="575.63" stroke="#f07022" stroke-width="1.5"/>
<circle cx="582.90" cy="570.60" r="1.3" fill="#f07022"/>
<line x1="597.15" y1="570.60" x2="597.15" y2="578.93" stroke="#f07022" stroke-width="1.6"/>
<line x1="595.15" y1="570.60" x2="599.15" y2="570.60" stroke="#f07022" stroke-width="1.5"/>
<line x1="595.15" y1="578.93" x2="599.15" y2="578.93" stroke="#f07022" stroke-width="1.5"/>
<circle cx="597.15" cy="574.77" r="1.3" fill="#f07022"/>
<line x1="611.40" y1="589.76" x2="611.40" y2="605.54" stroke="#f07022" stroke-width="1.6"/>
<line x1="609.40" y1="589.76" x2="613.40" y2="589.76" stroke="#f07022" stroke-width="1.5"/>
<line x1="609.40" y1="605.54" x2="613.40" y2="605.54" stroke="#f07022" stroke-width="1.5"/>
<circle cx="611.40" cy="597.65" r="1.3" fill="#f07022"/>
<line x1="625.65" y1="582.91" x2="625.65" y2="595.74" stroke="#f07022" stroke-width="1.6"/>
<line x1="623.65" y1="582.91" x2="627.65" y2="582.91" stroke="#f07022" stroke-width="1.5"/>
<line x1="623.65" y1="595.74" x2="627.65" y2="595.74" stroke="#f07022" stroke-width="1.5"/>
<circle cx="625.65" cy="589.33" r="1.3" fill="#f07022"/>
<line x1="639.90" y1="598.86" x2="639.90" y2="621.40" stroke="#f07022" stroke-width="1.6"/>
<line x1="637.90" y1="598.86" x2="641.90" y2="598.86" stroke="#f07022" stroke-width="1.5"/>
<line x1="637.90" y1="621.40" x2="641.90" y2="621.40" stroke="#f07022" stroke-width="1.5"/>
<circle cx="639.90" cy="610.13" r="1.3" fill="#f07022"/>
<line x1="654.15" y1="611.69" x2="654.15" y2="625.22" stroke="#f07022" stroke-width="1.6"/>
<line x1="652.15" y1="611.69" x2="656.15" y2="611.69" stroke="#f07022" stroke-width="1.5"/>
<line x1="652.15" y1="625.22" x2="656.15" y2="625.22" stroke="#f07022" stroke-width="1.5"/>
<circle cx="654.15" cy="618.46" r="1.3" fill="#f07022"/>
<line x1="668.40" y1="624.18" x2="668.40" y2="633.54" stroke="#f07022" stroke-width="1.6"/>
<line x1="666.40" y1="624.18" x2="670.40" y2="624.18" stroke="#f07022" stroke-width="1.5"/>
<line x1="666.40" y1="633.54" x2="670.40" y2="633.54" stroke="#f07022" stroke-width="1.5"/>
<circle cx="668.40" cy="628.86" r="1.3" fill="#f07022"/>
<circle cx="582.90" cy="619.50" r="1.3" fill="#141414"/>
<circle cx="609.85" cy="629.30" r="1.3" fill="#141414"/>
<circle cx="612.95" cy="629.30" r="1.3" fill="#141414"/>
<circle cx="624.10" cy="632.00" r="1.3" fill="#141414"/>
<circle cx="627.20" cy="632.00" r="1.3" fill="#141414"/>
<circle cx="636.80" cy="645.40" r="1.3" fill="#141414"/>
<circle cx="639.90" cy="645.40" r="1.3" fill="#141414"/>
<circle cx="643.00" cy="645.40" r="1.3" fill="#141414"/>
<circle cx="651.05" cy="666.20" r="1.3" fill="#141414"/>
<circle cx="654.15" cy="666.20" r="1.3" fill="#141414"/>
<circle cx="657.25" cy="666.20" r="1.3" fill="#141414"/>
<circle cx="665.30" cy="682.40" r="1.3" fill="#141414"/>
<circle cx="668.40" cy="682.40" r="1.3" fill="#141414"/>
<circle cx="671.50" cy="682.40" r="1.3" fill="#141414"/>
<text x="611.40" y="586.70" font-size="7.8" text-anchor="middle" fill="#ef7a30" stroke="#ef7a30" stroke-width="0.3">$</text>
<text x="639.90" y="593.00" font-size="7.8" text-anchor="middle" fill="#ef7a30" stroke="#ef7a30" stroke-width="0.3">$$$</text>
<text x="654.15" y="607.50" font-size="7.8" text-anchor="middle" fill="#ef7a30" stroke="#ef7a30" stroke-width="0.3">$$$</text>
<text x="668.40" y="621.00" font-size="7.8" text-anchor="middle" fill="#ef7a30" stroke="#ef7a30" stroke-width="0.3">$$$</text>
<line x1="145.10" y1="752.10" x2="145.10" y2="890.40" stroke="#4a4a4a" stroke-width="1"/>
<line x1="141.90" y1="752.10" x2="145.10" y2="752.10" stroke="#4a4a4a" stroke-width="1"/>
<text x="140.60" y="755.00" font-size="8.4" text-anchor="end" fill="#222" stroke="#222" stroke-width="0.28">0.02</text>
<line x1="141.90" y1="775.15" x2="145.10" y2="775.15" stroke="#4a4a4a" stroke-width="1"/>
<text x="140.60" y="778.05" font-size="8.4" text-anchor="end" fill="#222" stroke="#222" stroke-width="0.28">0.00</text>
<line x1="141.90" y1="798.20" x2="145.10" y2="798.20" stroke="#4a4a4a" stroke-width="1"/>
<text x="140.60" y="801.10" font-size="8.4" text-anchor="end" fill="#222" stroke="#222" stroke-width="0.28">-0.02</text>
<line x1="141.90" y1="821.25" x2="145.10" y2="821.25" stroke="#4a4a4a" stroke-width="1"/>
<text x="140.60" y="824.15" font-size="8.4" text-anchor="end" fill="#222" stroke="#222" stroke-width="0.28">-0.04</text>
<line x1="141.90" y1="844.30" x2="145.10" y2="844.30" stroke="#4a4a4a" stroke-width="1"/>
<text x="140.60" y="847.20" font-size="8.4" text-anchor="end" fill="#222" stroke="#222" stroke-width="0.28">-0.06</text>
<line x1="141.90" y1="867.35" x2="145.10" y2="867.35" stroke="#4a4a4a" stroke-width="1"/>
<text x="140.60" y="870.25" font-size="8.4" text-anchor="end" fill="#222" stroke="#222" stroke-width="0.28">-0.08</text>
<line x1="141.90" y1="890.40" x2="145.10" y2="890.40" stroke="#4a4a4a" stroke-width="1"/>
<text x="140.60" y="893.30" font-size="8.4" text-anchor="end" fill="#222" stroke="#222" stroke-width="0.28">-0.10</text>
<line x1="145.10" y1="775.15" x2="278.50" y2="775.15" stroke="#4a4a4a" stroke-width="1"/>
<line x1="160.00" y1="772.15" x2="160.00" y2="775.15" stroke="#4a4a4a" stroke-width="1"/>
<text x="160.20" y="751.90" font-size="8.4" text-anchor="middle" fill="#222" stroke="#222" stroke-width="0.28">-13</text>
<line x1="174.75" y1="772.15" x2="174.75" y2="775.15" stroke="#4a4a4a" stroke-width="1"/>
<text x="174.95" y="751.90" font-size="8.4" text-anchor="middle" fill="#222" stroke="#222" stroke-width="0.28">-12</text>
<line x1="189.50" y1="772.15" x2="189.50" y2="775.15" stroke="#4a4a4a" stroke-width="1"/>
<text x="189.70" y="751.90" font-size="8.4" text-anchor="middle" fill="#222" stroke="#222" stroke-width="0.28">-11</text>
<line x1="204.25" y1="772.15" x2="204.25" y2="775.15" stroke="#4a4a4a" stroke-width="1"/>
<text x="204.45" y="751.90" font-size="8.4" text-anchor="middle" fill="#222" stroke="#222" stroke-width="0.28">-10</text>
<line x1="219.00" y1="772.15" x2="219.00" y2="775.15" stroke="#4a4a4a" stroke-width="1"/>
<text x="219.20" y="751.90" font-size="8.4" text-anchor="middle" fill="#222" stroke="#222" stroke-width="0.28">-9</text>
<line x1="233.75" y1="772.15" x2="233.75" y2="775.15" stroke="#4a4a4a" stroke-width="1"/>
<text x="233.95" y="751.90" font-size="8.4" text-anchor="middle" fill="#222" stroke="#222" stroke-width="0.28">-8</text>
<line x1="248.50" y1="772.15" x2="248.50" y2="775.15" stroke="#4a4a4a" stroke-width="1"/>
<text x="248.70" y="751.90" font-size="8.4" text-anchor="middle" fill="#222" stroke="#222" stroke-width="0.28">-7</text>
<line x1="263.25" y1="772.15" x2="263.25" y2="775.15" stroke="#4a4a4a" stroke-width="1"/>
<text x="263.45" y="751.90" font-size="8.4" text-anchor="middle" fill="#222" stroke="#222" stroke-width="0.28">-6</text>
<line x1="278.00" y1="772.15" x2="278.00" y2="775.15" stroke="#4a4a4a" stroke-width="1"/>
<text x="278.20" y="751.90" font-size="8.4" text-anchor="middle" fill="#222" stroke="#222" stroke-width="0.28">-5</text>
<text x="211.80" y="738.00" font-size="9.4" text-anchor="middle" fill="#222" stroke="#222" stroke-width="0.35">Log [ISO] (M)</text>
<text transform="translate(114.20,821.25) rotate(-90)" font-size="9.7" text-anchor="middle" fill="#222" stroke="#222" stroke-width="0.25">ISO-modulated BRET</text>
<polyline points="160.00,773.77 161.47,773.77 162.95,773.77 164.43,773.77 165.90,773.77 167.38,773.77 168.85,773.77 170.32,773.77 171.80,773.77 173.28,773.77 174.75,773.77 176.22,773.77 177.70,773.77 179.18,773.77 180.65,773.77 182.12,773.77 183.60,773.77 185.07,773.77 186.55,773.77 188.03,773.77 189.50,773.77 190.97,773.77 192.45,773.77 193.93,773.77 195.40,773.77 196.88,773.77 198.35,773.77 199.82,773.77 201.30,773.77 202.78,773.78 204.25,773.78 205.72,773.78 207.20,773.79 208.68,773.80 210.15,773.81 211.62,773.82 213.10,773.85 214.57,773.88 216.05,773.92 217.53,773.97 219.00,774.05 220.47,774.16 221.95,774.31 223.43,774.51 224.90,774.79 226.38,775.18 227.85,775.70 229.32,776.41 230.80,777.36 232.28,778.63 233.75,780.30 235.22,782.47 236.70,785.23 238.18,788.65 239.65,792.75 241.12,797.49 242.60,802.72 244.07,808.23 245.55,813.73 247.03,818.97 248.50,823.70 249.97,827.80 251.45,831.22 252.93,833.98 254.40,836.15 255.88,837.83 257.35,839.10 258.82,840.05 260.30,840.75 261.77,841.28 263.25,841.66 264.73,841.94 266.20,842.14 267.68,842.29 269.15,842.40 270.62,842.48 272.10,842.54 273.57,842.58 275.05,842.61 276.52,842.63 278.00,842.64" fill="none" stroke="#141414" stroke-width="2.1"/>
<polyline points="160.00,776.65 161.47,776.65 162.95,776.65 164.43,776.65 165.90,776.65 167.38,776.65 168.85,776.65 170.32,776.65 171.80,776.65 173.28,776.65 174.75,776.65 176.22,776.65 177.70,776.65 179.18,776.65 180.65,776.65 182.12,776.65 183.60,776.65 185.07,776.65 186.55,776.65 188.03,776.65 189.50,776.65 190.97,776.65 192.45,776.65 193.93,776.65 195.40,776.65 196.88,776.65 198.35,776.66 199.82,776.66 201.30,776.66 202.78,776.67 204.25,776.67 205.72,776.68 207.20,776.69 208.68,776.71 210.15,776.73 211.62,776.75 213.10,776.78 214.57,776.83 216.05,776.88 217.53,776.96 219.00,777.06 220.47,777.19 221.95,777.36 223.43,777.58 224.90,777.87 226.38,778.25 227.85,778.74 229.32,779.38 230.80,780.20 232.28,781.26 233.75,782.59 235.22,784.27 236.70,786.34 238.18,788.86 239.65,791.86 241.12,795.34 242.60,799.26 244.07,803.55 245.55,808.06 247.03,812.65 248.50,817.13 249.97,821.35 251.45,825.19 252.93,828.58 254.40,831.48 255.88,833.90 257.35,835.89 258.82,837.50 260.30,838.77 261.77,839.77 263.25,840.56 264.73,841.16 266.20,841.63 267.68,841.99 269.15,842.27 270.62,842.48 272.10,842.64 273.57,842.76 275.05,842.85 276.52,842.92 278.00,842.98" fill="none" stroke="#f07022" stroke-width="1.8"/>
<line x1="160.00" y1="768.47" x2="160.00" y2="776.07" stroke="#141414" stroke-width="1.6"/>
<line x1="158.00" y1="768.47" x2="162.00" y2="768.47" stroke="#141414" stroke-width="1.5"/>
<line x1="158.00" y1="776.07" x2="162.00" y2="776.07" stroke="#141414" stroke-width="1.5"/>
<circle cx="160.00" cy="772.27" r="1.3" fill="#141414"/>
<line x1="174.75" y1="759.01" x2="174.75" y2="775.61" stroke="#141414" stroke-width="1.6"/>
<line x1="172.75" y1="759.01" x2="176.75" y2="759.01" stroke="#141414" stroke-width="1.5"/>
<line x1="172.75" y1="775.61" x2="176.75" y2="775.61" stroke="#141414" stroke-width="1.5"/>
<circle cx="174.75" cy="767.31" r="1.3" fill="#141414"/>
<line x1="189.50" y1="773.65" x2="189.50" y2="781.95" stroke="#141414" stroke-width="1.6"/>
<line x1="187.50" y1="773.65" x2="191.50" y2="773.65" stroke="#141414" stroke-width="1.5"/>
<line x1="187.50" y1="781.95" x2="191.50" y2="781.95" stroke="#141414" stroke-width="1.5"/>
<circle cx="189.50" cy="777.80" r="1.3" fill="#141414"/>
<line x1="204.25" y1="771.00" x2="204.25" y2="776.53" stroke="#141414" stroke-width="1.6"/>
<line x1="202.25" y1="771.00" x2="206.25" y2="771.00" stroke="#141414" stroke-width="1.5"/>
<line x1="202.25" y1="776.53" x2="206.25" y2="776.53" stroke="#141414" stroke-width="1.5"/>
<circle cx="204.25" cy="773.77" r="1.3" fill="#141414"/>
<line x1="219.00" y1="771.00" x2="219.00" y2="774.92" stroke="#141414" stroke-width="1.6"/>
<line x1="217.00" y1="771.00" x2="221.00" y2="771.00" stroke="#141414" stroke-width="1.5"/>
<line x1="217.00" y1="774.92" x2="221.00" y2="774.92" stroke="#141414" stroke-width="1.5"/>
<circle cx="219.00" cy="772.96" r="1.3" fill="#141414"/>
<line x1="233.75" y1="778.38" x2="233.75" y2="783.91" stroke="#141414" stroke-width="1.6"/>
<line x1="231.75" y1="778.38" x2="235.75" y2="778.38" stroke="#141414" stroke-width="1.5"/>
<line x1="231.75" y1="783.91" x2="235.75" y2="783.91" stroke="#141414" stroke-width="1.5"/>
<circle cx="233.75" cy="781.14" r="1.3" fill="#141414"/>
<line x1="248.50" y1="812.26" x2="248.50" y2="827.70" stroke="#141414" stroke-width="1.6"/>
<line x1="246.50" y1="812.26" x2="250.50" y2="812.26" stroke="#141414" stroke-width="1.5"/>
<line x1="246.50" y1="827.70" x2="250.50" y2="827.70" stroke="#141414" stroke-width="1.5"/>
<circle cx="248.50" cy="819.98" r="1.3" fill="#141414"/>
<line x1="263.25" y1="831.05" x2="263.25" y2="843.03" stroke="#141414" stroke-width="1.6"/>
<line x1="261.25" y1="831.05" x2="265.25" y2="831.05" stroke="#141414" stroke-width="1.5"/>
<line x1="261.25" y1="843.03" x2="265.25" y2="843.03" stroke="#141414" stroke-width="1.5"/>
<circle cx="263.25" cy="837.04" r="1.3" fill="#141414"/>
<line x1="278.00" y1="835.43" x2="278.00" y2="843.03" stroke="#141414" stroke-width="1.6"/>
<line x1="276.00" y1="835.43" x2="280.00" y2="835.43" stroke="#141414" stroke-width="1.5"/>
<line x1="276.00" y1="843.03" x2="280.00" y2="843.03" stroke="#141414" stroke-width="1.5"/>
<circle cx="278.00" cy="839.23" r="1.3" fill="#141414"/>
<line x1="160.00" y1="774.92" x2="160.00" y2="784.37" stroke="#f07022" stroke-width="1.6"/>
<line x1="158.00" y1="774.92" x2="162.00" y2="774.92" stroke="#f07022" stroke-width="1.5"/>
<line x1="158.00" y1="784.37" x2="162.00" y2="784.37" stroke="#f07022" stroke-width="1.5"/>
<circle cx="160.00" cy="779.64" r="1.3" fill="#f07022"/>
<line x1="174.75" y1="766.62" x2="174.75" y2="773.54" stroke="#f07022" stroke-width="1.6"/>
<line x1="172.75" y1="766.62" x2="176.75" y2="766.62" stroke="#f07022" stroke-width="1.5"/>
<line x1="172.75" y1="773.54" x2="176.75" y2="773.54" stroke="#f07022" stroke-width="1.5"/>
<circle cx="174.75" cy="770.08" r="1.3" fill="#f07022"/>
<line x1="189.50" y1="774.34" x2="189.50" y2="777.80" stroke="#f07022" stroke-width="1.6"/>
<line x1="187.50" y1="774.34" x2="191.50" y2="774.34" stroke="#f07022" stroke-width="1.5"/>
<line x1="187.50" y1="777.80" x2="191.50" y2="777.80" stroke="#f07022" stroke-width="1.5"/>
<circle cx="189.50" cy="776.07" r="1.3" fill="#f07022"/>
<line x1="204.25" y1="775.84" x2="204.25" y2="783.45" stroke="#f07022" stroke-width="1.6"/>
<line x1="202.25" y1="775.84" x2="206.25" y2="775.84" stroke="#f07022" stroke-width="1.5"/>
<line x1="202.25" y1="783.45" x2="206.25" y2="783.45" stroke="#f07022" stroke-width="1.5"/>
<circle cx="204.25" cy="779.64" r="1.3" fill="#f07022"/>
<line x1="219.00" y1="771.92" x2="219.00" y2="776.99" stroke="#f07022" stroke-width="1.6"/>
<line x1="217.00" y1="771.92" x2="221.00" y2="771.92" stroke="#f07022" stroke-width="1.5"/>
<line x1="217.00" y1="776.99" x2="221.00" y2="776.99" stroke="#f07022" stroke-width="1.5"/>
<circle cx="219.00" cy="774.46" r="1.3" fill="#f07022"/>
<line x1="233.75" y1="779.88" x2="233.75" y2="784.72" stroke="#f07022" stroke-width="1.6"/>
<line x1="231.75" y1="779.88" x2="235.75" y2="779.88" stroke="#f07022" stroke-width="1.5"/>
<line x1="231.75" y1="784.72" x2="235.75" y2="784.72" stroke="#f07022" stroke-width="1.5"/>
<circle cx="233.75" cy="782.30" r="1.3" fill="#f07022"/>
<line x1="248.50" y1="801.89" x2="248.50" y2="818.25" stroke="#f07022" stroke-width="1.6"/>
<line x1="246.50" y1="801.89" x2="250.50" y2="801.89" stroke="#f07022" stroke-width="1.5"/>
<line x1="246.50" y1="818.25" x2="250.50" y2="818.25" stroke="#f07022" stroke-width="1.5"/>
<circle cx="248.50" cy="810.07" r="1.3" fill="#f07022"/>
<line x1="263.25" y1="832.89" x2="263.25" y2="842.57" stroke="#f07022" stroke-width="1.6"/>
<line x1="261.25" y1="832.89" x2="265.25" y2="832.89" stroke="#f07022" stroke-width="1.5"/>
<line x1="261.25" y1="842.57" x2="265.25" y2="842.57" stroke="#f07022" stroke-width="1.5"/>
<circle cx="263.25" cy="837.73" r="1.3" fill="#f07022"/>
<line x1="278.00" y1="847.76" x2="278.00" y2="854.44" stroke="#f07022" stroke-width="1.6"/>
<line x1="276.00" y1="847.76" x2="280.00" y2="847.76" stroke="#f07022" stroke-width="1.5"/>
<line x1="276.00" y1="854.44" x2="280.00" y2="854.44" stroke="#f07022" stroke-width="1.5"/>
<circle cx="278.00" cy="851.10" r="1.3" fill="#f07022"/>
<circle cx="245.40" cy="828.40" r="1.3" fill="#141414"/>
<circle cx="248.50" cy="828.40" r="1.3" fill="#141414"/>
<circle cx="251.60" cy="828.40" r="1.3" fill="#141414"/>
<circle cx="260.15" cy="849.30" r="1.3" fill="#141414"/>
<circle cx="263.25" cy="849.30" r="1.3" fill="#141414"/>
<circle cx="266.35" cy="849.30" r="1.3" fill="#141414"/>
<circle cx="274.90" cy="857.30" r="1.3" fill="#141414"/>
<circle cx="278.00" cy="857.30" r="1.3" fill="#141414"/>
<circle cx="281.10" cy="857.30" r="1.3" fill="#141414"/>
<text x="250.71" y="794.70" font-size="7.8" text-anchor="middle" fill="#ef7a30" stroke="#ef7a30" stroke-width="0.3">$$$</text>
<text x="263.25" y="824.70" font-size="7.8" text-anchor="middle" fill="#ef7a30" stroke="#ef7a30" stroke-width="0.3">$$$</text>
<text x="278.00" y="831.40" font-size="7.8" text-anchor="middle" fill="#ef7a30" stroke="#ef7a30" stroke-width="0.3">$$$</text>
<line x1="338.80" y1="752.30" x2="338.80" y2="889.50" stroke="#4a4a4a" stroke-width="1"/>
<line x1="335.60" y1="752.30" x2="338.80" y2="752.30" stroke="#4a4a4a" stroke-width="1"/>
<text x="334.30" y="755.20" font-size="8.4" text-anchor="end" fill="#222" stroke="#222" stroke-width="0.28">0.02</text>
<line x1="335.60" y1="775.17" x2="338.80" y2="775.17" stroke="#4a4a4a" stroke-width="1"/>
<text x="334.30" y="778.07" font-size="8.4" text-anchor="end" fill="#222" stroke="#222" stroke-width="0.28">0.00</text>
<line x1="335.60" y1="798.03" x2="338.80" y2="798.03" stroke="#4a4a4a" stroke-width="1"/>
<text x="334.30" y="800.93" font-size="8.4" text-anchor="end" fill="#222" stroke="#222" stroke-width="0.28">-0.02</text>
<line x1="335.60" y1="820.90" x2="338.80" y2="820.90" stroke="#4a4a4a" stroke-width="1"/>
<text x="334.30" y="823.80" font-size="8.4" text-anchor="end" fill="#222" stroke="#222" stroke-width="0.28">-0.04</text>
<line x1="335.60" y1="843.77" x2="338.80" y2="843.77" stroke="#4a4a4a" stroke-width="1"/>
<text x="334.30" y="846.67" font-size="8.4" text-anchor="end" fill="#222" stroke="#222" stroke-width="0.28">-0.06</text>
<line x1="335.60" y1="866.63" x2="338.80" y2="866.63" stroke="#4a4a4a" stroke-width="1"/>
<text x="334.30" y="869.53" font-size="8.4" text-anchor="end" fill="#222" stroke="#222" stroke-width="0.28">-0.08</text>
<line x1="335.60" y1="889.50" x2="338.80" y2="889.50" stroke="#4a4a4a" stroke-width="1"/>
<text x="334.30" y="892.40" font-size="8.4" text-anchor="end" fill="#222" stroke="#222" stroke-width="0.28">-0.10</text>
<line x1="338.80" y1="775.17" x2="465.30" y2="775.17" stroke="#4a4a4a" stroke-width="1"/>
<line x1="352.90" y1="772.17" x2="352.90" y2="775.17" stroke="#4a4a4a" stroke-width="1"/>
<text x="353.10" y="751.90" font-size="8.4" text-anchor="middle" fill="#222" stroke="#222" stroke-width="0.28">-13</text>
<line x1="366.89" y1="772.17" x2="366.89" y2="775.17" stroke="#4a4a4a" stroke-width="1"/>
<text x="367.09" y="751.90" font-size="8.4" text-anchor="middle" fill="#222" stroke="#222" stroke-width="0.28">-12</text>
<line x1="380.88" y1="772.17" x2="380.88" y2="775.17" stroke="#4a4a4a" stroke-width="1"/>
<text x="381.07" y="751.90" font-size="8.4" text-anchor="middle" fill="#222" stroke="#222" stroke-width="0.28">-11</text>
<line x1="394.86" y1="772.17" x2="394.86" y2="775.17" stroke="#4a4a4a" stroke-width="1"/>
<text x="395.06" y="751.90" font-size="8.4" text-anchor="middle" fill="#222" stroke="#222" stroke-width="0.28">-10</text>
<line x1="408.85" y1="772.17" x2="408.85" y2="775.17" stroke="#4a4a4a" stroke-width="1"/>
<text x="409.05" y="751.90" font-size="8.4" text-anchor="middle" fill="#222" stroke="#222" stroke-width="0.28">-9</text>
<line x1="422.84" y1="772.17" x2="422.84" y2="775.17" stroke="#4a4a4a" stroke-width="1"/>
<text x="423.04" y="751.90" font-size="8.4" text-anchor="middle" fill="#222" stroke="#222" stroke-width="0.28">-8</text>
<line x1="436.82" y1="772.17" x2="436.82" y2="775.17" stroke="#4a4a4a" stroke-width="1"/>
<text x="437.02" y="751.90" font-size="8.4" text-anchor="middle" fill="#222" stroke="#222" stroke-width="0.28">-7</text>
<line x1="450.81" y1="772.17" x2="450.81" y2="775.17" stroke="#4a4a4a" stroke-width="1"/>
<text x="451.01" y="751.90" font-size="8.4" text-anchor="middle" fill="#222" stroke="#222" stroke-width="0.28">-6</text>
<line x1="464.80" y1="772.17" x2="464.80" y2="775.17" stroke="#4a4a4a" stroke-width="1"/>
<text x="465.00" y="751.90" font-size="8.4" text-anchor="middle" fill="#222" stroke="#222" stroke-width="0.28">-5</text>
<text x="401.65" y="739.20" font-size="8.9" text-anchor="middle" fill="#222" stroke="#222" stroke-width="0.35">Log [NE] (M)</text>
<text transform="translate(309.50,820.90) rotate(-90)" font-size="9.7" text-anchor="middle" fill="#222" stroke="#222" stroke-width="0.25">NE-modulated BRET</text>
<polyline points="352.90,775.17 354.30,775.17 355.70,775.17 357.10,775.17 358.50,775.17 359.89,775.17 361.29,775.17 362.69,775.17 364.09,775.17 365.49,775.17 366.89,775.17 368.29,775.17 369.68,775.17 371.08,775.17 372.48,775.17 373.88,775.17 375.28,775.17 376.68,775.17 378.08,775.17 379.48,775.17 380.88,775.17 382.27,775.17 383.67,775.17 385.07,775.17 386.47,775.17 387.87,775.17 389.27,775.17 390.67,775.17 392.06,775.17 393.46,775.17 394.86,775.17 396.26,775.17 397.66,775.17 399.06,775.18 400.46,775.18 401.86,775.19 403.25,775.19 404.65,775.20 406.05,775.21 407.45,775.22 408.85,775.24 410.25,775.26 411.65,775.29 413.05,775.34 414.44,775.39 415.84,775.46 417.24,775.55 418.64,775.67 420.04,775.83 421.44,776.04 422.84,776.32 424.24,776.68 425.63,777.15 427.03,777.76 428.43,778.55 429.83,779.57 431.23,780.88 432.63,782.54 434.03,784.63 435.43,787.21 436.82,790.35 438.22,794.11 439.62,798.47 441.02,803.41 442.42,808.83 443.82,814.55 445.22,820.39 446.62,826.11 448.01,831.53 449.41,836.47 450.81,840.83 452.21,844.59 453.61,847.73 455.01,850.31 456.41,852.40 457.81,854.06 459.20,855.37 460.60,856.39 462.00,857.18 463.40,857.79 464.80,858.26" fill="none" stroke="#141414" stroke-width="2.1"/>
<polyline points="352.90,780.08 354.30,780.08 355.70,780.08 357.10,780.08 358.50,780.08 359.89,780.08 361.29,780.08 362.69,780.08 364.09,780.08 365.49,780.08 366.89,780.08 368.29,780.08 369.68,780.08 371.08,780.08 372.48,780.08 373.88,780.08 375.28,780.08 376.68,780.08 378.08,780.08 379.48,780.08 380.88,780.08 382.27,780.08 383.67,780.08 385.07,780.08 386.47,780.08 387.87,780.09 389.27,780.09 390.67,780.09 392.06,780.09 393.46,780.09 394.86,780.09 396.26,780.10 397.66,780.10 399.06,780.10 400.46,780.11 401.86,780.12 403.25,780.13 404.65,780.15 406.05,780.17 407.45,780.19 408.85,780.23 410.25,780.28 411.65,780.34 413.05,780.42 414.44,780.53 415.84,780.67 417.24,780.85 418.64,781.09 420.04,781.41 421.44,781.82 422.84,782.36 424.24,783.06 425.63,783.97 427.03,785.13 428.43,786.62 429.83,788.49 431.23,790.83 432.63,793.70 434.03,797.16 435.43,801.24 436.82,805.93 438.22,811.15 439.62,816.78 441.02,822.62 442.42,828.45 443.82,834.08 445.22,839.30 446.62,843.99 448.01,848.07 449.41,851.53 450.81,854.40 452.21,856.74 453.61,858.61 455.01,860.10 456.41,861.26 457.81,862.17 459.20,862.87 460.60,863.41 462.00,863.82 463.40,864.14 464.80,864.38" fill="none" stroke="#f07022" stroke-width="1.8"/>
<line x1="352.90" y1="770.14" x2="352.90" y2="776.77" stroke="#141414" stroke-width="1.6"/>
<line x1="350.90" y1="770.14" x2="354.90" y2="770.14" stroke="#141414" stroke-width="1.5"/>
<line x1="350.90" y1="776.77" x2="354.90" y2="776.77" stroke="#141414" stroke-width="1.5"/>
<circle cx="352.90" cy="773.45" r="1.3" fill="#141414"/>
<line x1="366.89" y1="766.82" x2="366.89" y2="773.45" stroke="#141414" stroke-width="1.6"/>
<line x1="364.89" y1="766.82" x2="368.89" y2="766.82" stroke="#141414" stroke-width="1.5"/>
<line x1="364.89" y1="773.45" x2="368.89" y2="773.45" stroke="#141414" stroke-width="1.5"/>
<circle cx="366.89" cy="770.14" r="1.3" fill="#141414"/>
<line x1="380.88" y1="772.77" x2="380.88" y2="776.20" stroke="#141414" stroke-width="1.6"/>
<line x1="378.88" y1="772.77" x2="382.88" y2="772.77" stroke="#141414" stroke-width="1.5"/>
<line x1="378.88" y1="776.20" x2="382.88" y2="776.20" stroke="#141414" stroke-width="1.5"/>
<circle cx="380.88" cy="774.48" r="1.3" fill="#141414"/>
<line x1="394.86" y1="772.77" x2="394.86" y2="779.40" stroke="#141414" stroke-width="1.6"/>
<line x1="392.86" y1="772.77" x2="396.86" y2="772.77" stroke="#141414" stroke-width="1.5"/>
<line x1="392.86" y1="779.40" x2="396.86" y2="779.40" stroke="#141414" stroke-width="1.5"/>
<circle cx="394.86" cy="776.08" r="1.3" fill="#141414"/>
<line x1="408.85" y1="770.02" x2="408.85" y2="778.94" stroke="#141414" stroke-width="1.6"/>
<line x1="406.85" y1="770.02" x2="410.85" y2="770.02" stroke="#141414" stroke-width="1.5"/>
<line x1="406.85" y1="778.94" x2="410.85" y2="778.94" stroke="#141414" stroke-width="1.5"/>
<circle cx="408.85" cy="774.48" r="1.3" fill="#141414"/>
<line x1="422.84" y1="774.37" x2="422.84" y2="777.80" stroke="#141414" stroke-width="1.6"/>
<line x1="420.84" y1="774.37" x2="424.84" y2="774.37" stroke="#141414" stroke-width="1.5"/>
<line x1="420.84" y1="777.80" x2="424.84" y2="777.80" stroke="#141414" stroke-width="1.5"/>
<circle cx="422.84" cy="776.08" r="1.3" fill="#141414"/>
<line x1="436.82" y1="793.46" x2="436.82" y2="805.58" stroke="#141414" stroke-width="1.6"/>
<line x1="434.82" y1="793.46" x2="438.82" y2="793.46" stroke="#141414" stroke-width="1.5"/>
<line x1="434.82" y1="805.58" x2="438.82" y2="805.58" stroke="#141414" stroke-width="1.5"/>
<circle cx="436.82" cy="799.52" r="1.3" fill="#141414"/>
<line x1="450.81" y1="830.73" x2="450.81" y2="842.17" stroke="#141414" stroke-width="1.6"/>
<line x1="448.81" y1="830.73" x2="452.81" y2="830.73" stroke="#141414" stroke-width="1.5"/>
<line x1="448.81" y1="842.17" x2="452.81" y2="842.17" stroke="#141414" stroke-width="1.5"/>
<circle cx="450.81" cy="836.45" r="1.3" fill="#141414"/>
<line x1="464.80" y1="850.86" x2="464.80" y2="864.12" stroke="#141414" stroke-width="1.6"/>
<line x1="462.80" y1="850.86" x2="466.80" y2="850.86" stroke="#141414" stroke-width="1.5"/>
<line x1="462.80" y1="864.12" x2="466.80" y2="864.12" stroke="#141414" stroke-width="1.5"/>
<circle cx="464.80" cy="857.49" r="1.3" fill="#141414"/>
<line x1="352.90" y1="778.71" x2="352.90" y2="782.14" stroke="#f07022" stroke-width="1.6"/>
<line x1="350.90" y1="778.71" x2="354.90" y2="778.71" stroke="#f07022" stroke-width="1.5"/>
<line x1="350.90" y1="782.14" x2="354.90" y2="782.14" stroke="#f07022" stroke-width="1.5"/>
<circle cx="352.90" cy="780.43" r="1.3" fill="#f07022"/>
<line x1="366.89" y1="773.91" x2="366.89" y2="777.34" stroke="#f07022" stroke-width="1.6"/>
<line x1="364.89" y1="773.91" x2="368.89" y2="773.91" stroke="#f07022" stroke-width="1.5"/>
<line x1="364.89" y1="777.34" x2="368.89" y2="777.34" stroke="#f07022" stroke-width="1.5"/>
<circle cx="366.89" cy="775.62" r="1.3" fill="#f07022"/>
<line x1="380.88" y1="775.62" x2="380.88" y2="779.97" stroke="#f07022" stroke-width="1.6"/>
<line x1="378.88" y1="775.62" x2="382.88" y2="775.62" stroke="#f07022" stroke-width="1.5"/>
<line x1="378.88" y1="779.97" x2="382.88" y2="779.97" stroke="#f07022" stroke-width="1.5"/>
<circle cx="380.88" cy="777.80" r="1.3" fill="#f07022"/>
<line x1="394.86" y1="784.54" x2="394.86" y2="787.97" stroke="#f07022" stroke-width="1.6"/>
<line x1="392.86" y1="784.54" x2="396.86" y2="784.54" stroke="#f07022" stroke-width="1.5"/>
<line x1="392.86" y1="787.97" x2="396.86" y2="787.97" stroke="#f07022" stroke-width="1.5"/>
<circle cx="394.86" cy="786.26" r="1.3" fill="#f07022"/>
<line x1="408.85" y1="777.34" x2="408.85" y2="784.88" stroke="#f07022" stroke-width="1.6"/>
<line x1="406.85" y1="777.34" x2="410.85" y2="777.34" stroke="#f07022" stroke-width="1.5"/>
<line x1="406.85" y1="784.88" x2="410.85" y2="784.88" stroke="#f07022" stroke-width="1.5"/>
<circle cx="408.85" cy="781.11" r="1.3" fill="#f07022"/>
<line x1="422.84" y1="781.11" x2="422.84" y2="787.74" stroke="#f07022" stroke-width="1.6"/>
<line x1="420.84" y1="781.11" x2="424.84" y2="781.11" stroke="#f07022" stroke-width="1.5"/>
<line x1="420.84" y1="787.74" x2="424.84" y2="787.74" stroke="#f07022" stroke-width="1.5"/>
<circle cx="422.84" cy="784.43" r="1.3" fill="#f07022"/>
<line x1="436.82" y1="805.24" x2="436.82" y2="816.67" stroke="#f07022" stroke-width="1.6"/>
<line x1="434.82" y1="805.24" x2="438.82" y2="805.24" stroke="#f07022" stroke-width="1.5"/>
<line x1="434.82" y1="816.67" x2="438.82" y2="816.67" stroke="#f07022" stroke-width="1.5"/>
<circle cx="436.82" cy="810.95" r="1.3" fill="#f07022"/>
<line x1="450.81" y1="841.94" x2="450.81" y2="848.57" stroke="#f07022" stroke-width="1.6"/>
<line x1="448.81" y1="841.94" x2="452.81" y2="841.94" stroke="#f07022" stroke-width="1.5"/>
<line x1="448.81" y1="848.57" x2="452.81" y2="848.57" stroke="#f07022" stroke-width="1.5"/>
<circle cx="450.81" cy="845.25" r="1.3" fill="#f07022"/>
<line x1="464.80" y1="861.26" x2="464.80" y2="875.67" stroke="#f07022" stroke-width="1.6"/>
<line x1="462.80" y1="861.26" x2="466.80" y2="861.26" stroke="#f07022" stroke-width="1.5"/>
<line x1="462.80" y1="875.67" x2="466.80" y2="875.67" stroke="#f07022" stroke-width="1.5"/>
<circle cx="464.80" cy="868.46" r="1.3" fill="#f07022"/>
<circle cx="436.82" cy="786.70" r="1.3" fill="#141414"/>
<circle cx="447.71" cy="824.40" r="1.3" fill="#141414"/>
<circle cx="450.81" cy="824.40" r="1.3" fill="#141414"/>
<circle cx="453.91" cy="824.40" r="1.3" fill="#141414"/>
<circle cx="461.70" cy="844.00" r="1.3" fill="#141414"/>
<circle cx="464.80" cy="844.00" r="1.3" fill="#141414"/>
<circle cx="467.90" cy="844.00" r="1.3" fill="#141414"/>
<text x="434.03" y="828.10" font-size="7.8" text-anchor="middle" fill="#ef7a30" stroke="#ef7a30" stroke-width="0.3">$$$</text>
<text x="446.62" y="862.50" font-size="7.8" text-anchor="middle" fill="#ef7a30" stroke="#ef7a30" stroke-width="0.3">$$$</text>
<text x="464.80" y="887.80" font-size="7.8" text-anchor="middle" fill="#ef7a30" stroke="#ef7a30" stroke-width="0.3">$$$</text>
<line x1="525.10" y1="752.60" x2="525.10" y2="889.80" stroke="#4a4a4a" stroke-width="1"/>
<line x1="521.90" y1="752.60" x2="525.10" y2="752.60" stroke="#4a4a4a" stroke-width="1"/>
<text x="520.60" y="755.50" font-size="8.4" text-anchor="end" fill="#222" stroke="#222" stroke-width="0.28">0.02</text>
<line x1="521.90" y1="775.47" x2="525.10" y2="775.47" stroke="#4a4a4a" stroke-width="1"/>
<text x="520.60" y="778.37" font-size="8.4" text-anchor="end" fill="#222" stroke="#222" stroke-width="0.28">0.00</text>
<line x1="521.90" y1="798.33" x2="525.10" y2="798.33" stroke="#4a4a4a" stroke-width="1"/>
<text x="520.60" y="801.23" font-size="8.4" text-anchor="end" fill="#222" stroke="#222" stroke-width="0.28">-0.02</text>
<line x1="521.90" y1="821.20" x2="525.10" y2="821.20" stroke="#4a4a4a" stroke-width="1"/>
<text x="520.60" y="824.10" font-size="8.4" text-anchor="end" fill="#222" stroke="#222" stroke-width="0.28">-0.04</text>
<line x1="521.90" y1="844.07" x2="525.10" y2="844.07" stroke="#4a4a4a" stroke-width="1"/>
<text x="520.60" y="846.97" font-size="8.4" text-anchor="end" fill="#222" stroke="#222" stroke-width="0.28">-0.06</text>
<line x1="521.90" y1="866.93" x2="525.10" y2="866.93" stroke="#4a4a4a" stroke-width="1"/>
<text x="520.60" y="869.83" font-size="8.4" text-anchor="end" fill="#222" stroke="#222" stroke-width="0.28">-0.08</text>
<line x1="521.90" y1="889.80" x2="525.10" y2="889.80" stroke="#4a4a4a" stroke-width="1"/>
<text x="520.60" y="892.70" font-size="8.4" text-anchor="end" fill="#222" stroke="#222" stroke-width="0.28">-0.10</text>
<line x1="525.10" y1="775.47" x2="654.60" y2="775.47" stroke="#4a4a4a" stroke-width="1"/>
<line x1="538.20" y1="772.47" x2="538.20" y2="775.47" stroke="#4a4a4a" stroke-width="1"/>
<text x="538.40" y="750.90" font-size="8.4" text-anchor="middle" fill="#222" stroke="#222" stroke-width="0.28">-13</text>
<line x1="551.08" y1="772.47" x2="551.08" y2="775.47" stroke="#4a4a4a" stroke-width="1"/>
<text x="551.28" y="750.90" font-size="8.4" text-anchor="middle" fill="#222" stroke="#222" stroke-width="0.28">-12</text>
<line x1="563.96" y1="772.47" x2="563.96" y2="775.47" stroke="#4a4a4a" stroke-width="1"/>
<text x="564.16" y="750.90" font-size="8.4" text-anchor="middle" fill="#222" stroke="#222" stroke-width="0.28">-11</text>
<line x1="576.83" y1="772.47" x2="576.83" y2="775.47" stroke="#4a4a4a" stroke-width="1"/>
<text x="577.03" y="750.90" font-size="8.4" text-anchor="middle" fill="#222" stroke="#222" stroke-width="0.28">-10</text>
<line x1="589.71" y1="772.47" x2="589.71" y2="775.47" stroke="#4a4a4a" stroke-width="1"/>
<text x="589.91" y="750.90" font-size="8.4" text-anchor="middle" fill="#222" stroke="#222" stroke-width="0.28">-9</text>
<line x1="602.59" y1="772.47" x2="602.59" y2="775.47" stroke="#4a4a4a" stroke-width="1"/>
<text x="602.79" y="750.90" font-size="8.4" text-anchor="middle" fill="#222" stroke="#222" stroke-width="0.28">-8</text>
<line x1="615.47" y1="772.47" x2="615.47" y2="775.47" stroke="#4a4a4a" stroke-width="1"/>
<text x="615.67" y="750.90" font-size="8.4" text-anchor="middle" fill="#222" stroke="#222" stroke-width="0.28">-7</text>
<line x1="628.34" y1="772.47" x2="628.34" y2="775.47" stroke="#4a4a4a" stroke-width="1"/>
<text x="628.54" y="750.90" font-size="8.4" text-anchor="middle" fill="#222" stroke="#222" stroke-width="0.28">-6</text>
<line x1="641.22" y1="772.47" x2="641.22" y2="775.47" stroke="#4a4a4a" stroke-width="1"/>
<text x="641.42" y="750.90" font-size="8.4" text-anchor="middle" fill="#222" stroke="#222" stroke-width="0.28">-5</text>
<line x1="654.10" y1="772.47" x2="654.10" y2="775.47" stroke="#4a4a4a" stroke-width="1"/>
<text x="654.30" y="750.90" font-size="8.4" text-anchor="middle" fill="#222" stroke="#222" stroke-width="0.28">-4</text>
<text x="588.95" y="738.00" font-size="8.9" text-anchor="middle" fill="#222" stroke="#222" stroke-width="0.35">Log [EPI] (M)</text>
<text transform="translate(494.70,821.20) rotate(-90)" font-size="9.7" text-anchor="middle" fill="#222" stroke="#222" stroke-width="0.25">EPI-modulated BRET</text>
<polyline points="538.20,770.32 539.65,770.32 541.10,770.32 542.55,770.32 544.00,770.32 545.44,770.32 546.89,770.32 548.34,770.32 549.79,770.32 551.24,770.32 552.69,770.32 554.14,770.32 555.59,770.32 557.03,770.32 558.48,770.32 559.93,770.32 561.38,770.32 562.83,770.32 564.28,770.32 565.73,770.32 567.18,770.32 568.62,770.32 570.07,770.32 571.52,770.32 572.97,770.32 574.42,770.32 575.87,770.32 577.32,770.32 578.77,770.32 580.21,770.32 581.66,770.32 583.11,770.32 584.56,770.32 586.01,770.32 587.46,770.32 588.91,770.33 590.36,770.33 591.80,770.33 593.25,770.33 594.70,770.34 596.15,770.34 597.60,770.35 599.05,770.36 600.50,770.37 601.95,770.39 603.39,770.42 604.84,770.46 606.29,770.52 607.74,770.60 609.19,770.71 610.64,770.86 612.09,771.08 613.54,771.37 614.98,771.79 616.43,772.37 617.88,773.16 619.33,774.25 620.78,775.74 622.23,777.74 623.68,780.41 625.12,783.88 626.57,788.31 628.02,793.79 629.47,800.30 630.92,807.71 632.37,815.73 633.82,823.94 635.27,831.89 636.72,839.17 638.16,845.53 639.61,850.84 641.06,855.12 642.51,858.46 643.96,861.01 645.41,862.92 646.86,864.34 648.31,865.38 649.75,866.13 651.20,866.68 652.65,867.08 654.10,867.36" fill="none" stroke="#141414" stroke-width="2.1"/>
<polyline points="538.20,776.38 539.65,776.38 541.10,776.38 542.55,776.38 544.00,776.38 545.44,776.38 546.89,776.38 548.34,776.38 549.79,776.38 551.24,776.38 552.69,776.38 554.14,776.38 555.59,776.38 557.03,776.38 558.48,776.38 559.93,776.38 561.38,776.38 562.83,776.38 564.28,776.38 565.73,776.38 567.18,776.38 568.62,776.38 570.07,776.38 571.52,776.38 572.97,776.38 574.42,776.38 575.87,776.38 577.32,776.38 578.77,776.38 580.21,776.38 581.66,776.39 583.11,776.39 584.56,776.39 586.01,776.39 587.46,776.40 588.91,776.40 590.36,776.41 591.80,776.42 593.25,776.43 594.70,776.45 596.15,776.48 597.60,776.51 599.05,776.56 600.50,776.63 601.95,776.72 603.39,776.84 604.84,777.00 606.29,777.23 607.74,777.53 609.19,777.94 610.64,778.49 612.09,779.24 613.54,780.23 614.98,781.54 616.43,783.26 617.88,785.48 619.33,788.31 620.78,791.81 622.23,796.06 623.68,801.02 625.12,806.60 626.57,812.63 628.02,818.82 629.47,824.90 630.92,830.59 632.37,835.69 633.82,840.08 635.27,843.73 636.72,846.68 638.16,849.02 639.61,850.83 641.06,852.22 642.51,853.27 643.96,854.06 645.41,854.64 646.86,855.08 648.31,855.40 649.75,855.64 651.20,855.82 652.65,855.94 654.10,856.04" fill="none" stroke="#f07022" stroke-width="1.8"/>
<line x1="538.20" y1="769.06" x2="538.20" y2="772.95" stroke="#141414" stroke-width="1.6"/>
<line x1="536.20" y1="769.06" x2="540.20" y2="769.06" stroke="#141414" stroke-width="1.5"/>
<line x1="536.20" y1="772.95" x2="540.20" y2="772.95" stroke="#141414" stroke-width="1.5"/>
<circle cx="538.20" cy="771.01" r="1.3" fill="#141414"/>
<line x1="551.08" y1="769.18" x2="551.08" y2="771.47" stroke="#141414" stroke-width="1.6"/>
<line x1="549.08" y1="769.18" x2="553.08" y2="769.18" stroke="#141414" stroke-width="1.5"/>
<line x1="549.08" y1="771.47" x2="553.08" y2="771.47" stroke="#141414" stroke-width="1.5"/>
<circle cx="551.08" cy="770.32" r="1.3" fill="#141414"/>
<line x1="563.96" y1="755.57" x2="563.96" y2="769.29" stroke="#141414" stroke-width="1.6"/>
<line x1="561.96" y1="755.57" x2="565.96" y2="755.57" stroke="#141414" stroke-width="1.5"/>
<line x1="561.96" y1="769.29" x2="565.96" y2="769.29" stroke="#141414" stroke-width="1.5"/>
<circle cx="563.96" cy="762.43" r="1.3" fill="#141414"/>
<line x1="576.83" y1="765.18" x2="576.83" y2="780.04" stroke="#141414" stroke-width="1.6"/>
<line x1="574.83" y1="765.18" x2="578.83" y2="765.18" stroke="#141414" stroke-width="1.5"/>
<line x1="574.83" y1="780.04" x2="578.83" y2="780.04" stroke="#141414" stroke-width="1.5"/>
<circle cx="576.83" cy="772.61" r="1.3" fill="#141414"/>
<line x1="589.71" y1="765.29" x2="589.71" y2="775.35" stroke="#141414" stroke-width="1.6"/>
<line x1="587.71" y1="765.29" x2="591.71" y2="765.29" stroke="#141414" stroke-width="1.5"/>
<line x1="587.71" y1="775.35" x2="591.71" y2="775.35" stroke="#141414" stroke-width="1.5"/>
<circle cx="589.71" cy="770.32" r="1.3" fill="#141414"/>
<line x1="602.59" y1="769.18" x2="602.59" y2="771.47" stroke="#141414" stroke-width="1.6"/>
<line x1="600.59" y1="769.18" x2="604.59" y2="769.18" stroke="#141414" stroke-width="1.5"/>
<line x1="600.59" y1="771.47" x2="604.59" y2="771.47" stroke="#141414" stroke-width="1.5"/>
<circle cx="602.59" cy="770.32" r="1.3" fill="#141414"/>
<line x1="615.47" y1="770.44" x2="615.47" y2="781.41" stroke="#141414" stroke-width="1.6"/>
<line x1="613.47" y1="770.44" x2="617.47" y2="770.44" stroke="#141414" stroke-width="1.5"/>
<line x1="613.47" y1="781.41" x2="617.47" y2="781.41" stroke="#141414" stroke-width="1.5"/>
<circle cx="615.47" cy="775.92" r="1.3" fill="#141414"/>
<line x1="628.34" y1="791.47" x2="628.34" y2="804.74" stroke="#141414" stroke-width="1.6"/>
<line x1="626.34" y1="791.47" x2="630.34" y2="791.47" stroke="#141414" stroke-width="1.5"/>
<line x1="626.34" y1="804.74" x2="630.34" y2="804.74" stroke="#141414" stroke-width="1.5"/>
<circle cx="628.34" cy="798.10" r="1.3" fill="#141414"/>
<line x1="641.22" y1="838.81" x2="641.22" y2="850.70" stroke="#141414" stroke-width="1.6"/>
<line x1="639.22" y1="838.81" x2="643.22" y2="838.81" stroke="#141414" stroke-width="1.5"/>
<line x1="639.22" y1="850.70" x2="643.22" y2="850.70" stroke="#141414" stroke-width="1.5"/>
<circle cx="641.22" cy="844.75" r="1.3" fill="#141414"/>
<line x1="654.10" y1="866.93" x2="654.10" y2="869.22" stroke="#141414" stroke-width="1.6"/>
<line x1="652.10" y1="866.93" x2="656.10" y2="866.93" stroke="#141414" stroke-width="1.5"/>
<line x1="652.10" y1="869.22" x2="656.10" y2="869.22" stroke="#141414" stroke-width="1.5"/>
<circle cx="654.10" cy="868.08" r="1.3" fill="#141414"/>
<line x1="538.20" y1="777.07" x2="538.20" y2="783.70" stroke="#f07022" stroke-width="1.6"/>
<line x1="536.20" y1="777.07" x2="540.20" y2="777.07" stroke="#f07022" stroke-width="1.5"/>
<line x1="536.20" y1="783.70" x2="540.20" y2="783.70" stroke="#f07022" stroke-width="1.5"/>
<circle cx="538.20" cy="780.38" r="1.3" fill="#f07022"/>
<line x1="551.08" y1="767.01" x2="551.08" y2="775.92" stroke="#f07022" stroke-width="1.6"/>
<line x1="549.08" y1="767.01" x2="553.08" y2="767.01" stroke="#f07022" stroke-width="1.5"/>
<line x1="549.08" y1="775.92" x2="553.08" y2="775.92" stroke="#f07022" stroke-width="1.5"/>
<circle cx="551.08" cy="771.47" r="1.3" fill="#f07022"/>
<line x1="563.96" y1="766.89" x2="563.96" y2="776.04" stroke="#f07022" stroke-width="1.6"/>
<line x1="561.96" y1="766.89" x2="565.96" y2="766.89" stroke="#f07022" stroke-width="1.5"/>
<line x1="561.96" y1="776.04" x2="565.96" y2="776.04" stroke="#f07022" stroke-width="1.5"/>
<circle cx="563.96" cy="771.47" r="1.3" fill="#f07022"/>
<line x1="576.83" y1="772.95" x2="576.83" y2="781.18" stroke="#f07022" stroke-width="1.6"/>
<line x1="574.83" y1="772.95" x2="578.83" y2="772.95" stroke="#f07022" stroke-width="1.5"/>
<line x1="574.83" y1="781.18" x2="578.83" y2="781.18" stroke="#f07022" stroke-width="1.5"/>
<circle cx="576.83" cy="777.07" r="1.3" fill="#f07022"/>
<line x1="589.71" y1="773.98" x2="589.71" y2="780.15" stroke="#f07022" stroke-width="1.6"/>
<line x1="587.71" y1="773.98" x2="591.71" y2="773.98" stroke="#f07022" stroke-width="1.5"/>
<line x1="587.71" y1="780.15" x2="591.71" y2="780.15" stroke="#f07022" stroke-width="1.5"/>
<circle cx="589.71" cy="777.07" r="1.3" fill="#f07022"/>
<line x1="602.59" y1="774.21" x2="602.59" y2="784.27" stroke="#f07022" stroke-width="1.6"/>
<line x1="600.59" y1="774.21" x2="604.59" y2="774.21" stroke="#f07022" stroke-width="1.5"/>
<line x1="600.59" y1="784.27" x2="604.59" y2="784.27" stroke="#f07022" stroke-width="1.5"/>
<circle cx="602.59" cy="779.24" r="1.3" fill="#f07022"/>
<line x1="615.47" y1="789.76" x2="615.47" y2="797.53" stroke="#f07022" stroke-width="1.6"/>
<line x1="613.47" y1="789.76" x2="617.47" y2="789.76" stroke="#f07022" stroke-width="1.5"/>
<line x1="613.47" y1="797.53" x2="617.47" y2="797.53" stroke="#f07022" stroke-width="1.5"/>
<circle cx="615.47" cy="793.65" r="1.3" fill="#f07022"/>
<line x1="628.34" y1="803.02" x2="628.34" y2="813.08" stroke="#f07022" stroke-width="1.6"/>
<line x1="626.34" y1="803.02" x2="630.34" y2="803.02" stroke="#f07022" stroke-width="1.5"/>
<line x1="626.34" y1="813.08" x2="630.34" y2="813.08" stroke="#f07022" stroke-width="1.5"/>
<circle cx="628.34" cy="808.05" r="1.3" fill="#f07022"/>
<line x1="641.22" y1="847.50" x2="641.22" y2="852.98" stroke="#f07022" stroke-width="1.6"/>
<line x1="639.22" y1="847.50" x2="643.22" y2="847.50" stroke="#f07022" stroke-width="1.5"/>
<line x1="639.22" y1="852.98" x2="643.22" y2="852.98" stroke="#f07022" stroke-width="1.5"/>
<circle cx="641.22" cy="850.24" r="1.3" fill="#f07022"/>
<line x1="654.10" y1="855.16" x2="654.10" y2="857.44" stroke="#f07022" stroke-width="1.6"/>
<line x1="652.10" y1="855.16" x2="656.10" y2="855.16" stroke="#f07022" stroke-width="1.5"/>
<line x1="652.10" y1="857.44" x2="656.10" y2="857.44" stroke="#f07022" stroke-width="1.5"/>
<circle cx="654.10" cy="856.30" r="1.3" fill="#f07022"/>
<circle cx="626.79" cy="782.20" r="1.3" fill="#141414"/>
<circle cx="629.89" cy="782.20" r="1.3" fill="#141414"/>
<circle cx="638.12" cy="832.20" r="1.3" fill="#141414"/>
<circle cx="641.22" cy="832.20" r="1.3" fill="#141414"/>
<circle cx="644.32" cy="832.20" r="1.3" fill="#141414"/>
<circle cx="651.00" cy="875.60" r="1.3" fill="#141414"/>
<circle cx="654.10" cy="875.60" r="1.3" fill="#141414"/>
<circle cx="657.20" cy="875.60" r="1.3" fill="#141414"/>
<text x="615.47" y="804.70" font-size="7.8" text-anchor="middle" fill="#ef7a30" stroke="#ef7a30" stroke-width="0.3">$$</text>
<text x="624.48" y="825.20" font-size="7.8" text-anchor="middle" fill="#ef7a30" stroke="#ef7a30" stroke-width="0.3">$$$</text>
<text x="638.00" y="863.60" font-size="7.8" text-anchor="middle" fill="#ef7a30" stroke="#ef7a30" stroke-width="0.3">$$$</text>
<text x="656.68" y="850.90" font-size="7.8" text-anchor="middle" fill="#ef7a30" stroke="#ef7a30" stroke-width="0.3">$$$</text>
<line x1="144.30" y1="911.10" x2="144.30" y2="1047.70" stroke="#4a4a4a" stroke-width="1"/>
<line x1="141.10" y1="911.10" x2="144.30" y2="911.10" stroke="#4a4a4a" stroke-width="1"/>
<text x="139.80" y="914.00" font-size="8.4" text-anchor="end" fill="#222" stroke="#222" stroke-width="0.28">0.02</text>
<line x1="141.10" y1="933.87" x2="144.30" y2="933.87" stroke="#4a4a4a" stroke-width="1"/>
<text x="139.80" y="936.77" font-size="8.4" text-anchor="end" fill="#222" stroke="#222" stroke-width="0.28">0.00</text>
<line x1="141.10" y1="956.63" x2="144.30" y2="956.63" stroke="#4a4a4a" stroke-width="1"/>
<text x="139.80" y="959.53" font-size="8.4" text-anchor="end" fill="#222" stroke="#222" stroke-width="0.28">-0.02</text>
<line x1="141.10" y1="979.40" x2="144.30" y2="979.40" stroke="#4a4a4a" stroke-width="1"/>
<text x="139.80" y="982.30" font-size="8.4" text-anchor="end" fill="#222" stroke="#222" stroke-width="0.28">-0.04</text>
<line x1="141.10" y1="1002.17" x2="144.30" y2="1002.17" stroke="#4a4a4a" stroke-width="1"/>
<text x="139.80" y="1005.07" font-size="8.4" text-anchor="end" fill="#222" stroke="#222" stroke-width="0.28">-0.06</text>
<line x1="141.10" y1="1024.93" x2="144.30" y2="1024.93" stroke="#4a4a4a" stroke-width="1"/>
<text x="139.80" y="1027.83" font-size="8.4" text-anchor="end" fill="#222" stroke="#222" stroke-width="0.28">-0.08</text>
<line x1="141.10" y1="1047.70" x2="144.30" y2="1047.70" stroke="#4a4a4a" stroke-width="1"/>
<text x="139.80" y="1050.60" font-size="8.4" text-anchor="end" fill="#222" stroke="#222" stroke-width="0.28">-0.10</text>
<line x1="144.30" y1="933.87" x2="272.30" y2="933.87" stroke="#4a4a4a" stroke-width="1"/>
<line x1="158.50" y1="930.87" x2="158.50" y2="933.87" stroke="#4a4a4a" stroke-width="1"/>
<text x="158.70" y="911.50" font-size="8.4" text-anchor="middle" fill="#222" stroke="#222" stroke-width="0.28">-13</text>
<line x1="172.66" y1="930.87" x2="172.66" y2="933.87" stroke="#4a4a4a" stroke-width="1"/>
<text x="172.86" y="911.50" font-size="8.4" text-anchor="middle" fill="#222" stroke="#222" stroke-width="0.28">-12</text>
<line x1="186.82" y1="930.87" x2="186.82" y2="933.87" stroke="#4a4a4a" stroke-width="1"/>
<text x="187.02" y="911.50" font-size="8.4" text-anchor="middle" fill="#222" stroke="#222" stroke-width="0.28">-11</text>
<line x1="200.99" y1="930.87" x2="200.99" y2="933.87" stroke="#4a4a4a" stroke-width="1"/>
<text x="201.19" y="911.50" font-size="8.4" text-anchor="middle" fill="#222" stroke="#222" stroke-width="0.28">-10</text>
<line x1="215.15" y1="930.87" x2="215.15" y2="933.87" stroke="#4a4a4a" stroke-width="1"/>
<text x="215.35" y="911.50" font-size="8.4" text-anchor="middle" fill="#222" stroke="#222" stroke-width="0.28">-9</text>
<line x1="229.31" y1="930.87" x2="229.31" y2="933.87" stroke="#4a4a4a" stroke-width="1"/>
<text x="229.51" y="911.50" font-size="8.4" text-anchor="middle" fill="#222" stroke="#222" stroke-width="0.28">-8</text>
<line x1="243.48" y1="930.87" x2="243.48" y2="933.87" stroke="#4a4a4a" stroke-width="1"/>
<text x="243.68" y="911.50" font-size="8.4" text-anchor="middle" fill="#222" stroke="#222" stroke-width="0.28">-7</text>
<line x1="257.64" y1="930.87" x2="257.64" y2="933.87" stroke="#4a4a4a" stroke-width="1"/>
<text x="257.84" y="911.50" font-size="8.4" text-anchor="middle" fill="#222" stroke="#222" stroke-width="0.28">-6</text>
<line x1="271.80" y1="930.87" x2="271.80" y2="933.87" stroke="#4a4a4a" stroke-width="1"/>
<text x="272.00" y="911.50" font-size="8.4" text-anchor="middle" fill="#222" stroke="#222" stroke-width="0.28">-5</text>
<text transform="translate(114.70,979.40) rotate(-90)" font-size="9.7" text-anchor="middle" fill="#222" stroke="#222" stroke-width="0.25">ISO-modulated BRET</text>
<polyline points="158.50,946.73 159.92,946.73 161.33,946.73 162.75,946.73 164.16,946.73 165.58,946.73 167.00,946.73 168.41,946.73 169.83,946.73 171.25,946.73 172.66,946.73 174.08,946.73 175.50,946.73 176.91,946.73 178.33,946.73 179.74,946.73 181.16,946.73 182.58,946.73 183.99,946.73 185.41,946.73 186.82,946.73 188.24,946.73 189.66,946.73 191.07,946.73 192.49,946.73 193.91,946.73 195.32,946.73 196.74,946.73 198.16,946.73 199.57,946.73 200.99,946.74 202.40,946.74 203.82,946.74 205.24,946.74 206.65,946.75 208.07,946.75 209.49,946.76 210.90,946.76 212.32,946.77 213.73,946.79 215.15,946.80 216.57,946.82 217.98,946.85 219.40,946.88 220.81,946.93 222.23,946.98 223.65,947.06 225.06,947.15 226.48,947.27 227.90,947.42 229.31,947.62 230.73,947.87 232.15,948.18 233.56,948.57 234.98,949.07 236.39,949.69 237.81,950.45 239.23,951.38 240.64,952.50 242.06,953.82 243.48,955.36 244.89,957.11 246.31,959.05 247.72,961.14 249.14,963.32 250.56,965.53 251.97,967.70 253.39,969.76 254.81,971.66 256.22,973.37 257.64,974.87 259.05,976.15 260.47,977.23 261.89,978.12 263.30,978.85 264.72,979.44 266.13,979.92 267.55,980.30 268.97,980.60 270.38,980.83 271.80,981.02" fill="none" stroke="#141414" stroke-width="2.1"/>
<polyline points="158.50,937.17 159.92,937.17 161.33,937.17 162.75,937.17 164.16,937.17 165.58,937.17 167.00,937.17 168.41,937.17 169.83,937.17 171.25,937.17 172.66,937.17 174.08,937.17 175.50,937.17 176.91,937.17 178.33,937.17 179.74,937.17 181.16,937.17 182.58,937.17 183.99,937.17 185.41,937.17 186.82,937.17 188.24,937.17 189.66,937.17 191.07,937.17 192.49,937.17 193.91,937.17 195.32,937.17 196.74,937.17 198.16,937.17 199.57,937.17 200.99,937.18 202.40,937.18 203.82,937.18 205.24,937.19 206.65,937.19 208.07,937.20 209.49,937.20 210.90,937.22 212.32,937.23 213.73,937.25 215.15,937.27 216.57,937.30 217.98,937.33 219.40,937.38 220.81,937.44 222.23,937.52 223.65,937.62 225.06,937.75 226.48,937.91 227.90,938.12 229.31,938.38 230.73,938.71 232.15,939.13 233.56,939.64 234.98,940.27 236.39,941.03 237.81,941.95 239.23,943.02 240.64,944.26 242.06,945.66 243.48,947.18 244.89,948.81 246.31,950.49 247.72,952.16 249.14,953.79 250.56,955.32 251.97,956.71 253.39,957.95 254.81,959.02 256.22,959.94 257.64,960.70 259.05,961.33 260.47,961.84 261.89,962.26 263.30,962.59 264.72,962.85 266.13,963.06 267.55,963.22 268.97,963.35 270.38,963.45 271.80,963.53" fill="none" stroke="#f07022" stroke-width="1.8"/>
<line x1="158.50" y1="941.38" x2="158.50" y2="946.39" stroke="#141414" stroke-width="1.6"/>
<line x1="156.50" y1="941.38" x2="160.50" y2="941.38" stroke="#141414" stroke-width="1.5"/>
<line x1="156.50" y1="946.39" x2="160.50" y2="946.39" stroke="#141414" stroke-width="1.5"/>
<circle cx="158.50" cy="943.88" r="1.3" fill="#141414"/>
<line x1="172.66" y1="942.06" x2="172.66" y2="944.34" stroke="#141414" stroke-width="1.6"/>
<line x1="170.66" y1="942.06" x2="174.66" y2="942.06" stroke="#141414" stroke-width="1.5"/>
<line x1="170.66" y1="944.34" x2="174.66" y2="944.34" stroke="#141414" stroke-width="1.5"/>
<circle cx="172.66" cy="943.20" r="1.3" fill="#141414"/>
<line x1="186.82" y1="939.33" x2="186.82" y2="943.88" stroke="#141414" stroke-width="1.6"/>
<line x1="184.82" y1="939.33" x2="188.82" y2="939.33" stroke="#141414" stroke-width="1.5"/>
<line x1="184.82" y1="943.88" x2="188.82" y2="943.88" stroke="#141414" stroke-width="1.5"/>
<circle cx="186.82" cy="941.61" r="1.3" fill="#141414"/>
<line x1="200.99" y1="944.79" x2="200.99" y2="948.67" stroke="#141414" stroke-width="1.6"/>
<line x1="198.99" y1="944.79" x2="202.99" y2="944.79" stroke="#141414" stroke-width="1.5"/>
<line x1="198.99" y1="948.67" x2="202.99" y2="948.67" stroke="#141414" stroke-width="1.5"/>
<circle cx="200.99" cy="946.73" r="1.3" fill="#141414"/>
<line x1="215.15" y1="952.54" x2="215.15" y2="961.87" stroke="#141414" stroke-width="1.6"/>
<line x1="213.15" y1="952.54" x2="217.15" y2="952.54" stroke="#141414" stroke-width="1.5"/>
<line x1="213.15" y1="961.87" x2="217.15" y2="961.87" stroke="#141414" stroke-width="1.5"/>
<circle cx="215.15" cy="957.20" r="1.3" fill="#141414"/>
<line x1="229.31" y1="949.12" x2="229.31" y2="954.13" stroke="#141414" stroke-width="1.6"/>
<line x1="227.31" y1="949.12" x2="231.31" y2="949.12" stroke="#141414" stroke-width="1.5"/>
<line x1="227.31" y1="954.13" x2="231.31" y2="954.13" stroke="#141414" stroke-width="1.5"/>
<circle cx="229.31" cy="951.62" r="1.3" fill="#141414"/>
<line x1="243.48" y1="955.61" x2="243.48" y2="960.85" stroke="#141414" stroke-width="1.6"/>
<line x1="241.48" y1="955.61" x2="245.48" y2="955.61" stroke="#141414" stroke-width="1.5"/>
<line x1="241.48" y1="960.85" x2="245.48" y2="960.85" stroke="#141414" stroke-width="1.5"/>
<circle cx="243.48" cy="958.23" r="1.3" fill="#141414"/>
<line x1="257.64" y1="968.02" x2="257.64" y2="977.35" stroke="#141414" stroke-width="1.6"/>
<line x1="255.64" y1="968.02" x2="259.64" y2="968.02" stroke="#141414" stroke-width="1.5"/>
<line x1="255.64" y1="977.35" x2="259.64" y2="977.35" stroke="#141414" stroke-width="1.5"/>
<circle cx="257.64" cy="972.68" r="1.3" fill="#141414"/>
<line x1="271.80" y1="974.85" x2="271.80" y2="986.00" stroke="#141414" stroke-width="1.6"/>
<line x1="269.80" y1="974.85" x2="273.80" y2="974.85" stroke="#141414" stroke-width="1.5"/>
<line x1="269.80" y1="986.00" x2="273.80" y2="986.00" stroke="#141414" stroke-width="1.5"/>
<circle cx="271.80" cy="980.42" r="1.3" fill="#141414"/>
<line x1="158.50" y1="934.66" x2="158.50" y2="939.67" stroke="#f07022" stroke-width="1.6"/>
<line x1="156.50" y1="934.66" x2="160.50" y2="934.66" stroke="#f07022" stroke-width="1.5"/>
<line x1="156.50" y1="939.67" x2="160.50" y2="939.67" stroke="#f07022" stroke-width="1.5"/>
<circle cx="158.50" cy="937.17" r="1.3" fill="#f07022"/>
<line x1="172.66" y1="929.65" x2="172.66" y2="940.36" stroke="#f07022" stroke-width="1.6"/>
<line x1="170.66" y1="929.65" x2="174.66" y2="929.65" stroke="#f07022" stroke-width="1.5"/>
<line x1="170.66" y1="940.36" x2="174.66" y2="940.36" stroke="#f07022" stroke-width="1.5"/>
<circle cx="172.66" cy="935.00" r="1.3" fill="#f07022"/>
<line x1="186.82" y1="932.73" x2="186.82" y2="939.33" stroke="#f07022" stroke-width="1.6"/>
<line x1="184.82" y1="932.73" x2="188.82" y2="932.73" stroke="#f07022" stroke-width="1.5"/>
<line x1="184.82" y1="939.33" x2="188.82" y2="939.33" stroke="#f07022" stroke-width="1.5"/>
<circle cx="186.82" cy="936.03" r="1.3" fill="#f07022"/>
<line x1="200.99" y1="931.93" x2="200.99" y2="940.13" stroke="#f07022" stroke-width="1.6"/>
<line x1="198.99" y1="931.93" x2="202.99" y2="931.93" stroke="#f07022" stroke-width="1.5"/>
<line x1="198.99" y1="940.13" x2="202.99" y2="940.13" stroke="#f07022" stroke-width="1.5"/>
<circle cx="200.99" cy="936.03" r="1.3" fill="#f07022"/>
<line x1="215.15" y1="936.37" x2="215.15" y2="944.57" stroke="#f07022" stroke-width="1.6"/>
<line x1="213.15" y1="936.37" x2="217.15" y2="936.37" stroke="#f07022" stroke-width="1.5"/>
<line x1="213.15" y1="944.57" x2="217.15" y2="944.57" stroke="#f07022" stroke-width="1.5"/>
<circle cx="215.15" cy="940.47" r="1.3" fill="#f07022"/>
<line x1="229.31" y1="934.89" x2="229.31" y2="939.44" stroke="#f07022" stroke-width="1.6"/>
<line x1="227.31" y1="934.89" x2="231.31" y2="934.89" stroke="#f07022" stroke-width="1.5"/>
<line x1="227.31" y1="939.44" x2="231.31" y2="939.44" stroke="#f07022" stroke-width="1.5"/>
<circle cx="229.31" cy="937.17" r="1.3" fill="#f07022"/>
<line x1="243.48" y1="947.64" x2="243.48" y2="951.06" stroke="#f07022" stroke-width="1.6"/>
<line x1="241.48" y1="947.64" x2="245.48" y2="947.64" stroke="#f07022" stroke-width="1.5"/>
<line x1="241.48" y1="951.06" x2="245.48" y2="951.06" stroke="#f07022" stroke-width="1.5"/>
<circle cx="243.48" cy="949.35" r="1.3" fill="#f07022"/>
<line x1="257.64" y1="953.79" x2="257.64" y2="958.34" stroke="#f07022" stroke-width="1.6"/>
<line x1="255.64" y1="953.79" x2="259.64" y2="953.79" stroke="#f07022" stroke-width="1.5"/>
<line x1="255.64" y1="958.34" x2="259.64" y2="958.34" stroke="#f07022" stroke-width="1.5"/>
<circle cx="257.64" cy="956.06" r="1.3" fill="#f07022"/>
<line x1="271.80" y1="963.80" x2="271.80" y2="968.36" stroke="#f07022" stroke-width="1.6"/>
<line x1="269.80" y1="963.80" x2="273.80" y2="963.80" stroke="#f07022" stroke-width="1.5"/>
<line x1="269.80" y1="968.36" x2="273.80" y2="968.36" stroke="#f07022" stroke-width="1.5"/>
<circle cx="271.80" cy="966.08" r="1.3" fill="#f07022"/>
<circle cx="212.05" cy="967.10" r="1.3" fill="#141414"/>
<circle cx="215.15" cy="967.10" r="1.3" fill="#141414"/>
<circle cx="218.25" cy="967.10" r="1.3" fill="#141414"/>
<circle cx="227.76" cy="958.90" r="1.3" fill="#141414"/>
<circle cx="230.86" cy="958.90" r="1.3" fill="#141414"/>
<circle cx="240.38" cy="966.70" r="1.3" fill="#141414"/>
<circle cx="243.48" cy="966.70" r="1.3" fill="#141414"/>
<circle cx="246.58" cy="966.70" r="1.3" fill="#141414"/>
<circle cx="254.54" cy="980.40" r="1.3" fill="#141414"/>
<circle cx="257.64" cy="980.40" r="1.3" fill="#141414"/>
<circle cx="260.74" cy="980.40" r="1.3" fill="#141414"/>
<circle cx="268.70" cy="991.00" r="1.3" fill="#141414"/>
<circle cx="271.80" cy="991.00" r="1.3" fill="#141414"/>
<circle cx="274.90" cy="991.00" r="1.3" fill="#141414"/>
<text x="243.48" y="941.40" font-size="7.8" text-anchor="middle" fill="#ef7a30" stroke="#ef7a30" stroke-width="0.3">$$</text>
<text x="257.64" y="949.60" font-size="7.8" text-anchor="middle" fill="#ef7a30" stroke="#ef7a30" stroke-width="0.3">$$$</text>
<text x="271.80" y="959.20" font-size="7.8" text-anchor="middle" fill="#ef7a30" stroke="#ef7a30" stroke-width="0.3">$$$</text>
<line x1="282.9" y1="960" x2="282.9" y2="983.3" stroke="#555" stroke-width="1.1"/>
<line x1="280.09999999999997" y1="960" x2="285.7" y2="960" stroke="#555" stroke-width="1.1"/>
<line x1="280.09999999999997" y1="983.3" x2="285.7" y2="983.3" stroke="#555" stroke-width="1.1"/>
<text x="288.4" y="975.6" font-size="9.5" text-anchor="middle" fill="#333" stroke="#333" stroke-width="0.3">#</text>
<line x1="338.40" y1="910.10" x2="338.40" y2="1047.00" stroke="#4a4a4a" stroke-width="1"/>
<line x1="335.20" y1="910.10" x2="338.40" y2="910.10" stroke="#4a4a4a" stroke-width="1"/>
<text x="333.90" y="913.00" font-size="8.4" text-anchor="end" fill="#222" stroke="#222" stroke-width="0.28">0.02</text>
<line x1="335.20" y1="932.92" x2="338.40" y2="932.92" stroke="#4a4a4a" stroke-width="1"/>
<text x="333.90" y="935.82" font-size="8.4" text-anchor="end" fill="#222" stroke="#222" stroke-width="0.28">0.00</text>
<line x1="335.20" y1="955.73" x2="338.40" y2="955.73" stroke="#4a4a4a" stroke-width="1"/>
<text x="333.90" y="958.63" font-size="8.4" text-anchor="end" fill="#222" stroke="#222" stroke-width="0.28">-0.02</text>
<line x1="335.20" y1="978.55" x2="338.40" y2="978.55" stroke="#4a4a4a" stroke-width="1"/>
<text x="333.90" y="981.45" font-size="8.4" text-anchor="end" fill="#222" stroke="#222" stroke-width="0.28">-0.04</text>
<line x1="335.20" y1="1001.37" x2="338.40" y2="1001.37" stroke="#4a4a4a" stroke-width="1"/>
<text x="333.90" y="1004.27" font-size="8.4" text-anchor="end" fill="#222" stroke="#222" stroke-width="0.28">-0.06</text>
<line x1="335.20" y1="1024.18" x2="338.40" y2="1024.18" stroke="#4a4a4a" stroke-width="1"/>
<text x="333.90" y="1027.08" font-size="8.4" text-anchor="end" fill="#222" stroke="#222" stroke-width="0.28">-0.08</text>
<line x1="335.20" y1="1047.00" x2="338.40" y2="1047.00" stroke="#4a4a4a" stroke-width="1"/>
<text x="333.90" y="1049.90" font-size="8.4" text-anchor="end" fill="#222" stroke="#222" stroke-width="0.28">-0.10</text>
<line x1="338.40" y1="932.92" x2="464.90" y2="932.92" stroke="#4a4a4a" stroke-width="1"/>
<line x1="352.30" y1="929.92" x2="352.30" y2="932.92" stroke="#4a4a4a" stroke-width="1"/>
<text x="352.50" y="912.50" font-size="8.4" text-anchor="middle" fill="#222" stroke="#222" stroke-width="0.28">-13</text>
<line x1="366.31" y1="929.92" x2="366.31" y2="932.92" stroke="#4a4a4a" stroke-width="1"/>
<text x="366.51" y="912.50" font-size="8.4" text-anchor="middle" fill="#222" stroke="#222" stroke-width="0.28">-12</text>
<line x1="380.32" y1="929.92" x2="380.32" y2="932.92" stroke="#4a4a4a" stroke-width="1"/>
<text x="380.52" y="912.50" font-size="8.4" text-anchor="middle" fill="#222" stroke="#222" stroke-width="0.28">-11</text>
<line x1="394.34" y1="929.92" x2="394.34" y2="932.92" stroke="#4a4a4a" stroke-width="1"/>
<text x="394.54" y="912.50" font-size="8.4" text-anchor="middle" fill="#222" stroke="#222" stroke-width="0.28">-10</text>
<line x1="408.35" y1="929.92" x2="408.35" y2="932.92" stroke="#4a4a4a" stroke-width="1"/>
<text x="408.55" y="912.50" font-size="8.4" text-anchor="middle" fill="#222" stroke="#222" stroke-width="0.28">-9</text>
<line x1="422.36" y1="929.92" x2="422.36" y2="932.92" stroke="#4a4a4a" stroke-width="1"/>
<text x="422.56" y="912.50" font-size="8.4" text-anchor="middle" fill="#222" stroke="#222" stroke-width="0.28">-8</text>
<line x1="436.38" y1="929.92" x2="436.38" y2="932.92" stroke="#4a4a4a" stroke-width="1"/>
<text x="436.57" y="912.50" font-size="8.4" text-anchor="middle" fill="#222" stroke="#222" stroke-width="0.28">-7</text>
<line x1="450.39" y1="929.92" x2="450.39" y2="932.92" stroke="#4a4a4a" stroke-width="1"/>
<text x="450.59" y="912.50" font-size="8.4" text-anchor="middle" fill="#222" stroke="#222" stroke-width="0.28">-6</text>
<line x1="464.40" y1="929.92" x2="464.40" y2="932.92" stroke="#4a4a4a" stroke-width="1"/>
<text x="464.60" y="912.50" font-size="8.4" text-anchor="middle" fill="#222" stroke="#222" stroke-width="0.28">-5</text>
<text transform="translate(309.10,978.55) rotate(-90)" font-size="9.7" text-anchor="middle" fill="#222" stroke="#222" stroke-width="0.25">NE-modulated BRET</text>
<polyline points="352.30,942.27 353.70,942.27 355.10,942.27 356.50,942.27 357.91,942.27 359.31,942.27 360.71,942.27 362.11,942.27 363.51,942.27 364.91,942.27 366.31,942.27 367.71,942.27 369.12,942.27 370.52,942.27 371.92,942.27 373.32,942.27 374.72,942.27 376.12,942.27 377.52,942.27 378.92,942.27 380.32,942.27 381.73,942.27 383.13,942.27 384.53,942.27 385.93,942.27 387.33,942.27 388.73,942.27 390.13,942.27 391.54,942.28 392.94,942.28 394.34,942.28 395.74,942.28 397.14,942.28 398.54,942.28 399.94,942.29 401.34,942.29 402.75,942.30 404.15,942.31 405.55,942.32 406.95,942.33 408.35,942.35 409.75,942.37 411.15,942.40 412.55,942.44 413.95,942.49 415.36,942.55 416.76,942.63 418.16,942.73 419.56,942.86 420.96,943.03 422.36,943.24 423.76,943.51 425.16,943.85 426.57,944.28 427.97,944.83 429.37,945.51 430.77,946.35 432.17,947.38 433.57,948.63 434.97,950.13 436.38,951.87 437.78,953.87 439.18,956.12 440.58,958.56 441.98,961.14 443.38,963.79 444.78,966.43 446.18,968.96 447.58,971.33 448.99,973.48 450.39,975.38 451.79,977.03 453.19,978.42 454.59,979.58 455.99,980.53 457.39,981.31 458.79,981.93 460.20,982.43 461.60,982.82 463.00,983.13 464.40,983.38" fill="none" stroke="#141414" stroke-width="2.1"/>
<polyline points="352.30,936.68 353.70,936.68 355.10,936.68 356.50,936.68 357.91,936.68 359.31,936.68 360.71,936.68 362.11,936.68 363.51,936.68 364.91,936.68 366.31,936.68 367.71,936.68 369.12,936.68 370.52,936.68 371.92,936.68 373.32,936.68 374.72,936.68 376.12,936.68 377.52,936.68 378.92,936.68 380.32,936.68 381.73,936.68 383.13,936.68 384.53,936.68 385.93,936.68 387.33,936.69 388.73,936.69 390.13,936.69 391.54,936.69 392.94,936.69 394.34,936.70 395.74,936.70 397.14,936.71 398.54,936.72 399.94,936.72 401.34,936.74 402.75,936.75 404.15,936.77 405.55,936.80 406.95,936.84 408.35,936.88 409.75,936.94 411.15,937.01 412.55,937.10 413.95,937.22 415.36,937.37 416.76,937.56 418.16,937.81 419.56,938.12 420.96,938.50 422.36,938.98 423.76,939.58 425.16,940.30 426.57,941.18 427.97,942.22 429.37,943.43 430.77,944.80 432.17,946.33 433.57,947.99 434.97,949.72 436.38,951.48 437.78,953.21 439.18,954.86 440.58,956.39 441.98,957.77 443.38,958.98 444.78,960.02 446.18,960.89 447.58,961.62 448.99,962.22 450.39,962.70 451.79,963.08 453.19,963.39 454.59,963.64 455.99,963.83 457.39,963.98 458.79,964.10 460.20,964.19 461.60,964.26 463.00,964.32 464.40,964.36" fill="none" stroke="#f07022" stroke-width="1.8"/>
<line x1="352.30" y1="932.12" x2="352.30" y2="938.96" stroke="#141414" stroke-width="1.6"/>
<line x1="350.30" y1="932.12" x2="354.30" y2="932.12" stroke="#141414" stroke-width="1.5"/>
<line x1="350.30" y1="938.96" x2="354.30" y2="938.96" stroke="#141414" stroke-width="1.5"/>
<circle cx="352.30" cy="935.54" r="1.3" fill="#141414"/>
<line x1="366.31" y1="930.98" x2="366.31" y2="942.39" stroke="#141414" stroke-width="1.6"/>
<line x1="364.31" y1="930.98" x2="368.31" y2="930.98" stroke="#141414" stroke-width="1.5"/>
<line x1="364.31" y1="942.39" x2="368.31" y2="942.39" stroke="#141414" stroke-width="1.5"/>
<circle cx="366.31" cy="936.68" r="1.3" fill="#141414"/>
<line x1="380.32" y1="937.14" x2="380.32" y2="945.12" stroke="#141414" stroke-width="1.6"/>
<line x1="378.32" y1="937.14" x2="382.32" y2="937.14" stroke="#141414" stroke-width="1.5"/>
<line x1="378.32" y1="945.12" x2="382.32" y2="945.12" stroke="#141414" stroke-width="1.5"/>
<circle cx="380.32" cy="941.13" r="1.3" fill="#141414"/>
<line x1="394.34" y1="939.53" x2="394.34" y2="944.10" stroke="#141414" stroke-width="1.6"/>
<line x1="392.34" y1="939.53" x2="396.34" y2="939.53" stroke="#141414" stroke-width="1.5"/>
<line x1="392.34" y1="944.10" x2="396.34" y2="944.10" stroke="#141414" stroke-width="1.5"/>
<circle cx="394.34" cy="941.82" r="1.3" fill="#141414"/>
<line x1="408.35" y1="946.49" x2="408.35" y2="960.18" stroke="#141414" stroke-width="1.6"/>
<line x1="406.35" y1="946.49" x2="410.35" y2="946.49" stroke="#141414" stroke-width="1.5"/>
<line x1="406.35" y1="960.18" x2="410.35" y2="960.18" stroke="#141414" stroke-width="1.5"/>
<circle cx="408.35" cy="953.34" r="1.3" fill="#141414"/>
<line x1="422.36" y1="946.26" x2="422.36" y2="956.08" stroke="#141414" stroke-width="1.6"/>
<line x1="420.36" y1="946.26" x2="424.36" y2="946.26" stroke="#141414" stroke-width="1.5"/>
<line x1="420.36" y1="956.08" x2="424.36" y2="956.08" stroke="#141414" stroke-width="1.5"/>
<circle cx="422.36" cy="951.17" r="1.3" fill="#141414"/>
<line x1="436.38" y1="951.06" x2="436.38" y2="960.18" stroke="#141414" stroke-width="1.6"/>
<line x1="434.38" y1="951.06" x2="438.38" y2="951.06" stroke="#141414" stroke-width="1.5"/>
<line x1="434.38" y1="960.18" x2="438.38" y2="960.18" stroke="#141414" stroke-width="1.5"/>
<circle cx="436.38" cy="955.62" r="1.3" fill="#141414"/>
<line x1="450.39" y1="969.42" x2="450.39" y2="981.74" stroke="#141414" stroke-width="1.6"/>
<line x1="448.39" y1="969.42" x2="452.39" y2="969.42" stroke="#141414" stroke-width="1.5"/>
<line x1="448.39" y1="981.74" x2="452.39" y2="981.74" stroke="#141414" stroke-width="1.5"/>
<circle cx="450.39" cy="975.58" r="1.3" fill="#141414"/>
<line x1="464.40" y1="977.18" x2="464.40" y2="989.50" stroke="#141414" stroke-width="1.6"/>
<line x1="462.40" y1="977.18" x2="466.40" y2="977.18" stroke="#141414" stroke-width="1.5"/>
<line x1="462.40" y1="989.50" x2="466.40" y2="989.50" stroke="#141414" stroke-width="1.5"/>
<circle cx="464.40" cy="983.34" r="1.3" fill="#141414"/>
<line x1="352.30" y1="924.70" x2="352.30" y2="932.23" stroke="#f07022" stroke-width="1.6"/>
<line x1="350.30" y1="924.70" x2="354.30" y2="924.70" stroke="#f07022" stroke-width="1.5"/>
<line x1="350.30" y1="932.23" x2="354.30" y2="932.23" stroke="#f07022" stroke-width="1.5"/>
<circle cx="352.30" cy="928.47" r="1.3" fill="#f07022"/>
<line x1="366.31" y1="936.00" x2="366.31" y2="940.56" stroke="#f07022" stroke-width="1.6"/>
<line x1="364.31" y1="936.00" x2="368.31" y2="936.00" stroke="#f07022" stroke-width="1.5"/>
<line x1="364.31" y1="940.56" x2="368.31" y2="940.56" stroke="#f07022" stroke-width="1.5"/>
<circle cx="366.31" cy="938.28" r="1.3" fill="#f07022"/>
<line x1="380.32" y1="935.20" x2="380.32" y2="940.45" stroke="#f07022" stroke-width="1.6"/>
<line x1="378.32" y1="935.20" x2="382.32" y2="935.20" stroke="#f07022" stroke-width="1.5"/>
<line x1="378.32" y1="940.45" x2="382.32" y2="940.45" stroke="#f07022" stroke-width="1.5"/>
<circle cx="380.32" cy="937.82" r="1.3" fill="#f07022"/>
<line x1="394.34" y1="930.06" x2="394.34" y2="937.59" stroke="#f07022" stroke-width="1.6"/>
<line x1="392.34" y1="930.06" x2="396.34" y2="930.06" stroke="#f07022" stroke-width="1.5"/>
<line x1="392.34" y1="937.59" x2="396.34" y2="937.59" stroke="#f07022" stroke-width="1.5"/>
<circle cx="394.34" cy="933.83" r="1.3" fill="#f07022"/>
<line x1="408.35" y1="937.82" x2="408.35" y2="946.72" stroke="#f07022" stroke-width="1.6"/>
<line x1="406.35" y1="937.82" x2="410.35" y2="937.82" stroke="#f07022" stroke-width="1.5"/>
<line x1="406.35" y1="946.72" x2="410.35" y2="946.72" stroke="#f07022" stroke-width="1.5"/>
<circle cx="408.35" cy="942.27" r="1.3" fill="#f07022"/>
<line x1="422.36" y1="943.64" x2="422.36" y2="949.80" stroke="#f07022" stroke-width="1.6"/>
<line x1="420.36" y1="943.64" x2="424.36" y2="943.64" stroke="#f07022" stroke-width="1.5"/>
<line x1="420.36" y1="949.80" x2="424.36" y2="949.80" stroke="#f07022" stroke-width="1.5"/>
<circle cx="422.36" cy="946.72" r="1.3" fill="#f07022"/>
<line x1="436.38" y1="949.57" x2="436.38" y2="956.42" stroke="#f07022" stroke-width="1.6"/>
<line x1="434.38" y1="949.57" x2="438.38" y2="949.57" stroke="#f07022" stroke-width="1.5"/>
<line x1="434.38" y1="956.42" x2="438.38" y2="956.42" stroke="#f07022" stroke-width="1.5"/>
<circle cx="436.38" cy="953.00" r="1.3" fill="#f07022"/>
<line x1="450.39" y1="954.48" x2="450.39" y2="963.38" stroke="#f07022" stroke-width="1.6"/>
<line x1="448.39" y1="954.48" x2="452.39" y2="954.48" stroke="#f07022" stroke-width="1.5"/>
<line x1="448.39" y1="963.38" x2="452.39" y2="963.38" stroke="#f07022" stroke-width="1.5"/>
<circle cx="450.39" cy="958.93" r="1.3" fill="#f07022"/>
<line x1="464.40" y1="962.24" x2="464.40" y2="980.03" stroke="#f07022" stroke-width="1.6"/>
<line x1="462.40" y1="962.24" x2="466.40" y2="962.24" stroke="#f07022" stroke-width="1.5"/>
<line x1="462.40" y1="980.03" x2="466.40" y2="980.03" stroke="#f07022" stroke-width="1.5"/>
<circle cx="464.40" cy="971.13" r="1.3" fill="#f07022"/>
<circle cx="408.35" cy="966.70" r="1.3" fill="#141414"/>
<circle cx="420.81" cy="963.30" r="1.3" fill="#141414"/>
<circle cx="423.91" cy="963.30" r="1.3" fill="#141414"/>
<circle cx="434.82" cy="966.20" r="1.3" fill="#141414"/>
<circle cx="437.93" cy="966.20" r="1.3" fill="#141414"/>
<circle cx="447.29" cy="988.40" r="1.3" fill="#141414"/>
<circle cx="450.39" cy="988.40" r="1.3" fill="#141414"/>
<circle cx="453.49" cy="988.40" r="1.3" fill="#141414"/>
<circle cx="461.30" cy="997.80" r="1.3" fill="#141414"/>
<circle cx="464.40" cy="997.80" r="1.3" fill="#141414"/>
<circle cx="467.50" cy="997.80" r="1.3" fill="#141414"/>
<text x="436.38" y="942.50" font-size="7.8" text-anchor="middle" fill="#ef7a30" stroke="#ef7a30" stroke-width="0.3">$</text>
<text x="450.39" y="950.30" font-size="7.8" text-anchor="middle" fill="#ef7a30" stroke="#ef7a30" stroke-width="0.3">$$$</text>
<text x="464.40" y="958.50" font-size="7.8" text-anchor="middle" fill="#ef7a30" stroke="#ef7a30" stroke-width="0.3">$$$</text>
<line x1="526.40" y1="909.90" x2="526.40" y2="1046.10" stroke="#4a4a4a" stroke-width="1"/>
<line x1="523.20" y1="909.90" x2="526.40" y2="909.90" stroke="#4a4a4a" stroke-width="1"/>
<text x="521.90" y="912.80" font-size="8.4" text-anchor="end" fill="#222" stroke="#222" stroke-width="0.28">0.02</text>
<line x1="523.20" y1="932.60" x2="526.40" y2="932.60" stroke="#4a4a4a" stroke-width="1"/>
<text x="521.90" y="935.50" font-size="8.4" text-anchor="end" fill="#222" stroke="#222" stroke-width="0.28">0.00</text>
<line x1="523.20" y1="955.30" x2="526.40" y2="955.30" stroke="#4a4a4a" stroke-width="1"/>
<text x="521.90" y="958.20" font-size="8.4" text-anchor="end" fill="#222" stroke="#222" stroke-width="0.28">-0.02</text>
<line x1="523.20" y1="978.00" x2="526.40" y2="978.00" stroke="#4a4a4a" stroke-width="1"/>
<text x="521.90" y="980.90" font-size="8.4" text-anchor="end" fill="#222" stroke="#222" stroke-width="0.28">-0.04</text>
<line x1="523.20" y1="1000.70" x2="526.40" y2="1000.70" stroke="#4a4a4a" stroke-width="1"/>
<text x="521.90" y="1003.60" font-size="8.4" text-anchor="end" fill="#222" stroke="#222" stroke-width="0.28">-0.06</text>
<line x1="523.20" y1="1023.40" x2="526.40" y2="1023.40" stroke="#4a4a4a" stroke-width="1"/>
<text x="521.90" y="1026.30" font-size="8.4" text-anchor="end" fill="#222" stroke="#222" stroke-width="0.28">-0.08</text>
<line x1="523.20" y1="1046.10" x2="526.40" y2="1046.10" stroke="#4a4a4a" stroke-width="1"/>
<text x="521.90" y="1049.00" font-size="8.4" text-anchor="end" fill="#222" stroke="#222" stroke-width="0.28">-0.10</text>
<line x1="526.40" y1="932.60" x2="655.50" y2="932.60" stroke="#4a4a4a" stroke-width="1"/>
<line x1="540.60" y1="929.60" x2="540.60" y2="932.60" stroke="#4a4a4a" stroke-width="1"/>
<text x="540.80" y="911.30" font-size="8.4" text-anchor="middle" fill="#222" stroke="#222" stroke-width="0.28">-13</text>
<line x1="554.90" y1="929.60" x2="554.90" y2="932.60" stroke="#4a4a4a" stroke-width="1"/>
<text x="555.10" y="911.30" font-size="8.4" text-anchor="middle" fill="#222" stroke="#222" stroke-width="0.28">-12</text>
<line x1="569.20" y1="929.60" x2="569.20" y2="932.60" stroke="#4a4a4a" stroke-width="1"/>
<text x="569.40" y="911.30" font-size="8.4" text-anchor="middle" fill="#222" stroke="#222" stroke-width="0.28">-11</text>
<line x1="583.50" y1="929.60" x2="583.50" y2="932.60" stroke="#4a4a4a" stroke-width="1"/>
<text x="583.70" y="911.30" font-size="8.4" text-anchor="middle" fill="#222" stroke="#222" stroke-width="0.28">-10</text>
<line x1="597.80" y1="929.60" x2="597.80" y2="932.60" stroke="#4a4a4a" stroke-width="1"/>
<text x="598.00" y="911.30" font-size="8.4" text-anchor="middle" fill="#222" stroke="#222" stroke-width="0.28">-9</text>
<line x1="612.10" y1="929.60" x2="612.10" y2="932.60" stroke="#4a4a4a" stroke-width="1"/>
<text x="612.30" y="911.30" font-size="8.4" text-anchor="middle" fill="#222" stroke="#222" stroke-width="0.28">-8</text>
<line x1="626.40" y1="929.60" x2="626.40" y2="932.60" stroke="#4a4a4a" stroke-width="1"/>
<text x="626.60" y="911.30" font-size="8.4" text-anchor="middle" fill="#222" stroke="#222" stroke-width="0.28">-7</text>
<line x1="640.70" y1="929.60" x2="640.70" y2="932.60" stroke="#4a4a4a" stroke-width="1"/>
<text x="640.90" y="911.30" font-size="8.4" text-anchor="middle" fill="#222" stroke="#222" stroke-width="0.28">-6</text>
<line x1="655.00" y1="929.60" x2="655.00" y2="932.60" stroke="#4a4a4a" stroke-width="1"/>
<text x="655.20" y="911.30" font-size="8.4" text-anchor="middle" fill="#222" stroke="#222" stroke-width="0.28">-5</text>
<text transform="translate(496.70,978.00) rotate(-90)" font-size="9.7" text-anchor="middle" fill="#222" stroke="#222" stroke-width="0.25">EPI-modulated BRET</text>
<polyline points="540.60,940.32 542.03,940.32 543.46,940.32 544.89,940.32 546.32,940.32 547.75,940.32 549.18,940.32 550.61,940.32 552.04,940.32 553.47,940.32 554.90,940.32 556.33,940.32 557.76,940.32 559.19,940.32 560.62,940.32 562.05,940.32 563.48,940.32 564.91,940.32 566.34,940.32 567.77,940.32 569.20,940.32 570.63,940.32 572.06,940.32 573.49,940.32 574.92,940.32 576.35,940.32 577.78,940.32 579.21,940.32 580.64,940.32 582.07,940.32 583.50,940.32 584.93,940.32 586.36,940.32 587.79,940.32 589.22,940.33 590.65,940.33 592.08,940.33 593.51,940.34 594.94,940.35 596.37,940.36 597.80,940.37 599.23,940.39 600.66,940.41 602.09,940.44 603.52,940.49 604.95,940.55 606.38,940.63 607.81,940.73 609.24,940.88 610.67,941.07 612.10,941.33 613.53,941.67 614.96,942.12 616.39,942.71 617.82,943.48 619.25,944.47 620.68,945.74 622.11,947.31 623.54,949.24 624.97,951.53 626.40,954.16 627.83,957.07 629.26,960.17 630.69,963.32 632.12,966.39 633.55,969.25 634.98,971.82 636.41,974.03 637.84,975.89 639.27,977.40 640.70,978.60 642.13,979.55 643.56,980.28 644.99,980.84 646.42,981.27 647.85,981.59 649.28,981.83 650.71,982.01 652.14,982.15 653.57,982.25 655.00,982.32" fill="none" stroke="#141414" stroke-width="2.1"/>
<polyline points="540.60,935.44 542.03,935.44 543.46,935.44 544.89,935.44 546.32,935.44 547.75,935.44 549.18,935.44 550.61,935.44 552.04,935.44 553.47,935.44 554.90,935.44 556.33,935.44 557.76,935.44 559.19,935.44 560.62,935.44 562.05,935.44 563.48,935.44 564.91,935.44 566.34,935.44 567.77,935.44 569.20,935.44 570.63,935.44 572.06,935.44 573.49,935.44 574.92,935.44 576.35,935.44 577.78,935.44 579.21,935.44 580.64,935.44 582.07,935.44 583.50,935.44 584.93,935.44 586.36,935.44 587.79,935.45 589.22,935.45 590.65,935.46 592.08,935.46 593.51,935.47 594.94,935.48 596.37,935.50 597.80,935.52 599.23,935.54 600.66,935.58 602.09,935.63 603.52,935.70 604.95,935.79 606.38,935.91 607.81,936.07 609.24,936.28 610.67,936.57 612.10,936.94 613.53,937.44 614.96,938.07 616.39,938.89 617.82,939.93 619.25,941.21 620.68,942.76 622.11,944.57 623.54,946.63 624.97,948.87 626.40,951.21 627.83,953.56 629.26,955.80 630.69,957.86 632.12,959.67 633.55,961.22 634.98,962.50 636.41,963.53 637.84,964.35 639.27,964.99 640.70,965.48 642.13,965.86 643.56,966.14 644.99,966.36 646.42,966.52 647.85,966.64 649.28,966.73 650.71,966.80 652.14,966.85 653.57,966.88 655.00,966.91" fill="none" stroke="#f07022" stroke-width="1.8"/>
<line x1="540.60" y1="936.91" x2="540.60" y2="940.32" stroke="#141414" stroke-width="1.6"/>
<line x1="538.60" y1="936.91" x2="542.60" y2="936.91" stroke="#141414" stroke-width="1.5"/>
<line x1="538.60" y1="940.32" x2="542.60" y2="940.32" stroke="#141414" stroke-width="1.5"/>
<circle cx="540.60" cy="938.62" r="1.3" fill="#141414"/>
<line x1="554.90" y1="937.59" x2="554.90" y2="941.00" stroke="#141414" stroke-width="1.6"/>
<line x1="552.90" y1="937.59" x2="556.90" y2="937.59" stroke="#141414" stroke-width="1.5"/>
<line x1="552.90" y1="941.00" x2="556.90" y2="941.00" stroke="#141414" stroke-width="1.5"/>
<circle cx="554.90" cy="939.30" r="1.3" fill="#141414"/>
<line x1="569.20" y1="938.05" x2="569.20" y2="944.86" stroke="#141414" stroke-width="1.6"/>
<line x1="567.20" y1="938.05" x2="571.20" y2="938.05" stroke="#141414" stroke-width="1.5"/>
<line x1="567.20" y1="944.86" x2="571.20" y2="944.86" stroke="#141414" stroke-width="1.5"/>
<circle cx="569.20" cy="941.45" r="1.3" fill="#141414"/>
<line x1="583.50" y1="938.05" x2="583.50" y2="947.13" stroke="#141414" stroke-width="1.6"/>
<line x1="581.50" y1="938.05" x2="585.50" y2="938.05" stroke="#141414" stroke-width="1.5"/>
<line x1="581.50" y1="947.13" x2="585.50" y2="947.13" stroke="#141414" stroke-width="1.5"/>
<circle cx="583.50" cy="942.59" r="1.3" fill="#141414"/>
<line x1="597.80" y1="941.45" x2="597.80" y2="943.72" stroke="#141414" stroke-width="1.6"/>
<line x1="595.80" y1="941.45" x2="599.80" y2="941.45" stroke="#141414" stroke-width="1.5"/>
<line x1="595.80" y1="943.72" x2="599.80" y2="943.72" stroke="#141414" stroke-width="1.5"/>
<circle cx="597.80" cy="942.59" r="1.3" fill="#141414"/>
<line x1="612.10" y1="936.91" x2="612.10" y2="940.32" stroke="#141414" stroke-width="1.6"/>
<line x1="610.10" y1="936.91" x2="614.10" y2="936.91" stroke="#141414" stroke-width="1.5"/>
<line x1="610.10" y1="940.32" x2="614.10" y2="940.32" stroke="#141414" stroke-width="1.5"/>
<circle cx="612.10" cy="938.62" r="1.3" fill="#141414"/>
<line x1="626.40" y1="946.67" x2="626.40" y2="960.75" stroke="#141414" stroke-width="1.6"/>
<line x1="624.40" y1="946.67" x2="628.40" y2="946.67" stroke="#141414" stroke-width="1.5"/>
<line x1="624.40" y1="960.75" x2="628.40" y2="960.75" stroke="#141414" stroke-width="1.5"/>
<circle cx="626.40" cy="953.71" r="1.3" fill="#141414"/>
<line x1="640.70" y1="975.50" x2="640.70" y2="984.36" stroke="#141414" stroke-width="1.6"/>
<line x1="638.70" y1="975.50" x2="642.70" y2="975.50" stroke="#141414" stroke-width="1.5"/>
<line x1="638.70" y1="984.36" x2="642.70" y2="984.36" stroke="#141414" stroke-width="1.5"/>
<circle cx="640.70" cy="979.93" r="1.3" fill="#141414"/>
<line x1="655.00" y1="977.43" x2="655.00" y2="982.43" stroke="#141414" stroke-width="1.6"/>
<line x1="653.00" y1="977.43" x2="657.00" y2="977.43" stroke="#141414" stroke-width="1.5"/>
<line x1="653.00" y1="982.43" x2="657.00" y2="982.43" stroke="#141414" stroke-width="1.5"/>
<circle cx="655.00" cy="979.93" r="1.3" fill="#141414"/>
<line x1="540.60" y1="931.81" x2="540.60" y2="940.89" stroke="#f07022" stroke-width="1.6"/>
<line x1="538.60" y1="931.81" x2="542.60" y2="931.81" stroke="#f07022" stroke-width="1.5"/>
<line x1="538.60" y1="940.89" x2="542.60" y2="940.89" stroke="#f07022" stroke-width="1.5"/>
<circle cx="540.60" cy="936.35" r="1.3" fill="#f07022"/>
<line x1="554.90" y1="931.01" x2="554.90" y2="939.86" stroke="#f07022" stroke-width="1.6"/>
<line x1="552.90" y1="931.01" x2="556.90" y2="931.01" stroke="#f07022" stroke-width="1.5"/>
<line x1="552.90" y1="939.86" x2="556.90" y2="939.86" stroke="#f07022" stroke-width="1.5"/>
<circle cx="554.90" cy="935.44" r="1.3" fill="#f07022"/>
<line x1="569.20" y1="926.02" x2="569.20" y2="941.45" stroke="#f07022" stroke-width="1.6"/>
<line x1="567.20" y1="926.02" x2="571.20" y2="926.02" stroke="#f07022" stroke-width="1.5"/>
<line x1="567.20" y1="941.45" x2="571.20" y2="941.45" stroke="#f07022" stroke-width="1.5"/>
<circle cx="569.20" cy="933.74" r="1.3" fill="#f07022"/>
<line x1="583.50" y1="931.24" x2="583.50" y2="941.45" stroke="#f07022" stroke-width="1.6"/>
<line x1="581.50" y1="931.24" x2="585.50" y2="931.24" stroke="#f07022" stroke-width="1.5"/>
<line x1="581.50" y1="941.45" x2="585.50" y2="941.45" stroke="#f07022" stroke-width="1.5"/>
<circle cx="583.50" cy="936.35" r="1.3" fill="#f07022"/>
<line x1="597.80" y1="941.45" x2="597.80" y2="948.26" stroke="#f07022" stroke-width="1.6"/>
<line x1="595.80" y1="941.45" x2="599.80" y2="941.45" stroke="#f07022" stroke-width="1.5"/>
<line x1="595.80" y1="948.26" x2="599.80" y2="948.26" stroke="#f07022" stroke-width="1.5"/>
<circle cx="597.80" cy="944.86" r="1.3" fill="#f07022"/>
<line x1="612.10" y1="938.16" x2="612.10" y2="946.11" stroke="#f07022" stroke-width="1.6"/>
<line x1="610.10" y1="938.16" x2="614.10" y2="938.16" stroke="#f07022" stroke-width="1.5"/>
<line x1="610.10" y1="946.11" x2="614.10" y2="946.11" stroke="#f07022" stroke-width="1.5"/>
<circle cx="612.10" cy="942.13" r="1.3" fill="#f07022"/>
<line x1="626.40" y1="948.04" x2="626.40" y2="955.75" stroke="#f07022" stroke-width="1.6"/>
<line x1="624.40" y1="948.04" x2="628.40" y2="948.04" stroke="#f07022" stroke-width="1.5"/>
<line x1="624.40" y1="955.75" x2="628.40" y2="955.75" stroke="#f07022" stroke-width="1.5"/>
<circle cx="626.40" cy="951.89" r="1.3" fill="#f07022"/>
<line x1="640.70" y1="965.40" x2="640.70" y2="970.85" stroke="#f07022" stroke-width="1.6"/>
<line x1="638.70" y1="965.40" x2="642.70" y2="965.40" stroke="#f07022" stroke-width="1.5"/>
<line x1="638.70" y1="970.85" x2="642.70" y2="970.85" stroke="#f07022" stroke-width="1.5"/>
<circle cx="640.70" cy="968.13" r="1.3" fill="#f07022"/>
<line x1="655.00" y1="960.75" x2="655.00" y2="971.19" stroke="#f07022" stroke-width="1.6"/>
<line x1="653.00" y1="960.75" x2="657.00" y2="960.75" stroke="#f07022" stroke-width="1.5"/>
<line x1="653.00" y1="971.19" x2="657.00" y2="971.19" stroke="#f07022" stroke-width="1.5"/>
<circle cx="655.00" cy="965.97" r="1.3" fill="#f07022"/>
<circle cx="597.80" cy="953.30" r="1.3" fill="#141414"/>
<circle cx="623.30" cy="967.80" r="1.3" fill="#141414"/>
<circle cx="626.40" cy="967.80" r="1.3" fill="#141414"/>
<circle cx="629.50" cy="967.80" r="1.3" fill="#141414"/>
<circle cx="637.60" cy="991.60" r="1.3" fill="#141414"/>
<circle cx="640.70" cy="991.60" r="1.3" fill="#141414"/>
<circle cx="643.80" cy="991.60" r="1.3" fill="#141414"/>
<circle cx="651.90" cy="990.70" r="1.3" fill="#141414"/>
<circle cx="655.00" cy="990.70" r="1.3" fill="#141414"/>
<circle cx="658.10" cy="990.70" r="1.3" fill="#141414"/>
<text x="626.40" y="940.30" font-size="7.8" text-anchor="middle" fill="#ef7a30" stroke="#ef7a30" stroke-width="0.3">$</text>
<text x="640.70" y="959.20" font-size="7.8" text-anchor="middle" fill="#ef7a30" stroke="#ef7a30" stroke-width="0.3">$$$</text>
<text x="655.00" y="955.80" font-size="7.8" text-anchor="middle" fill="#ef7a30" stroke="#ef7a30" stroke-width="0.3">$$$</text>
<defs><linearGradient id="og" x1="0" y1="0" x2="0" y2="1">
<stop offset="0" stop-color="#f8bf28"/><stop offset="0.45" stop-color="#fada8c"/><stop offset="0.8" stop-color="#fff8ec"/><stop offset="1" stop-color="#ffffff"/>
</linearGradient></defs>
<g transform="translate(0,0)">
<text x="24.3" y="47.6" font-size="13" font-weight="bold" fill="#111">β1-AR</text>
<path transform="translate(30,48) scale(0.08889)" d="M515,75 C507.5,69.2 489.2,47.2 470,40 C450.8,32.8 428.3,30.3 400,32 C371.7,33.7 336.7,40.3 300,50 C263.3,59.7 213.3,76.7 180,90 C146.7,103.3 116.3,113.3 100,130 C83.7,146.7 82.0,166.7 82,190 C82.0,213.3 89.5,243.3 100,270 C110.5,296.7 135.0,321.7 145,350 C155.0,378.3 159.2,406.7 160,440 C160.8,473.3 148.3,515.0 150,550 C151.7,585.0 161.7,620.0 170,650 C178.3,680.0 191.3,709.2 200,730 C208.7,750.8 215.7,780.0 222,775 C228.3,770.0 236.3,730.8 238,700 C239.7,669.2 236.3,628.3 232,590 C227.7,551.7 218.7,510.0 212,470 C205.3,430.0 194.8,380.8 192,350 C189.2,319.2 190.3,298.0 195,285 C199.7,272.0 208.3,268.7 220,272 C231.7,275.3 250.8,287.0 265,305 C279.2,323.0 295.5,352.5 305,380 C314.5,407.5 320.8,438.3 322,470 C323.2,501.7 316.0,535.0 312,570 C308.0,605.0 299.2,646.7 298,680 C296.8,713.3 298.0,752.5 305,770 C312.0,787.5 329.2,790.0 340,785 C350.8,780.0 363.3,764.2 370,740 C376.7,715.8 379.7,676.7 380,640 C380.3,603.3 374.5,556.7 372,520 C369.5,483.3 364.5,451.7 365,420 C365.5,388.3 368.3,350.0 375,330 C381.7,310.0 395.5,300.8 405,300 C414.5,299.2 426.2,306.7 432,325 C437.8,343.3 440.0,379.2 440,410 C440.0,440.8 432.0,476.7 432,510 C432.0,543.3 440.3,576.7 440,610 C439.7,643.3 428.3,687.5 430,710 C431.7,732.5 440.8,740.8 450,745 C459.2,749.2 476.3,745.8 485,735 C493.7,724.2 500.3,705.8 502,680 C503.7,654.2 497.0,615.0 495,580 C493.0,545.0 488.8,505.0 490,470 C491.2,435.0 497.0,395.8 502,370 C507.0,344.2 512.8,325.8 520,315 C527.2,304.2 537.5,300.8 545,305 C552.5,309.2 560.5,319.2 565,340 C569.5,360.8 568.7,393.3 572,430 C575.3,466.7 580.3,521.7 585,560 C589.7,598.3 595.0,620.0 600,660 C605.0,700.0 612.5,776.7 615,800" fill="none" stroke="#0a0a0a" stroke-width="30" stroke-linecap="round" stroke-linejoin="round"/>
<ellipse cx="53.3" cy="129" rx="7.6" ry="12.3" fill="url(#og)" stroke="#f0c868" stroke-width="0.9"/>
<ellipse cx="54.9" cy="157.6" rx="10.9" ry="16" fill="url(#og)" stroke="#f0c868" stroke-width="0.9"/>
<ellipse cx="76.7" cy="140.7" rx="18" ry="22.7" fill="url(#og)" stroke="#f0c868" stroke-width="0.9"/>
<circle cx="44" cy="135.8" r="4.9" fill="#25dc25"/>
<circle cx="87.1" cy="160.2" r="5.5" fill="#1766e6"/>
<text x="54.2" y="130.5" font-size="9" font-weight="bold" fill="#e3262b" text-anchor="middle">γ<tspan font-size="6" dy="1.5">2</tspan></text>
<text x="55.3" y="158.8" font-size="9" font-weight="bold" fill="#e3262b" text-anchor="middle">β<tspan font-size="6" dy="1.5">3</tspan></text>
<text x="77.3" y="145" font-size="13.5" font-weight="bold" fill="#e3262b" text-anchor="middle">αs</text>
</g>
<g transform="translate(0,164.4)">
<text x="24.3" y="47.6" font-size="13" font-weight="bold" fill="#111">β2-AR</text>
<path transform="translate(30,48) scale(0.08889)" d="M515,75 C507.5,69.2 489.2,47.2 470,40 C450.8,32.8 428.3,30.3 400,32 C371.7,33.7 336.7,40.3 300,50 C263.3,59.7 213.3,76.7 180,90 C146.7,103.3 116.3,113.3 100,130 C83.7,146.7 82.0,166.7 82,190 C82.0,213.3 89.5,243.3 100,270 C110.5,296.7 135.0,321.7 145,350 C155.0,378.3 159.2,406.7 160,440 C160.8,473.3 148.3,515.0 150,550 C151.7,585.0 161.7,620.0 170,650 C178.3,680.0 191.3,709.2 200,730 C208.7,750.8 215.7,780.0 222,775 C228.3,770.0 236.3,730.8 238,700 C239.7,669.2 236.3,628.3 232,590 C227.7,551.7 218.7,510.0 212,470 C205.3,430.0 194.8,380.8 192,350 C189.2,319.2 190.3,298.0 195,285 C199.7,272.0 208.3,268.7 220,272 C231.7,275.3 250.8,287.0 265,305 C279.2,323.0 295.5,352.5 305,380 C314.5,407.5 320.8,438.3 322,470 C323.2,501.7 316.0,535.0 312,570 C308.0,605.0 299.2,646.7 298,680 C296.8,713.3 298.0,752.5 305,770 C312.0,787.5 329.2,790.0 340,785 C350.8,780.0 363.3,764.2 370,740 C376.7,715.8 379.7,676.7 380,640 C380.3,603.3 374.5,556.7 372,520 C369.5,483.3 364.5,451.7 365,420 C365.5,388.3 368.3,350.0 375,330 C381.7,310.0 395.5,300.8 405,300 C414.5,299.2 426.2,306.7 432,325 C437.8,343.3 440.0,379.2 440,410 C440.0,440.8 432.0,476.7 432,510 C432.0,543.3 440.3,576.7 440,610 C439.7,643.3 428.3,687.5 430,710 C431.7,732.5 440.8,740.8 450,745 C459.2,749.2 476.3,745.8 485,735 C493.7,724.2 500.3,705.8 502,680 C503.7,654.2 497.0,615.0 495,580 C493.0,545.0 488.8,505.0 490,470 C491.2,435.0 497.0,395.8 502,370 C507.0,344.2 512.8,325.8 520,315 C527.2,304.2 537.5,300.8 545,305 C552.5,309.2 560.5,319.2 565,340 C569.5,360.8 568.7,393.3 572,430 C575.3,466.7 580.3,521.7 585,560 C589.7,598.3 595.0,620.0 600,660 C605.0,700.0 612.5,776.7 615,800" fill="none" stroke="#0a0a0a" stroke-width="30" stroke-linecap="round" stroke-linejoin="round"/>
<ellipse cx="53.3" cy="129" rx="7.6" ry="12.3" fill="url(#og)" stroke="#f0c868" stroke-width="0.9"/>
<ellipse cx="54.9" cy="157.6" rx="10.9" ry="16" fill="url(#og)" stroke="#f0c868" stroke-width="0.9"/>
<ellipse cx="76.7" cy="140.7" rx="18" ry="22.7" fill="url(#og)" stroke="#f0c868" stroke-width="0.9"/>
<circle cx="47" cy="135.8" r="4.9" fill="#25dc25"/>
<circle cx="90.1" cy="160.2" r="5.5" fill="#1766e6"/>
<text x="54.2" y="130.5" font-size="9" font-weight="bold" fill="#e3262b" text-anchor="middle">γ<tspan font-size="6" dy="1.5">2</tspan></text>
<text x="55.3" y="158.8" font-size="9" font-weight="bold" fill="#e3262b" text-anchor="middle">β<tspan font-size="6" dy="1.5">3</tspan></text>
<text x="77.3" y="145" font-size="13.5" font-weight="bold" fill="#e3262b" text-anchor="middle">αs</text>
</g>
<g transform="translate(-0.5,353.7)">
<text x="24.3" y="47.6" font-size="13" font-weight="bold" fill="#111">β1-AR</text>
<path transform="translate(30,48) scale(0.08889)" d="M515,75 C507.5,69.2 489.2,47.2 470,40 C450.8,32.8 428.3,30.3 400,32 C371.7,33.7 336.7,40.3 300,50 C263.3,59.7 213.3,76.7 180,90 C146.7,103.3 116.3,113.3 100,130 C83.7,146.7 82.0,166.7 82,190 C82.0,213.3 89.5,243.3 100,270 C110.5,296.7 135.0,321.7 145,350 C155.0,378.3 159.2,406.7 160,440 C160.8,473.3 148.3,515.0 150,550 C151.7,585.0 161.7,620.0 170,650 C178.3,680.0 191.3,709.2 200,730 C208.7,750.8 215.7,780.0 222,775 C228.3,770.0 236.3,730.8 238,700 C239.7,669.2 236.3,628.3 232,590 C227.7,551.7 218.7,510.0 212,470 C205.3,430.0 194.8,380.8 192,350 C189.2,319.2 190.3,298.0 195,285 C199.7,272.0 208.3,268.7 220,272 C231.7,275.3 250.8,287.0 265,305 C279.2,323.0 295.5,352.5 305,380 C314.5,407.5 320.8,438.3 322,470 C323.2,501.7 316.0,535.0 312,570 C308.0,605.0 299.2,646.7 298,680 C296.8,713.3 298.0,752.5 305,770 C312.0,787.5 329.2,790.0 340,785 C350.8,780.0 363.3,764.2 370,740 C376.7,715.8 379.7,676.7 380,640 C380.3,603.3 374.5,556.7 372,520 C369.5,483.3 364.5,451.7 365,420 C365.5,388.3 368.3,350.0 375,330 C381.7,310.0 395.5,300.8 405,300 C414.5,299.2 426.2,306.7 432,325 C437.8,343.3 440.0,379.2 440,410 C440.0,440.8 432.0,476.7 432,510 C432.0,543.3 440.3,576.7 440,610 C439.7,643.3 428.3,687.5 430,710 C431.7,732.5 440.8,740.8 450,745 C459.2,749.2 476.3,745.8 485,735 C493.7,724.2 500.3,705.8 502,680 C503.7,654.2 497.0,615.0 495,580 C493.0,545.0 488.8,505.0 490,470 C491.2,435.0 497.0,395.8 502,370 C507.0,344.2 512.8,325.8 520,315 C527.2,304.2 537.5,300.8 545,305 C552.5,309.2 560.5,319.2 565,340 C569.5,360.8 568.7,393.3 572,430 C575.3,466.7 580.3,521.7 585,560 C589.7,598.3 595.0,620.0 600,660 C605.0,700.0 612.5,776.7 615,800" fill="none" stroke="#0a0a0a" stroke-width="30" stroke-linecap="round" stroke-linejoin="round"/>
<ellipse cx="53.3" cy="129" rx="7.6" ry="12.3" fill="url(#og)" stroke="#f0c868" stroke-width="0.9"/>
<ellipse cx="54.9" cy="157.6" rx="10.9" ry="16" fill="url(#og)" stroke="#f0c868" stroke-width="0.9"/>
<ellipse cx="76.7" cy="140.7" rx="18" ry="22.7" fill="url(#og)" stroke="#f0c868" stroke-width="0.9"/>
<circle cx="44" cy="135.8" r="4.9" fill="#25dc25"/>
<circle cx="87.1" cy="160.2" r="5.5" fill="#1766e6"/>
<text x="54.2" y="130.5" font-size="9" font-weight="bold" fill="#e3262b" text-anchor="middle">γ<tspan font-size="6" dy="1.5">2</tspan></text>
<text x="55.3" y="158.8" font-size="9" font-weight="bold" fill="#e3262b" text-anchor="middle">β<tspan font-size="6" dy="1.5">3</tspan></text>
<text x="75.7" y="145" font-size="13.8" font-weight="bold" fill="#e3262b" text-anchor="middle">αi1</text>
</g>
<g transform="translate(0,519)">
<text x="24.3" y="47.6" font-size="13" font-weight="bold" fill="#111">β2-AR</text>
<path transform="translate(30,48) scale(0.08889)" d="M515,75 C507.5,69.2 489.2,47.2 470,40 C450.8,32.8 428.3,30.3 400,32 C371.7,33.7 336.7,40.3 300,50 C263.3,59.7 213.3,76.7 180,90 C146.7,103.3 116.3,113.3 100,130 C83.7,146.7 82.0,166.7 82,190 C82.0,213.3 89.5,243.3 100,270 C110.5,296.7 135.0,321.7 145,350 C155.0,378.3 159.2,406.7 160,440 C160.8,473.3 148.3,515.0 150,550 C151.7,585.0 161.7,620.0 170,650 C178.3,680.0 191.3,709.2 200,730 C208.7,750.8 215.7,780.0 222,775 C228.3,770.0 236.3,730.8 238,700 C239.7,669.2 236.3,628.3 232,590 C227.7,551.7 218.7,510.0 212,470 C205.3,430.0 194.8,380.8 192,350 C189.2,319.2 190.3,298.0 195,285 C199.7,272.0 208.3,268.7 220,272 C231.7,275.3 250.8,287.0 265,305 C279.2,323.0 295.5,352.5 305,380 C314.5,407.5 320.8,438.3 322,470 C323.2,501.7 316.0,535.0 312,570 C308.0,605.0 299.2,646.7 298,680 C296.8,713.3 298.0,752.5 305,770 C312.0,787.5 329.2,790.0 340,785 C350.8,780.0 363.3,764.2 370,740 C376.7,715.8 379.7,676.7 380,640 C380.3,603.3 374.5,556.7 372,520 C369.5,483.3 364.5,451.7 365,420 C365.5,388.3 368.3,350.0 375,330 C381.7,310.0 395.5,300.8 405,300 C414.5,299.2 426.2,306.7 432,325 C437.8,343.3 440.0,379.2 440,410 C440.0,440.8 432.0,476.7 432,510 C432.0,543.3 440.3,576.7 440,610 C439.7,643.3 428.3,687.5 430,710 C431.7,732.5 440.8,740.8 450,745 C459.2,749.2 476.3,745.8 485,735 C493.7,724.2 500.3,705.8 502,680 C503.7,654.2 497.0,615.0 495,580 C493.0,545.0 488.8,505.0 490,470 C491.2,435.0 497.0,395.8 502,370 C507.0,344.2 512.8,325.8 520,315 C527.2,304.2 537.5,300.8 545,305 C552.5,309.2 560.5,319.2 565,340 C569.5,360.8 568.7,393.3 572,430 C575.3,466.7 580.3,521.7 585,560 C589.7,598.3 595.0,620.0 600,660 C605.0,700.0 612.5,776.7 615,800" fill="none" stroke="#0a0a0a" stroke-width="30" stroke-linecap="round" stroke-linejoin="round"/>
<ellipse cx="53.3" cy="129" rx="7.6" ry="12.3" fill="url(#og)" stroke="#f0c868" stroke-width="0.9"/>
<ellipse cx="54.9" cy="157.6" rx="10.9" ry="16" fill="url(#og)" stroke="#f0c868" stroke-width="0.9"/>
<ellipse cx="76.7" cy="140.7" rx="18" ry="22.7" fill="url(#og)" stroke="#f0c868" stroke-width="0.9"/>
<circle cx="44" cy="135.8" r="4.9" fill="#25dc25"/>
<circle cx="87.1" cy="160.2" r="5.5" fill="#1766e6"/>
<text x="54.2" y="130.5" font-size="9" font-weight="bold" fill="#e3262b" text-anchor="middle">γ<tspan font-size="6" dy="1.5">2</tspan></text>
<text x="55.3" y="158.8" font-size="9" font-weight="bold" fill="#e3262b" text-anchor="middle">β<tspan font-size="6" dy="1.5">3</tspan></text>
<text x="75.7" y="145" font-size="13.8" font-weight="bold" fill="#e3262b" text-anchor="middle">αi1</text>
</g>
<g transform="translate(-2,709)">
<text x="24.3" y="47.6" font-size="13" font-weight="bold" fill="#111">β1-AR</text>
<path transform="translate(30,48) scale(0.08889)" d="M515,75 C507.5,69.2 489.2,47.2 470,40 C450.8,32.8 428.3,30.3 400,32 C371.7,33.7 336.7,40.3 300,50 C263.3,59.7 213.3,76.7 180,90 C146.7,103.3 116.3,113.3 100,130 C83.7,146.7 82.0,166.7 82,190 C82.0,213.3 89.5,243.3 100,270 C110.5,296.7 135.0,321.7 145,350 C155.0,378.3 159.2,406.7 160,440 C160.8,473.3 148.3,515.0 150,550 C151.7,585.0 161.7,620.0 170,650 C178.3,680.0 191.3,709.2 200,730 C208.7,750.8 215.7,780.0 222,775 C228.3,770.0 236.3,730.8 238,700 C239.7,669.2 236.3,628.3 232,590 C227.7,551.7 218.7,510.0 212,470 C205.3,430.0 194.8,380.8 192,350 C189.2,319.2 190.3,298.0 195,285 C199.7,272.0 208.3,268.7 220,272 C231.7,275.3 250.8,287.0 265,305 C279.2,323.0 295.5,352.5 305,380 C314.5,407.5 320.8,438.3 322,470 C323.2,501.7 316.0,535.0 312,570 C308.0,605.0 299.2,646.7 298,680 C296.8,713.3 298.0,752.5 305,770 C312.0,787.5 329.2,790.0 340,785 C350.8,780.0 363.3,764.2 370,740 C376.7,715.8 379.7,676.7 380,640 C380.3,603.3 374.5,556.7 372,520 C369.5,483.3 364.5,451.7 365,420 C365.5,388.3 368.3,350.0 375,330 C381.7,310.0 395.5,300.8 405,300 C414.5,299.2 426.2,306.7 432,325 C437.8,343.3 440.0,379.2 440,410 C440.0,440.8 432.0,476.7 432,510 C432.0,543.3 440.3,576.7 440,610 C439.7,643.3 428.3,687.5 430,710 C431.7,732.5 440.8,740.8 450,745 C459.2,749.2 476.3,745.8 485,735 C493.7,724.2 500.3,705.8 502,680 C503.7,654.2 497.0,615.0 495,580 C493.0,545.0 488.8,505.0 490,470 C491.2,435.0 497.0,395.8 502,370 C507.0,344.2 512.8,325.8 520,315 C527.2,304.2 537.5,300.8 545,305 C552.5,309.2 560.5,319.2 565,340 C569.5,360.8 568.7,393.3 572,430 C575.3,466.7 580.3,521.7 585,560 C589.7,598.3 595.0,620.0 600,660 C605.0,700.0 612.5,776.7 615,800" fill="none" stroke="#0a0a0a" stroke-width="30" stroke-linecap="round" stroke-linejoin="round"/>
<ellipse cx="53.3" cy="129" rx="7.6" ry="12.3" fill="url(#og)" stroke="#f0c868" stroke-width="0.9"/>
<ellipse cx="54.9" cy="157.6" rx="10.9" ry="16" fill="url(#og)" stroke="#f0c868" stroke-width="0.9"/>
<ellipse cx="76.7" cy="140.7" rx="18" ry="22.7" fill="url(#og)" stroke="#f0c868" stroke-width="0.9"/>
<circle cx="44" cy="135.8" r="4.9" fill="#25dc25"/>
<circle cx="87.1" cy="160.2" r="5.5" fill="#1766e6"/>
<text x="54.2" y="130.5" font-size="9" font-weight="bold" fill="#e3262b" text-anchor="middle">γ<tspan font-size="6" dy="1.5">2</tspan></text>
<text x="55.3" y="158.8" font-size="9" font-weight="bold" fill="#e3262b" text-anchor="middle">β<tspan font-size="6" dy="1.5">3</tspan></text>
<text x="75.1" y="145" font-size="14.0" font-weight="bold" fill="#e3262b" text-anchor="middle">αoA</text>
</g>
<g transform="translate(-1,880.2)">
<text x="24.3" y="47.6" font-size="13" font-weight="bold" fill="#111">β2-AR</text>
<path d="M84.4,54.69999999999993 C83.8,54.1 82.1,52.0 80.5,51.299999999999955 C78.9,50.6 77.2,50.4 74.6,50.5 C72.0,50.6 68.0,51.2 65,51.799999999999955 C62.0,52.4 59.5,53.2 56.9,54.09999999999991 C54.3,55.0 51.3,56.1 49.5,57.299999999999955 C47.7,58.5 46.8,59.7 46.2,61.299999999999955 C45.6,62.8 45.2,64.3 46,66.59999999999991 C46.8,68.9 49.5,71.6 50.7,74.89999999999998 C51.9,78.2 52.9,82.3 53.3,86.29999999999995 C53.6,90.3 52.4,95.0 52.8,98.79999999999995 C53.2,102.6 54.8,105.6 55.9,109.09999999999991 C57.0,112.5 58.7,119.1 59.5,119.5 C60.3,119.9 60.7,115.9 60.6,111.19999999999993 C60.5,106.5 59.8,97.4 59,91.5 C58.2,85.6 56.3,79.1 55.9,75.89999999999998 C55.5,72.7 55.9,72.9 56.4,72.29999999999995 C56.9,71.7 58.2,72.0 59,72.29999999999995 C59.8,72.5 59.9,72.0 61.1,73.79999999999995 C62.3,75.6 65.3,79.4 66.3,83.19999999999993 C67.2,87.0 67.1,92.0 66.8,96.69999999999993 C66.5,101.4 65.0,107.6 64.7,111.19999999999993 C64.4,114.8 64.7,117.2 65.2,118.5 C65.7,119.8 66.8,119.0 67.5,118.79999999999995 C68.2,118.6 68.5,119.0 69.4,117.39999999999998 C70.3,115.8 72.6,113.4 73,109.09999999999991 C73.4,104.8 72.2,96.5 72,91.5 C71.8,86.5 71.1,81.8 71.5,79.0 C71.9,76.2 73.6,74.9 74.6,74.89999999999998 C75.6,74.9 77.1,75.7 77.7,79.0 C78.3,82.3 78.2,89.2 78.2,94.59999999999991 C78.2,100.0 77.5,107.7 77.7,111.19999999999993 C77.9,114.6 78.3,115.1 79.2,115.29999999999995 C80.1,115.5 82.3,115.3 82.9,112.19999999999993 C83.5,109.1 82.7,102.2 82.9,96.69999999999993 C83.1,91.2 83.2,82.6 83.9,79.0 C84.6,75.4 86.1,74.5 87,74.89999999999998 C87.9,75.2 88.5,77.8 89.1,81.09999999999991 C89.7,84.4 90.0,89.9 90.6,94.59999999999991 C91.2,99.3 92.3,104.6 92.7,109.09999999999991 C93.1,113.6 93.8,118.8 93.2,121.59999999999991 C92.6,124.4 89.8,125.0 89.1,125.69999999999993" fill="none" stroke="#0a0a0a" stroke-width="2.65" stroke-linecap="round" stroke-linejoin="round"/>
<ellipse cx="53.3" cy="129" rx="7.6" ry="12.3" fill="url(#og)" stroke="#f0c868" stroke-width="0.9"/>
<ellipse cx="54.9" cy="157.6" rx="10.9" ry="16" fill="url(#og)" stroke="#f0c868" stroke-width="0.9"/>
<ellipse cx="76.7" cy="140.7" rx="18" ry="22.7" fill="url(#og)" stroke="#f0c868" stroke-width="0.9"/>
<circle cx="44" cy="135.8" r="4.9" fill="#25dc25"/>
<circle cx="87.1" cy="160.2" r="5.5" fill="#1766e6"/>
<text x="54.2" y="130.5" font-size="9" font-weight="bold" fill="#e3262b" text-anchor="middle">γ<tspan font-size="6" dy="1.5">2</tspan></text>
<text x="55.3" y="158.8" font-size="9" font-weight="bold" fill="#e3262b" text-anchor="middle">β<tspan font-size="6" dy="1.5">3</tspan></text>
<text x="75.1" y="145" font-size="14.0" font-weight="bold" fill="#e3262b" text-anchor="middle">αoA</text>
</g>
<text transform="translate(-1.2,19.6) scale(0.88,1)" font-size="36" font-weight="bold" fill="#000">a</text>
<text x="-1" y="372" font-size="36" font-weight="bold" fill="#000">b</text>
<text transform="translate(-2,728.6) scale(0.9,1.03)" font-size="36" font-weight="bold" fill="#000">c</text>
<circle cx="328.7" cy="1079.6" r="5" fill="#000"/>
<text x="340" y="1084.8" font-size="14.8" fill="#111">Gα low</text>
<circle cx="408.1" cy="1079.6" r="5" fill="#e87020"/>
<text x="420" y="1084.8" font-size="14.8" fill="#111">Gα high</text>
</svg>
</body></html>
